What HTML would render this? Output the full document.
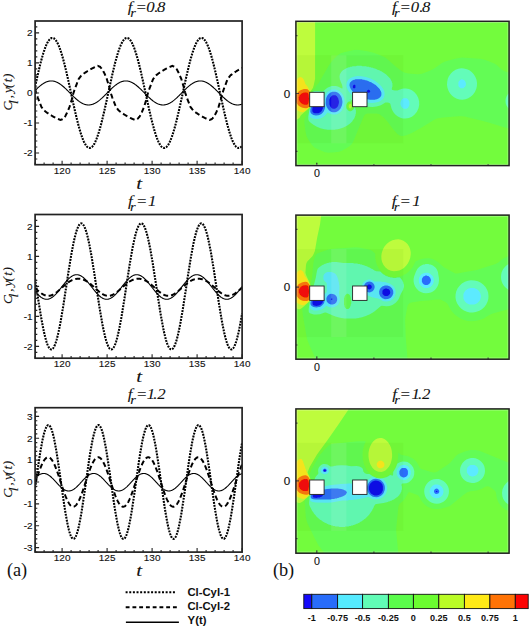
<!DOCTYPE html>
<html><head><meta charset="utf-8"><style>
html,body{margin:0;padding:0;background:#fff;width:529px;height:630px;overflow:hidden}
svg{display:block}
.tk{font-family:"Liberation Sans",sans-serif;font-size:9.8px;fill:#111;stroke:#111;stroke-width:0.12px}
.cb{font-family:"Liberation Sans",sans-serif;font-size:9.1px;font-weight:bold;fill:#111}
.lg{font-family:"Liberation Sans",sans-serif;font-size:11.3px;font-weight:bold;fill:#111}
.ti{font-family:"Liberation Serif",serif;font-style:italic;font-size:14px;fill:#111;stroke:#111;stroke-width:0.08px}
.yl{font-family:"Liberation Serif",serif;font-style:italic;font-size:13.5px;fill:#111;stroke:#111;stroke-width:0.15px}
.tl{font-family:"Liberation Serif",serif;font-style:italic;font-size:17px;fill:#111;stroke:#111;stroke-width:0.1px}
.ab{font-family:"Liberation Serif",serif;font-size:18.3px;fill:#111}
.sub{font-size:10px}
</style></head><body>
<svg width="529" height="630" viewBox="0 0 529 630">
<defs><filter id="soft" x="-5%" y="-5%" width="110%" height="110%"><feGaussianBlur stdDeviation="0.4"/></filter></defs>
<clipPath id="clip21"><rect x="35.1" y="21.0" width="207.0" height="143.7"/></clipPath>
<g clip-path="url(#clip21)" fill="none" stroke="#000">
<path d="M35.1,90.5 L35.4,90.21 L35.69,89.92 L35.99,89.63 L36.28,89.34 L36.58,89.06 L36.87,88.78 L37.17,88.5 L37.47,88.22 L37.76,87.95 L38.06,87.68 L38.35,87.41 L38.65,87.14 L38.94,86.88 L39.24,86.63 L39.54,86.37 L39.83,86.13 L40.13,85.88 L40.42,85.64 L40.72,85.4 L41.01,85.17 L41.31,84.95 L41.61,84.73 L41.9,84.51 L42.2,84.3 L42.49,84.09 L42.79,83.89 L43.08,83.7 L43.38,83.51 L43.68,83.33 L43.97,83.15 L44.27,82.98 L44.56,82.82 L44.86,82.66 L45.15,82.51 L45.45,82.36 L45.75,82.22 L46.04,82.09 L46.34,81.97 L46.63,81.85 L46.93,81.74 L47.22,81.63 L47.52,81.54 L47.82,81.44 L48.11,81.36 L48.41,81.29 L48.7,81.22 L49,81.16 L49.29,81.1 L49.59,81.05 L49.89,81.02 L50.18,80.98 L50.48,80.96 L50.77,80.94 L51.07,80.93 L51.36,80.93 L51.66,80.94 L51.96,80.95 L52.25,80.97 L52.55,81 L52.84,81.03 L53.14,81.07 L53.43,81.12 L53.73,81.18 L54.03,81.25 L54.32,81.32 L54.62,81.4 L54.91,81.48 L55.21,81.58 L55.5,81.68 L55.8,81.78 L56.1,81.9 L56.39,82.02 L56.69,82.15 L56.98,82.28 L57.28,82.43 L57.57,82.57 L57.87,82.73 L58.17,82.89 L58.46,83.06 L58.76,83.23 L59.05,83.41 L59.35,83.59 L59.64,83.78 L59.94,83.98 L60.24,84.18 L60.53,84.39 L60.83,84.6 L61.12,84.82 L61.42,85.05 L61.71,85.27 L62.01,85.51 L62.31,85.74 L62.6,85.99 L62.9,86.23 L63.19,86.48 L63.49,86.74 L63.78,87 L64.08,87.26 L64.38,87.52 L64.67,87.79 L64.97,88.07 L65.26,88.34 L65.56,88.62 L65.85,88.9 L66.15,89.18 L66.45,89.47 L66.74,89.76 L67.04,90.05 L67.33,90.34 L67.63,90.63 L67.92,90.93 L68.22,91.22 L68.52,91.52 L68.81,91.82 L69.11,92.12 L69.4,92.42 L69.7,92.72 L69.99,93.02 L70.29,93.31 L70.59,93.61 L70.88,93.91 L71.18,94.21 L71.47,94.51 L71.77,94.81 L72.06,95.1 L72.36,95.4 L72.66,95.69 L72.95,95.98 L73.25,96.27 L73.54,96.56 L73.84,96.84 L74.13,97.12 L74.43,97.4 L74.73,97.68 L75.02,97.95 L75.32,98.22 L75.61,98.49 L75.91,98.76 L76.2,99.02 L76.5,99.27 L76.8,99.53 L77.09,99.77 L77.39,100.02 L77.68,100.26 L77.98,100.5 L78.27,100.73 L78.57,100.95 L78.87,101.17 L79.16,101.39 L79.46,101.6 L79.75,101.81 L80.05,102.01 L80.34,102.2 L80.64,102.39 L80.94,102.57 L81.23,102.75 L81.53,102.92 L81.82,103.08 L82.12,103.24 L82.41,103.39 L82.71,103.54 L83.01,103.68 L83.3,103.81 L83.6,103.93 L83.89,104.05 L84.19,104.16 L84.48,104.27 L84.78,104.36 L85.08,104.46 L85.37,104.54 L85.67,104.61 L85.96,104.68 L86.26,104.74 L86.55,104.8 L86.85,104.85 L87.15,104.88 L87.44,104.92 L87.74,104.94 L88.03,104.96 L88.33,104.97 L88.62,104.97 L88.92,104.96 L89.22,104.95 L89.51,104.93 L89.81,104.9 L90.1,104.87 L90.4,104.83 L90.69,104.78 L90.99,104.72 L91.29,104.65 L91.58,104.58 L91.88,104.5 L92.17,104.42 L92.47,104.32 L92.76,104.22 L93.06,104.12 L93.36,104 L93.65,103.88 L93.95,103.75 L94.24,103.62 L94.54,103.47 L94.83,103.33 L95.13,103.17 L95.43,103.01 L95.72,102.84 L96.02,102.67 L96.31,102.49 L96.61,102.31 L96.9,102.12 L97.2,101.92 L97.5,101.72 L97.79,101.51 L98.09,101.3 L98.38,101.08 L98.68,100.85 L98.97,100.63 L99.27,100.39 L99.57,100.16 L99.86,99.91 L100.16,99.67 L100.45,99.42 L100.75,99.16 L101.04,98.9 L101.34,98.64 L101.64,98.38 L101.93,98.11 L102.23,97.83 L102.52,97.56 L102.82,97.28 L103.11,97 L103.41,96.72 L103.71,96.43 L104,96.14 L104.3,95.85 L104.59,95.56 L104.89,95.27 L105.18,94.97 L105.48,94.68 L105.78,94.38 L106.07,94.08 L106.37,93.78 L106.66,93.48 L106.96,93.18 L107.25,92.88 L107.55,92.59 L107.85,92.29 L108.14,91.99 L108.44,91.69 L108.73,91.39 L109.03,91.09 L109.32,90.8 L109.62,90.5 L109.92,90.21 L110.21,89.92 L110.51,89.63 L110.8,89.34 L111.1,89.06 L111.39,88.78 L111.69,88.5 L111.99,88.22 L112.28,87.95 L112.58,87.68 L112.87,87.41 L113.17,87.14 L113.46,86.88 L113.76,86.63 L114.06,86.37 L114.35,86.13 L114.65,85.88 L114.94,85.64 L115.24,85.4 L115.53,85.17 L115.83,84.95 L116.13,84.73 L116.42,84.51 L116.72,84.3 L117.01,84.09 L117.31,83.89 L117.6,83.7 L117.9,83.51 L118.2,83.33 L118.49,83.15 L118.79,82.98 L119.08,82.82 L119.38,82.66 L119.67,82.51 L119.97,82.36 L120.27,82.22 L120.56,82.09 L120.86,81.97 L121.15,81.85 L121.45,81.74 L121.74,81.63 L122.04,81.54 L122.34,81.44 L122.63,81.36 L122.93,81.29 L123.22,81.22 L123.52,81.16 L123.81,81.1 L124.11,81.05 L124.41,81.02 L124.7,80.98 L125,80.96 L125.29,80.94 L125.59,80.93 L125.88,80.93 L126.18,80.94 L126.48,80.95 L126.77,80.97 L127.07,81 L127.36,81.03 L127.66,81.07 L127.95,81.12 L128.25,81.18 L128.55,81.25 L128.84,81.32 L129.14,81.4 L129.43,81.48 L129.73,81.58 L130.02,81.68 L130.32,81.78 L130.62,81.9 L130.91,82.02 L131.21,82.15 L131.5,82.28 L131.8,82.43 L132.09,82.57 L132.39,82.73 L132.69,82.89 L132.98,83.06 L133.28,83.23 L133.57,83.41 L133.87,83.59 L134.16,83.78 L134.46,83.98 L134.76,84.18 L135.05,84.39 L135.35,84.6 L135.64,84.82 L135.94,85.05 L136.23,85.27 L136.53,85.51 L136.83,85.74 L137.12,85.99 L137.42,86.23 L137.71,86.48 L138.01,86.74 L138.3,87 L138.6,87.26 L138.9,87.52 L139.19,87.79 L139.49,88.07 L139.78,88.34 L140.08,88.62 L140.37,88.9 L140.67,89.18 L140.97,89.47 L141.26,89.76 L141.56,90.05 L141.85,90.34 L142.15,90.63 L142.44,90.93 L142.74,91.22 L143.04,91.52 L143.33,91.82 L143.63,92.12 L143.92,92.42 L144.22,92.72 L144.51,93.02 L144.81,93.31 L145.11,93.61 L145.4,93.91 L145.7,94.21 L145.99,94.51 L146.29,94.81 L146.58,95.1 L146.88,95.4 L147.18,95.69 L147.47,95.98 L147.77,96.27 L148.06,96.56 L148.36,96.84 L148.65,97.12 L148.95,97.4 L149.25,97.68 L149.54,97.95 L149.84,98.22 L150.13,98.49 L150.43,98.76 L150.72,99.02 L151.02,99.27 L151.32,99.53 L151.61,99.77 L151.91,100.02 L152.2,100.26 L152.5,100.5 L152.79,100.73 L153.09,100.95 L153.39,101.17 L153.68,101.39 L153.98,101.6 L154.27,101.81 L154.57,102.01 L154.86,102.2 L155.16,102.39 L155.46,102.57 L155.75,102.75 L156.05,102.92 L156.34,103.08 L156.64,103.24 L156.93,103.39 L157.23,103.54 L157.53,103.68 L157.82,103.81 L158.12,103.93 L158.41,104.05 L158.71,104.16 L159,104.27 L159.3,104.36 L159.6,104.46 L159.89,104.54 L160.19,104.61 L160.48,104.68 L160.78,104.74 L161.07,104.8 L161.37,104.85 L161.67,104.88 L161.96,104.92 L162.26,104.94 L162.55,104.96 L162.85,104.97 L163.14,104.97 L163.44,104.96 L163.74,104.95 L164.03,104.93 L164.33,104.9 L164.62,104.87 L164.92,104.83 L165.21,104.78 L165.51,104.72 L165.81,104.65 L166.1,104.58 L166.4,104.5 L166.69,104.42 L166.99,104.32 L167.28,104.22 L167.58,104.12 L167.88,104 L168.17,103.88 L168.47,103.75 L168.76,103.62 L169.06,103.47 L169.35,103.33 L169.65,103.17 L169.95,103.01 L170.24,102.84 L170.54,102.67 L170.83,102.49 L171.13,102.31 L171.42,102.12 L171.72,101.92 L172.02,101.72 L172.31,101.51 L172.61,101.3 L172.9,101.08 L173.2,100.85 L173.49,100.63 L173.79,100.39 L174.09,100.16 L174.38,99.91 L174.68,99.67 L174.97,99.42 L175.27,99.16 L175.56,98.9 L175.86,98.64 L176.16,98.38 L176.45,98.11 L176.75,97.83 L177.04,97.56 L177.34,97.28 L177.63,97 L177.93,96.72 L178.23,96.43 L178.52,96.14 L178.82,95.85 L179.11,95.56 L179.41,95.27 L179.7,94.97 L180,94.68 L180.3,94.38 L180.59,94.08 L180.89,93.78 L181.18,93.48 L181.48,93.18 L181.77,92.88 L182.07,92.59 L182.37,92.29 L182.66,91.99 L182.96,91.69 L183.25,91.39 L183.55,91.09 L183.84,90.8 L184.14,90.5 L184.44,90.21 L184.73,89.92 L185.03,89.63 L185.32,89.34 L185.62,89.06 L185.91,88.78 L186.21,88.5 L186.51,88.22 L186.8,87.95 L187.1,87.68 L187.39,87.41 L187.69,87.14 L187.98,86.88 L188.28,86.63 L188.58,86.37 L188.87,86.13 L189.17,85.88 L189.46,85.64 L189.76,85.4 L190.05,85.17 L190.35,84.95 L190.65,84.73 L190.94,84.51 L191.24,84.3 L191.53,84.09 L191.83,83.89 L192.12,83.7 L192.42,83.51 L192.72,83.33 L193.01,83.15 L193.31,82.98 L193.6,82.82 L193.9,82.66 L194.19,82.51 L194.49,82.36 L194.79,82.22 L195.08,82.09 L195.38,81.97 L195.67,81.85 L195.97,81.74 L196.26,81.63 L196.56,81.54 L196.86,81.44 L197.15,81.36 L197.45,81.29 L197.74,81.22 L198.04,81.16 L198.33,81.1 L198.63,81.05 L198.93,81.02 L199.22,80.98 L199.52,80.96 L199.81,80.94 L200.11,80.93 L200.4,80.93 L200.7,80.94 L201,80.95 L201.29,80.97 L201.59,81 L201.88,81.03 L202.18,81.07 L202.47,81.12 L202.77,81.18 L203.07,81.25 L203.36,81.32 L203.66,81.4 L203.95,81.48 L204.25,81.58 L204.54,81.68 L204.84,81.78 L205.14,81.9 L205.43,82.02 L205.73,82.15 L206.02,82.28 L206.32,82.43 L206.61,82.57 L206.91,82.73 L207.21,82.89 L207.5,83.06 L207.8,83.23 L208.09,83.41 L208.39,83.59 L208.68,83.78 L208.98,83.98 L209.28,84.18 L209.57,84.39 L209.87,84.6 L210.16,84.82 L210.46,85.05 L210.75,85.27 L211.05,85.51 L211.35,85.74 L211.64,85.99 L211.94,86.23 L212.23,86.48 L212.53,86.74 L212.82,87 L213.12,87.26 L213.42,87.52 L213.71,87.79 L214.01,88.07 L214.3,88.34 L214.6,88.62 L214.89,88.9 L215.19,89.18 L215.49,89.47 L215.78,89.76 L216.08,90.05 L216.37,90.34 L216.67,90.63 L216.96,90.93 L217.26,91.22 L217.56,91.52 L217.85,91.82 L218.15,92.12 L218.44,92.42 L218.74,92.72 L219.03,93.02 L219.33,93.31 L219.63,93.61 L219.92,93.91 L220.22,94.21 L220.51,94.51 L220.81,94.81 L221.1,95.1 L221.4,95.4 L221.7,95.69 L221.99,95.98 L222.29,96.27 L222.58,96.56 L222.88,96.84 L223.17,97.12 L223.47,97.4 L223.77,97.68 L224.06,97.95 L224.36,98.22 L224.65,98.49 L224.95,98.76 L225.24,99.02 L225.54,99.27 L225.84,99.53 L226.13,99.77 L226.43,100.02 L226.72,100.26 L227.02,100.5 L227.31,100.73 L227.61,100.95 L227.91,101.17 L228.2,101.39 L228.5,101.6 L228.79,101.81 L229.09,102.01 L229.38,102.2 L229.68,102.39 L229.98,102.57 L230.27,102.75 L230.57,102.92 L230.86,103.08 L231.16,103.24 L231.45,103.39 L231.75,103.54 L232.05,103.68 L232.34,103.81 L232.64,103.93 L232.93,104.05 L233.23,104.16 L233.52,104.27 L233.82,104.36 L234.12,104.46 L234.41,104.54 L234.71,104.61 L235,104.68 L235.3,104.74 L235.59,104.8 L235.89,104.85 L236.19,104.88 L236.48,104.92 L236.78,104.94 L237.07,104.96 L237.37,104.97 L237.66,104.97 L237.96,104.96 L238.26,104.95 L238.55,104.93 L238.85,104.9 L239.14,104.87 L239.44,104.83 L239.73,104.78 L240.03,104.72 L240.33,104.65 L240.62,104.58 L240.92,104.5 L241.21,104.42 L241.51,104.32 L241.8,104.22 L242.1,104.12" stroke-width="1.1"/>
<path d="M35.1,88.75 L35.4,89.93 L35.69,91.11 L35.99,92.23 L36.28,93.12 L36.58,94.01 L36.87,94.9 L37.17,95.78 L37.47,96.67 L37.76,97.55 L38.06,98.31 L38.35,99.07 L38.65,99.84 L38.94,100.6 L39.24,101.37 L39.54,102.13 L39.83,102.9 L40.13,103.66 L40.42,104.42 L40.72,105.19 L41.01,105.95 L41.31,106.72 L41.61,107.14 L41.9,107.53 L42.2,107.93 L42.49,108.32 L42.79,108.72 L43.08,109.11 L43.38,109.51 L43.68,109.9 L43.97,110.29 L44.27,110.56 L44.56,110.79 L44.86,111.02 L45.15,111.25 L45.45,111.48 L45.75,111.71 L46.04,111.94 L46.34,112.17 L46.63,112.4 L46.93,112.61 L47.22,112.81 L47.52,113 L47.82,113.2 L48.11,113.4 L48.41,113.6 L48.7,113.79 L49,113.99 L49.29,114.19 L49.59,114.38 L49.89,114.58 L50.18,114.78 L50.48,114.96 L50.77,115.14 L51.07,115.31 L51.36,115.48 L51.66,115.66 L51.96,115.83 L52.25,116 L52.55,116.17 L52.84,116.35 L53.14,116.52 L53.43,116.69 L53.73,116.86 L54.03,117.03 L54.32,117.18 L54.62,117.33 L54.91,117.47 L55.21,117.62 L55.5,117.77 L55.8,117.92 L56.1,118.06 L56.39,118.21 L56.69,118.36 L56.98,118.51 L57.28,118.66 L57.57,118.8 L57.87,118.92 L58.17,119.04 L58.46,119.16 L58.76,119.27 L59.05,119.39 L59.35,119.51 L59.64,119.63 L59.94,119.74 L60.24,119.86 L60.53,119.98 L60.83,119.89 L61.12,119.77 L61.42,119.66 L61.71,119.54 L62.01,119.42 L62.31,119.3 L62.6,119.18 L62.9,119.01 L63.19,118.67 L63.49,118.34 L63.78,118 L64.08,117.67 L64.38,117.33 L64.67,117 L64.97,116.66 L65.26,116.18 L65.56,115.6 L65.85,115.03 L66.15,114.46 L66.45,113.89 L66.74,113.32 L67.04,112.74 L67.33,112.17 L67.63,111.46 L67.92,110.75 L68.22,110.04 L68.52,109.33 L68.81,108.62 L69.11,107.91 L69.4,107.2 L69.7,106.38 L69.99,105.39 L70.29,104.41 L70.59,103.42 L70.88,102.44 L71.18,101.45 L71.47,100.46 L71.77,99.48 L72.06,98.34 L72.36,97.15 L72.66,95.97 L72.95,94.79 L73.25,93.67 L73.54,92.78 L73.84,91.89 L74.13,91 L74.43,90.12 L74.73,89.23 L75.02,88.35 L75.32,87.59 L75.61,86.83 L75.91,86.06 L76.2,85.3 L76.5,84.53 L76.8,83.77 L77.09,83 L77.39,82.24 L77.68,81.48 L77.98,80.71 L78.27,79.95 L78.57,79.18 L78.87,78.76 L79.16,78.37 L79.46,77.97 L79.75,77.58 L80.05,77.18 L80.34,76.79 L80.64,76.39 L80.94,76 L81.23,75.61 L81.53,75.34 L81.82,75.11 L82.12,74.88 L82.41,74.65 L82.71,74.42 L83.01,74.19 L83.3,73.96 L83.6,73.73 L83.89,73.5 L84.19,73.29 L84.48,73.09 L84.78,72.9 L85.08,72.7 L85.37,72.5 L85.67,72.3 L85.96,72.11 L86.26,71.91 L86.55,71.71 L86.85,71.52 L87.15,71.32 L87.44,71.12 L87.74,70.94 L88.03,70.76 L88.33,70.59 L88.62,70.42 L88.92,70.24 L89.22,70.07 L89.51,69.9 L89.81,69.73 L90.1,69.55 L90.4,69.38 L90.69,69.21 L90.99,69.04 L91.29,68.87 L91.58,68.72 L91.88,68.57 L92.17,68.43 L92.47,68.28 L92.76,68.13 L93.06,67.98 L93.36,67.84 L93.65,67.69 L93.95,67.54 L94.24,67.39 L94.54,67.24 L94.83,67.1 L95.13,66.98 L95.43,66.86 L95.72,66.74 L96.02,66.63 L96.31,66.51 L96.61,66.39 L96.9,66.27 L97.2,66.16 L97.5,66.04 L97.79,65.92 L98.09,66.01 L98.38,66.13 L98.68,66.24 L98.97,66.36 L99.27,66.48 L99.57,66.6 L99.86,66.72 L100.16,66.89 L100.45,67.23 L100.75,67.56 L101.04,67.9 L101.34,68.23 L101.64,68.57 L101.93,68.9 L102.23,69.24 L102.52,69.72 L102.82,70.3 L103.11,70.87 L103.41,71.44 L103.71,72.01 L104,72.58 L104.3,73.16 L104.59,73.73 L104.89,74.44 L105.18,75.15 L105.48,75.86 L105.78,76.57 L106.07,77.28 L106.37,77.99 L106.66,78.7 L106.96,79.52 L107.25,80.51 L107.55,81.49 L107.85,82.48 L108.14,83.46 L108.44,84.45 L108.73,85.44 L109.03,86.42 L109.32,87.56 L109.62,88.75 L109.92,89.93 L110.21,91.11 L110.51,92.23 L110.8,93.12 L111.1,94.01 L111.39,94.9 L111.69,95.78 L111.99,96.67 L112.28,97.55 L112.58,98.31 L112.87,99.07 L113.17,99.84 L113.46,100.6 L113.76,101.37 L114.06,102.13 L114.35,102.9 L114.65,103.66 L114.94,104.42 L115.24,105.19 L115.53,105.95 L115.83,106.72 L116.13,107.14 L116.42,107.53 L116.72,107.93 L117.01,108.32 L117.31,108.72 L117.6,109.11 L117.9,109.51 L118.2,109.9 L118.49,110.29 L118.79,110.56 L119.08,110.79 L119.38,111.02 L119.67,111.25 L119.97,111.48 L120.27,111.71 L120.56,111.94 L120.86,112.17 L121.15,112.4 L121.45,112.61 L121.74,112.81 L122.04,113 L122.34,113.2 L122.63,113.4 L122.93,113.6 L123.22,113.79 L123.52,113.99 L123.81,114.19 L124.11,114.38 L124.41,114.58 L124.7,114.78 L125,114.96 L125.29,115.14 L125.59,115.31 L125.88,115.48 L126.18,115.66 L126.48,115.83 L126.77,116 L127.07,116.17 L127.36,116.35 L127.66,116.52 L127.95,116.69 L128.25,116.86 L128.55,117.03 L128.84,117.18 L129.14,117.33 L129.43,117.47 L129.73,117.62 L130.02,117.77 L130.32,117.92 L130.62,118.06 L130.91,118.21 L131.21,118.36 L131.5,118.51 L131.8,118.66 L132.09,118.8 L132.39,118.92 L132.69,119.04 L132.98,119.16 L133.28,119.27 L133.57,119.39 L133.87,119.51 L134.16,119.63 L134.46,119.74 L134.76,119.86 L135.05,119.98 L135.35,119.89 L135.64,119.77 L135.94,119.66 L136.23,119.54 L136.53,119.42 L136.83,119.3 L137.12,119.18 L137.42,119.01 L137.71,118.67 L138.01,118.34 L138.3,118 L138.6,117.67 L138.9,117.33 L139.19,117 L139.49,116.66 L139.78,116.18 L140.08,115.6 L140.37,115.03 L140.67,114.46 L140.97,113.89 L141.26,113.32 L141.56,112.74 L141.85,112.17 L142.15,111.46 L142.44,110.75 L142.74,110.04 L143.04,109.33 L143.33,108.62 L143.63,107.91 L143.92,107.2 L144.22,106.38 L144.51,105.39 L144.81,104.41 L145.11,103.42 L145.4,102.44 L145.7,101.45 L145.99,100.46 L146.29,99.48 L146.58,98.34 L146.88,97.15 L147.18,95.97 L147.47,94.79 L147.77,93.67 L148.06,92.78 L148.36,91.89 L148.65,91 L148.95,90.12 L149.25,89.23 L149.54,88.35 L149.84,87.59 L150.13,86.83 L150.43,86.06 L150.72,85.3 L151.02,84.53 L151.32,83.77 L151.61,83 L151.91,82.24 L152.2,81.48 L152.5,80.71 L152.79,79.95 L153.09,79.18 L153.39,78.76 L153.68,78.37 L153.98,77.97 L154.27,77.58 L154.57,77.18 L154.86,76.79 L155.16,76.39 L155.46,76 L155.75,75.61 L156.05,75.34 L156.34,75.11 L156.64,74.88 L156.93,74.65 L157.23,74.42 L157.53,74.19 L157.82,73.96 L158.12,73.73 L158.41,73.5 L158.71,73.29 L159,73.09 L159.3,72.9 L159.6,72.7 L159.89,72.5 L160.19,72.3 L160.48,72.11 L160.78,71.91 L161.07,71.71 L161.37,71.52 L161.67,71.32 L161.96,71.12 L162.26,70.94 L162.55,70.76 L162.85,70.59 L163.14,70.42 L163.44,70.24 L163.74,70.07 L164.03,69.9 L164.33,69.73 L164.62,69.55 L164.92,69.38 L165.21,69.21 L165.51,69.04 L165.81,68.87 L166.1,68.72 L166.4,68.57 L166.69,68.43 L166.99,68.28 L167.28,68.13 L167.58,67.98 L167.88,67.84 L168.17,67.69 L168.47,67.54 L168.76,67.39 L169.06,67.24 L169.35,67.1 L169.65,66.98 L169.95,66.86 L170.24,66.74 L170.54,66.63 L170.83,66.51 L171.13,66.39 L171.42,66.27 L171.72,66.16 L172.02,66.04 L172.31,65.92 L172.61,66.01 L172.9,66.13 L173.2,66.24 L173.49,66.36 L173.79,66.48 L174.09,66.6 L174.38,66.72 L174.68,66.89 L174.97,67.23 L175.27,67.56 L175.56,67.9 L175.86,68.23 L176.16,68.57 L176.45,68.9 L176.75,69.24 L177.04,69.72 L177.34,70.3 L177.63,70.87 L177.93,71.44 L178.23,72.01 L178.52,72.58 L178.82,73.16 L179.11,73.73 L179.41,74.44 L179.7,75.15 L180,75.86 L180.3,76.57 L180.59,77.28 L180.89,77.99 L181.18,78.7 L181.48,79.52 L181.77,80.51 L182.07,81.49 L182.37,82.48 L182.66,83.46 L182.96,84.45 L183.25,85.44 L183.55,86.42 L183.84,87.56 L184.14,88.75 L184.44,89.93 L184.73,91.11 L185.03,92.23 L185.32,93.12 L185.62,94.01 L185.91,94.9 L186.21,95.78 L186.51,96.67 L186.8,97.55 L187.1,98.31 L187.39,99.07 L187.69,99.84 L187.98,100.6 L188.28,101.37 L188.58,102.13 L188.87,102.9 L189.17,103.66 L189.46,104.42 L189.76,105.19 L190.05,105.95 L190.35,106.72 L190.65,107.14 L190.94,107.53 L191.24,107.93 L191.53,108.32 L191.83,108.72 L192.12,109.11 L192.42,109.51 L192.72,109.9 L193.01,110.29 L193.31,110.56 L193.6,110.79 L193.9,111.02 L194.19,111.25 L194.49,111.48 L194.79,111.71 L195.08,111.94 L195.38,112.17 L195.67,112.4 L195.97,112.61 L196.26,112.81 L196.56,113 L196.86,113.2 L197.15,113.4 L197.45,113.6 L197.74,113.79 L198.04,113.99 L198.33,114.19 L198.63,114.38 L198.93,114.58 L199.22,114.78 L199.52,114.96 L199.81,115.14 L200.11,115.31 L200.4,115.48 L200.7,115.66 L201,115.83 L201.29,116 L201.59,116.17 L201.88,116.35 L202.18,116.52 L202.47,116.69 L202.77,116.86 L203.07,117.03 L203.36,117.18 L203.66,117.33 L203.95,117.47 L204.25,117.62 L204.54,117.77 L204.84,117.92 L205.14,118.06 L205.43,118.21 L205.73,118.36 L206.02,118.51 L206.32,118.66 L206.61,118.8 L206.91,118.92 L207.21,119.04 L207.5,119.16 L207.8,119.27 L208.09,119.39 L208.39,119.51 L208.68,119.63 L208.98,119.74 L209.28,119.86 L209.57,119.98 L209.87,119.89 L210.16,119.77 L210.46,119.66 L210.75,119.54 L211.05,119.42 L211.35,119.3 L211.64,119.18 L211.94,119.01 L212.23,118.67 L212.53,118.34 L212.82,118 L213.12,117.67 L213.42,117.33 L213.71,117 L214.01,116.66 L214.3,116.18 L214.6,115.6 L214.89,115.03 L215.19,114.46 L215.49,113.89 L215.78,113.32 L216.08,112.74 L216.37,112.17 L216.67,111.46 L216.96,110.75 L217.26,110.04 L217.56,109.33 L217.85,108.62 L218.15,107.91 L218.44,107.2 L218.74,106.38 L219.03,105.39 L219.33,104.41 L219.63,103.42 L219.92,102.44 L220.22,101.45 L220.51,100.46 L220.81,99.48 L221.1,98.34 L221.4,97.15 L221.7,95.97 L221.99,94.79 L222.29,93.67 L222.58,92.78 L222.88,91.89 L223.17,91 L223.47,90.12 L223.77,89.23 L224.06,88.35 L224.36,87.59 L224.65,86.83 L224.95,86.06 L225.24,85.3 L225.54,84.53 L225.84,83.77 L226.13,83 L226.43,82.24 L226.72,81.48 L227.02,80.71 L227.31,79.95 L227.61,79.18 L227.91,78.76 L228.2,78.37 L228.5,77.97 L228.79,77.58 L229.09,77.18 L229.38,76.79 L229.68,76.39 L229.98,76 L230.27,75.61 L230.57,75.34 L230.86,75.11 L231.16,74.88 L231.45,74.65 L231.75,74.42 L232.05,74.19 L232.34,73.96 L232.64,73.73 L232.93,73.5 L233.23,73.29 L233.52,73.09 L233.82,72.9 L234.12,72.7 L234.41,72.5 L234.71,72.3 L235,72.11 L235.3,71.91 L235.59,71.71 L235.89,71.52 L236.19,71.32 L236.48,71.12 L236.78,70.94 L237.07,70.76 L237.37,70.59 L237.66,70.42 L237.96,70.24 L238.26,70.07 L238.55,69.9 L238.85,69.73 L239.14,69.55 L239.44,69.38 L239.73,69.21 L240.03,69.04 L240.33,68.87 L240.62,68.72 L240.92,68.57 L241.21,68.43 L241.51,68.28 L241.8,68.13 L242.1,67.98" stroke-width="2" stroke-dasharray="5 3"/>
<path d="M35.1,86.7 L35.4,85.34 L35.69,83.99 L35.99,82.64 L36.28,81.3 L36.58,79.96 L36.87,78.63 L37.17,77.31 L37.47,76 L37.76,74.7 L38.06,73.42 L38.35,72.14 L38.65,70.88 L38.94,69.63 L39.24,68.39 L39.54,67.18 L39.83,65.97 L40.13,64.79 L40.42,63.62 L40.72,62.47 L41.01,61.33 L41.31,60.22 L41.61,59.13 L41.9,58.06 L42.2,57.01 L42.49,55.99 L42.79,54.98 L43.08,54 L43.38,53.05 L43.68,52.12 L43.97,51.21 L44.27,50.33 L44.56,49.48 L44.86,48.65 L45.15,47.85 L45.45,47.08 L45.75,46.34 L46.04,45.63 L46.34,44.94 L46.63,44.29 L46.93,43.67 L47.22,43.07 L47.52,42.51 L47.82,41.98 L48.11,41.48 L48.41,41.01 L48.7,40.58 L49,40.18 L49.29,39.81 L49.59,39.47 L49.89,39.17 L50.18,38.9 L50.48,38.66 L50.77,38.46 L51.07,38.29 L51.36,38.16 L51.66,38.06 L51.96,37.99 L52.25,37.96 L52.55,37.96 L52.84,38 L53.14,38.07 L53.43,38.18 L53.73,38.31 L54.03,38.49 L54.32,38.69 L54.62,38.93 L54.91,39.21 L55.21,39.52 L55.5,39.86 L55.8,40.23 L56.1,40.64 L56.39,41.07 L56.69,41.55 L56.98,42.05 L57.28,42.58 L57.57,43.15 L57.87,43.75 L58.17,44.37 L58.46,45.03 L58.76,45.72 L59.05,46.44 L59.35,47.18 L59.64,47.95 L59.94,48.76 L60.24,49.59 L60.53,50.44 L60.83,51.33 L61.12,52.24 L61.42,53.17 L61.71,54.13 L62.01,55.11 L62.31,56.12 L62.6,57.15 L62.9,58.2 L63.19,59.27 L63.49,60.37 L63.78,61.48 L64.08,62.62 L64.38,63.77 L64.67,64.94 L64.97,66.13 L65.26,67.33 L65.56,68.55 L65.85,69.79 L66.15,71.04 L66.45,72.31 L66.74,73.58 L67.04,74.87 L67.33,76.17 L67.63,77.48 L67.92,78.8 L68.22,80.13 L68.52,81.47 L68.81,82.81 L69.11,84.16 L69.4,85.52 L69.7,86.88 L69.99,88.25 L70.29,89.61 L70.59,90.98 L70.88,92.35 L71.18,93.72 L71.47,95.1 L71.77,96.46 L72.06,97.83 L72.36,99.2 L72.66,100.56 L72.95,101.91 L73.25,103.26 L73.54,104.6 L73.84,105.94 L74.13,107.27 L74.43,108.59 L74.73,109.9 L75.02,111.2 L75.32,112.48 L75.61,113.76 L75.91,115.02 L76.2,116.27 L76.5,117.51 L76.8,118.72 L77.09,119.93 L77.39,121.11 L77.68,122.28 L77.98,123.43 L78.27,124.57 L78.57,125.68 L78.87,126.77 L79.16,127.84 L79.46,128.89 L79.75,129.91 L80.05,130.92 L80.34,131.9 L80.64,132.85 L80.94,133.78 L81.23,134.69 L81.53,135.57 L81.82,136.42 L82.12,137.25 L82.41,138.05 L82.71,138.82 L83.01,139.56 L83.3,140.27 L83.6,140.96 L83.89,141.61 L84.19,142.23 L84.48,142.83 L84.78,143.39 L85.08,143.92 L85.37,144.42 L85.67,144.89 L85.96,145.32 L86.26,145.72 L86.55,146.09 L86.85,146.43 L87.15,146.73 L87.44,147 L87.74,147.24 L88.03,147.44 L88.33,147.61 L88.62,147.74 L88.92,147.84 L89.22,147.91 L89.51,147.94 L89.81,147.94 L90.1,147.9 L90.4,147.83 L90.69,147.72 L90.99,147.59 L91.29,147.41 L91.58,147.21 L91.88,146.97 L92.17,146.69 L92.47,146.38 L92.76,146.04 L93.06,145.67 L93.36,145.26 L93.65,144.83 L93.95,144.35 L94.24,143.85 L94.54,143.32 L94.83,142.75 L95.13,142.15 L95.43,141.53 L95.72,140.87 L96.02,140.18 L96.31,139.46 L96.61,138.72 L96.9,137.95 L97.2,137.14 L97.5,136.31 L97.79,135.46 L98.09,134.57 L98.38,133.66 L98.68,132.73 L98.97,131.77 L99.27,130.79 L99.57,129.78 L99.86,128.75 L100.16,127.7 L100.45,126.63 L100.75,125.53 L101.04,124.42 L101.34,123.28 L101.64,122.13 L101.93,120.96 L102.23,119.77 L102.52,118.57 L102.82,117.35 L103.11,116.11 L103.41,114.86 L103.71,113.59 L104,112.32 L104.3,111.03 L104.59,109.73 L104.89,108.42 L105.18,107.1 L105.48,105.77 L105.78,104.43 L106.07,103.09 L106.37,101.74 L106.66,100.38 L106.96,99.02 L107.25,97.65 L107.55,96.29 L107.85,94.92 L108.14,93.55 L108.44,92.18 L108.73,90.8 L109.03,89.44 L109.32,88.07 L109.62,86.7 L109.92,85.34 L110.21,83.99 L110.51,82.64 L110.8,81.3 L111.1,79.96 L111.39,78.63 L111.69,77.31 L111.99,76 L112.28,74.7 L112.58,73.42 L112.87,72.14 L113.17,70.88 L113.46,69.63 L113.76,68.39 L114.06,67.18 L114.35,65.97 L114.65,64.79 L114.94,63.62 L115.24,62.47 L115.53,61.33 L115.83,60.22 L116.13,59.13 L116.42,58.06 L116.72,57.01 L117.01,55.99 L117.31,54.98 L117.6,54 L117.9,53.05 L118.2,52.12 L118.49,51.21 L118.79,50.33 L119.08,49.48 L119.38,48.65 L119.67,47.85 L119.97,47.08 L120.27,46.34 L120.56,45.63 L120.86,44.94 L121.15,44.29 L121.45,43.67 L121.74,43.07 L122.04,42.51 L122.34,41.98 L122.63,41.48 L122.93,41.01 L123.22,40.58 L123.52,40.18 L123.81,39.81 L124.11,39.47 L124.41,39.17 L124.7,38.9 L125,38.66 L125.29,38.46 L125.59,38.29 L125.88,38.16 L126.18,38.06 L126.48,37.99 L126.77,37.96 L127.07,37.96 L127.36,38 L127.66,38.07 L127.95,38.18 L128.25,38.31 L128.55,38.49 L128.84,38.69 L129.14,38.93 L129.43,39.21 L129.73,39.52 L130.02,39.86 L130.32,40.23 L130.62,40.64 L130.91,41.07 L131.21,41.55 L131.5,42.05 L131.8,42.58 L132.09,43.15 L132.39,43.75 L132.69,44.37 L132.98,45.03 L133.28,45.72 L133.57,46.44 L133.87,47.18 L134.16,47.95 L134.46,48.76 L134.76,49.59 L135.05,50.44 L135.35,51.33 L135.64,52.24 L135.94,53.17 L136.23,54.13 L136.53,55.11 L136.83,56.12 L137.12,57.15 L137.42,58.2 L137.71,59.27 L138.01,60.37 L138.3,61.48 L138.6,62.62 L138.9,63.77 L139.19,64.94 L139.49,66.13 L139.78,67.33 L140.08,68.55 L140.37,69.79 L140.67,71.04 L140.97,72.31 L141.26,73.58 L141.56,74.87 L141.85,76.17 L142.15,77.48 L142.44,78.8 L142.74,80.13 L143.04,81.47 L143.33,82.81 L143.63,84.16 L143.92,85.52 L144.22,86.88 L144.51,88.25 L144.81,89.61 L145.11,90.98 L145.4,92.35 L145.7,93.72 L145.99,95.1 L146.29,96.46 L146.58,97.83 L146.88,99.2 L147.18,100.56 L147.47,101.91 L147.77,103.26 L148.06,104.6 L148.36,105.94 L148.65,107.27 L148.95,108.59 L149.25,109.9 L149.54,111.2 L149.84,112.48 L150.13,113.76 L150.43,115.02 L150.72,116.27 L151.02,117.51 L151.32,118.72 L151.61,119.93 L151.91,121.11 L152.2,122.28 L152.5,123.43 L152.79,124.57 L153.09,125.68 L153.39,126.77 L153.68,127.84 L153.98,128.89 L154.27,129.91 L154.57,130.92 L154.86,131.9 L155.16,132.85 L155.46,133.78 L155.75,134.69 L156.05,135.57 L156.34,136.42 L156.64,137.25 L156.93,138.05 L157.23,138.82 L157.53,139.56 L157.82,140.27 L158.12,140.96 L158.41,141.61 L158.71,142.23 L159,142.83 L159.3,143.39 L159.6,143.92 L159.89,144.42 L160.19,144.89 L160.48,145.32 L160.78,145.72 L161.07,146.09 L161.37,146.43 L161.67,146.73 L161.96,147 L162.26,147.24 L162.55,147.44 L162.85,147.61 L163.14,147.74 L163.44,147.84 L163.74,147.91 L164.03,147.94 L164.33,147.94 L164.62,147.9 L164.92,147.83 L165.21,147.72 L165.51,147.59 L165.81,147.41 L166.1,147.21 L166.4,146.97 L166.69,146.69 L166.99,146.38 L167.28,146.04 L167.58,145.67 L167.88,145.26 L168.17,144.83 L168.47,144.35 L168.76,143.85 L169.06,143.32 L169.35,142.75 L169.65,142.15 L169.95,141.53 L170.24,140.87 L170.54,140.18 L170.83,139.46 L171.13,138.72 L171.42,137.95 L171.72,137.14 L172.02,136.31 L172.31,135.46 L172.61,134.57 L172.9,133.66 L173.2,132.73 L173.49,131.77 L173.79,130.79 L174.09,129.78 L174.38,128.75 L174.68,127.7 L174.97,126.63 L175.27,125.53 L175.56,124.42 L175.86,123.28 L176.16,122.13 L176.45,120.96 L176.75,119.77 L177.04,118.57 L177.34,117.35 L177.63,116.11 L177.93,114.86 L178.23,113.59 L178.52,112.32 L178.82,111.03 L179.11,109.73 L179.41,108.42 L179.7,107.1 L180,105.77 L180.3,104.43 L180.59,103.09 L180.89,101.74 L181.18,100.38 L181.48,99.02 L181.77,97.65 L182.07,96.29 L182.37,94.92 L182.66,93.55 L182.96,92.18 L183.25,90.8 L183.55,89.44 L183.84,88.07 L184.14,86.7 L184.44,85.34 L184.73,83.99 L185.03,82.64 L185.32,81.3 L185.62,79.96 L185.91,78.63 L186.21,77.31 L186.51,76 L186.8,74.7 L187.1,73.42 L187.39,72.14 L187.69,70.88 L187.98,69.63 L188.28,68.39 L188.58,67.18 L188.87,65.97 L189.17,64.79 L189.46,63.62 L189.76,62.47 L190.05,61.33 L190.35,60.22 L190.65,59.13 L190.94,58.06 L191.24,57.01 L191.53,55.99 L191.83,54.98 L192.12,54 L192.42,53.05 L192.72,52.12 L193.01,51.21 L193.31,50.33 L193.6,49.48 L193.9,48.65 L194.19,47.85 L194.49,47.08 L194.79,46.34 L195.08,45.63 L195.38,44.94 L195.67,44.29 L195.97,43.67 L196.26,43.07 L196.56,42.51 L196.86,41.98 L197.15,41.48 L197.45,41.01 L197.74,40.58 L198.04,40.18 L198.33,39.81 L198.63,39.47 L198.93,39.17 L199.22,38.9 L199.52,38.66 L199.81,38.46 L200.11,38.29 L200.4,38.16 L200.7,38.06 L201,37.99 L201.29,37.96 L201.59,37.96 L201.88,38 L202.18,38.07 L202.47,38.18 L202.77,38.31 L203.07,38.49 L203.36,38.69 L203.66,38.93 L203.95,39.21 L204.25,39.52 L204.54,39.86 L204.84,40.23 L205.14,40.64 L205.43,41.07 L205.73,41.55 L206.02,42.05 L206.32,42.58 L206.61,43.15 L206.91,43.75 L207.21,44.37 L207.5,45.03 L207.8,45.72 L208.09,46.44 L208.39,47.18 L208.68,47.95 L208.98,48.76 L209.28,49.59 L209.57,50.44 L209.87,51.33 L210.16,52.24 L210.46,53.17 L210.75,54.13 L211.05,55.11 L211.35,56.12 L211.64,57.15 L211.94,58.2 L212.23,59.27 L212.53,60.37 L212.82,61.48 L213.12,62.62 L213.42,63.77 L213.71,64.94 L214.01,66.13 L214.3,67.33 L214.6,68.55 L214.89,69.79 L215.19,71.04 L215.49,72.31 L215.78,73.58 L216.08,74.87 L216.37,76.17 L216.67,77.48 L216.96,78.8 L217.26,80.13 L217.56,81.47 L217.85,82.81 L218.15,84.16 L218.44,85.52 L218.74,86.88 L219.03,88.25 L219.33,89.61 L219.63,90.98 L219.92,92.35 L220.22,93.72 L220.51,95.1 L220.81,96.46 L221.1,97.83 L221.4,99.2 L221.7,100.56 L221.99,101.91 L222.29,103.26 L222.58,104.6 L222.88,105.94 L223.17,107.27 L223.47,108.59 L223.77,109.9 L224.06,111.2 L224.36,112.48 L224.65,113.76 L224.95,115.02 L225.24,116.27 L225.54,117.51 L225.84,118.72 L226.13,119.93 L226.43,121.11 L226.72,122.28 L227.02,123.43 L227.31,124.57 L227.61,125.68 L227.91,126.77 L228.2,127.84 L228.5,128.89 L228.79,129.91 L229.09,130.92 L229.38,131.9 L229.68,132.85 L229.98,133.78 L230.27,134.69 L230.57,135.57 L230.86,136.42 L231.16,137.25 L231.45,138.05 L231.75,138.82 L232.05,139.56 L232.34,140.27 L232.64,140.96 L232.93,141.61 L233.23,142.23 L233.52,142.83 L233.82,143.39 L234.12,143.92 L234.41,144.42 L234.71,144.89 L235,145.32 L235.3,145.72 L235.59,146.09 L235.89,146.43 L236.19,146.73 L236.48,147 L236.78,147.24 L237.07,147.44 L237.37,147.61 L237.66,147.74 L237.96,147.84 L238.26,147.91 L238.55,147.94 L238.85,147.94 L239.14,147.9 L239.44,147.83 L239.73,147.72 L240.03,147.59 L240.33,147.41 L240.62,147.21 L240.92,146.97 L241.21,146.69 L241.51,146.38 L241.8,146.04 L242.1,145.67" stroke-width="2.1" stroke-dasharray="1.9 1.1"/>
</g>
<path d="M35.1,164.7 v-2.2 M44.1,164.7 v-2.2 M53.1,164.7 v-2.2 M62.1,164.7 v-4 M71.1,164.7 v-2.2 M80.1,164.7 v-2.2 M89.1,164.7 v-2.2 M98.1,164.7 v-2.2 M107.1,164.7 v-4 M116.1,164.7 v-2.2 M125.1,164.7 v-2.2 M134.1,164.7 v-2.2 M143.1,164.7 v-2.2 M152.1,164.7 v-4 M161.1,164.7 v-2.2 M170.1,164.7 v-2.2 M179.1,164.7 v-2.2 M188.1,164.7 v-2.2 M197.1,164.7 v-4 M206.1,164.7 v-2.2 M215.1,164.7 v-2.2 M224.1,164.7 v-2.2 M233.1,164.7 v-2.2 M242.1,164.7 v-4 M35.1,159.06 h2.2 M35.1,153.05 h4 M35.1,147.04 h2.2 M35.1,141.03 h2.2 M35.1,135.02 h2.2 M35.1,129.01 h2.2 M35.1,123 h4 M35.1,116.99 h2.2 M35.1,110.98 h2.2 M35.1,104.97 h2.2 M35.1,98.96 h2.2 M35.1,92.95 h4 M35.1,86.94 h2.2 M35.1,80.93 h2.2 M35.1,74.92 h2.2 M35.1,68.91 h2.2 M35.1,62.9 h4 M35.1,56.89 h2.2 M35.1,50.88 h2.2 M35.1,44.87 h2.2 M35.1,38.86 h2.2 M35.1,32.85 h4 M35.1,26.84 h2.2" stroke="#222" stroke-width="1.1" fill="none"/>
<rect x="35.1" y="21.0" width="207.0" height="143.7" fill="none" stroke="#222" stroke-width="1.7"/>
<text transform="translate(62.1,173.8) scale(1.02,1)" class="tk" text-anchor="middle">120</text>
<text transform="translate(107.1,173.8) scale(1.02,1)" class="tk" text-anchor="middle">125</text>
<text transform="translate(152.1,173.8) scale(1.02,1)" class="tk" text-anchor="middle">130</text>
<text transform="translate(197.1,173.8) scale(1.02,1)" class="tk" text-anchor="middle">135</text>
<text transform="translate(242.1,173.8) scale(1.02,1)" class="tk" text-anchor="middle">140</text>
<text transform="translate(32.5,36.15) scale(1.02,1)" class="tk" text-anchor="end">2</text>
<text transform="translate(32.5,66.2) scale(1.02,1)" class="tk" text-anchor="end">1</text>
<text transform="translate(32.5,96.25) scale(1.02,1)" class="tk" text-anchor="end">0</text>
<text transform="translate(32.5,126.3) scale(1.02,1)" class="tk" text-anchor="end">-1</text>
<text transform="translate(32.5,156.35) scale(1.02,1)" class="tk" text-anchor="end">-2</text>
<clipPath id="clip214"><rect x="35.1" y="214.5" width="207.0" height="143.7"/></clipPath>
<g clip-path="url(#clip214)" fill="none" stroke="#000">
<path d="M35.1,291.34 L35.4,291.69 L35.69,292.04 L35.99,292.39 L36.28,292.72 L36.58,293.06 L36.87,293.39 L37.17,293.71 L37.47,294.03 L37.76,294.33 L38.06,294.64 L38.35,294.93 L38.65,295.22 L38.94,295.5 L39.24,295.77 L39.54,296.03 L39.83,296.29 L40.13,296.53 L40.42,296.77 L40.72,296.99 L41.01,297.21 L41.31,297.42 L41.61,297.62 L41.9,297.8 L42.2,297.98 L42.49,298.15 L42.79,298.3 L43.08,298.45 L43.38,298.58 L43.68,298.7 L43.97,298.81 L44.27,298.91 L44.56,299 L44.86,299.08 L45.15,299.15 L45.45,299.2 L45.75,299.24 L46.04,299.27 L46.34,299.29 L46.63,299.3 L46.93,299.3 L47.22,299.28 L47.52,299.25 L47.82,299.21 L48.11,299.16 L48.41,299.1 L48.7,299.02 L49,298.93 L49.29,298.84 L49.59,298.73 L49.89,298.61 L50.18,298.48 L50.48,298.33 L50.77,298.18 L51.07,298.02 L51.36,297.84 L51.66,297.66 L51.96,297.46 L52.25,297.26 L52.55,297.04 L52.84,296.82 L53.14,296.58 L53.43,296.34 L53.73,296.09 L54.03,295.83 L54.32,295.56 L54.62,295.28 L54.91,294.99 L55.21,294.7 L55.5,294.4 L55.8,294.09 L56.1,293.78 L56.39,293.46 L56.69,293.13 L56.98,292.8 L57.28,292.46 L57.57,292.12 L57.87,291.77 L58.17,291.41 L58.46,291.06 L58.76,290.7 L59.05,290.33 L59.35,289.96 L59.64,289.59 L59.94,289.22 L60.24,288.84 L60.53,288.47 L60.83,288.09 L61.12,287.71 L61.42,287.33 L61.71,286.95 L62.01,286.57 L62.31,286.19 L62.6,285.81 L62.9,285.43 L63.19,285.05 L63.49,284.68 L63.78,284.3 L64.08,283.93 L64.38,283.57 L64.67,283.2 L64.97,282.84 L65.26,282.49 L65.56,282.13 L65.85,281.79 L66.15,281.44 L66.45,281.11 L66.74,280.78 L67.04,280.45 L67.33,280.13 L67.63,279.82 L67.92,279.51 L68.22,279.22 L68.52,278.92 L68.81,278.64 L69.11,278.37 L69.4,278.1 L69.7,277.84 L69.99,277.59 L70.29,277.35 L70.59,277.12 L70.88,276.9 L71.18,276.68 L71.47,276.48 L71.77,276.29 L72.06,276.11 L72.36,275.94 L72.66,275.78 L72.95,275.62 L73.25,275.49 L73.54,275.36 L73.84,275.24 L74.13,275.13 L74.43,275.04 L74.73,274.96 L75.02,274.88 L75.32,274.82 L75.61,274.78 L75.91,274.74 L76.2,274.72 L76.5,274.7 L76.8,274.7 L77.09,274.71 L77.39,274.73 L77.68,274.77 L77.98,274.81 L78.27,274.87 L78.57,274.94 L78.87,275.02 L79.16,275.11 L79.46,275.22 L79.75,275.33 L80.05,275.46 L80.34,275.59 L80.64,275.74 L80.94,275.9 L81.23,276.07 L81.53,276.25 L81.82,276.44 L82.12,276.64 L82.41,276.85 L82.71,277.07 L83.01,277.3 L83.3,277.54 L83.6,277.79 L83.89,278.04 L84.19,278.31 L84.48,278.58 L84.78,278.86 L85.08,279.15 L85.37,279.45 L85.67,279.75 L85.96,280.06 L86.26,280.38 L86.55,280.7 L86.85,281.03 L87.15,281.37 L87.44,281.71 L87.74,282.06 L88.03,282.41 L88.33,282.76 L88.62,283.12 L88.92,283.49 L89.22,283.85 L89.51,284.22 L89.81,284.59 L90.1,284.97 L90.4,285.35 L90.69,285.72 L90.99,286.1 L91.29,286.48 L91.58,286.86 L91.88,287.24 L92.17,287.62 L92.47,288 L92.76,288.38 L93.06,288.76 L93.36,289.14 L93.65,289.51 L93.95,289.88 L94.24,290.25 L94.54,290.62 L94.83,290.98 L95.13,291.34 L95.43,291.69 L95.72,292.04 L96.02,292.39 L96.31,292.72 L96.61,293.06 L96.9,293.39 L97.2,293.71 L97.5,294.03 L97.79,294.33 L98.09,294.64 L98.38,294.93 L98.68,295.22 L98.97,295.5 L99.27,295.77 L99.57,296.03 L99.86,296.29 L100.16,296.53 L100.45,296.77 L100.75,296.99 L101.04,297.21 L101.34,297.42 L101.64,297.62 L101.93,297.8 L102.23,297.98 L102.52,298.15 L102.82,298.3 L103.11,298.45 L103.41,298.58 L103.71,298.7 L104,298.81 L104.3,298.91 L104.59,299 L104.89,299.08 L105.18,299.15 L105.48,299.2 L105.78,299.24 L106.07,299.27 L106.37,299.29 L106.66,299.3 L106.96,299.3 L107.25,299.28 L107.55,299.25 L107.85,299.21 L108.14,299.16 L108.44,299.1 L108.73,299.02 L109.03,298.93 L109.32,298.84 L109.62,298.73 L109.92,298.61 L110.21,298.48 L110.51,298.33 L110.8,298.18 L111.1,298.02 L111.39,297.84 L111.69,297.66 L111.99,297.46 L112.28,297.26 L112.58,297.04 L112.87,296.82 L113.17,296.58 L113.46,296.34 L113.76,296.09 L114.06,295.83 L114.35,295.56 L114.65,295.28 L114.94,294.99 L115.24,294.7 L115.53,294.4 L115.83,294.09 L116.13,293.78 L116.42,293.46 L116.72,293.13 L117.01,292.8 L117.31,292.46 L117.6,292.12 L117.9,291.77 L118.2,291.41 L118.49,291.06 L118.79,290.7 L119.08,290.33 L119.38,289.96 L119.67,289.59 L119.97,289.22 L120.27,288.84 L120.56,288.47 L120.86,288.09 L121.15,287.71 L121.45,287.33 L121.74,286.95 L122.04,286.57 L122.34,286.19 L122.63,285.81 L122.93,285.43 L123.22,285.05 L123.52,284.68 L123.81,284.3 L124.11,283.93 L124.41,283.57 L124.7,283.2 L125,282.84 L125.29,282.49 L125.59,282.13 L125.88,281.79 L126.18,281.44 L126.48,281.11 L126.77,280.78 L127.07,280.45 L127.36,280.13 L127.66,279.82 L127.95,279.51 L128.25,279.22 L128.55,278.92 L128.84,278.64 L129.14,278.37 L129.43,278.1 L129.73,277.84 L130.02,277.59 L130.32,277.35 L130.62,277.12 L130.91,276.9 L131.21,276.68 L131.5,276.48 L131.8,276.29 L132.09,276.11 L132.39,275.94 L132.69,275.78 L132.98,275.62 L133.28,275.49 L133.57,275.36 L133.87,275.24 L134.16,275.13 L134.46,275.04 L134.76,274.96 L135.05,274.88 L135.35,274.82 L135.64,274.78 L135.94,274.74 L136.23,274.72 L136.53,274.7 L136.83,274.7 L137.12,274.71 L137.42,274.73 L137.71,274.77 L138.01,274.81 L138.3,274.87 L138.6,274.94 L138.9,275.02 L139.19,275.11 L139.49,275.22 L139.78,275.33 L140.08,275.46 L140.37,275.59 L140.67,275.74 L140.97,275.9 L141.26,276.07 L141.56,276.25 L141.85,276.44 L142.15,276.64 L142.44,276.85 L142.74,277.07 L143.04,277.3 L143.33,277.54 L143.63,277.79 L143.92,278.04 L144.22,278.31 L144.51,278.58 L144.81,278.86 L145.11,279.15 L145.4,279.45 L145.7,279.75 L145.99,280.06 L146.29,280.38 L146.58,280.7 L146.88,281.03 L147.18,281.37 L147.47,281.71 L147.77,282.06 L148.06,282.41 L148.36,282.76 L148.65,283.12 L148.95,283.49 L149.25,283.85 L149.54,284.22 L149.84,284.59 L150.13,284.97 L150.43,285.35 L150.72,285.72 L151.02,286.1 L151.32,286.48 L151.61,286.86 L151.91,287.24 L152.2,287.62 L152.5,288 L152.79,288.38 L153.09,288.76 L153.39,289.14 L153.68,289.51 L153.98,289.88 L154.27,290.25 L154.57,290.62 L154.86,290.98 L155.16,291.34 L155.46,291.69 L155.75,292.04 L156.05,292.39 L156.34,292.72 L156.64,293.06 L156.93,293.39 L157.23,293.71 L157.53,294.03 L157.82,294.33 L158.12,294.64 L158.41,294.93 L158.71,295.22 L159,295.5 L159.3,295.77 L159.6,296.03 L159.89,296.29 L160.19,296.53 L160.48,296.77 L160.78,296.99 L161.07,297.21 L161.37,297.42 L161.67,297.62 L161.96,297.8 L162.26,297.98 L162.55,298.15 L162.85,298.3 L163.14,298.45 L163.44,298.58 L163.74,298.7 L164.03,298.81 L164.33,298.91 L164.62,299 L164.92,299.08 L165.21,299.15 L165.51,299.2 L165.81,299.24 L166.1,299.27 L166.4,299.29 L166.69,299.3 L166.99,299.3 L167.28,299.28 L167.58,299.25 L167.88,299.21 L168.17,299.16 L168.47,299.1 L168.76,299.02 L169.06,298.93 L169.35,298.84 L169.65,298.73 L169.95,298.61 L170.24,298.48 L170.54,298.33 L170.83,298.18 L171.13,298.02 L171.42,297.84 L171.72,297.66 L172.02,297.46 L172.31,297.26 L172.61,297.04 L172.9,296.82 L173.2,296.58 L173.49,296.34 L173.79,296.09 L174.09,295.83 L174.38,295.56 L174.68,295.28 L174.97,294.99 L175.27,294.7 L175.56,294.4 L175.86,294.09 L176.16,293.78 L176.45,293.46 L176.75,293.13 L177.04,292.8 L177.34,292.46 L177.63,292.12 L177.93,291.77 L178.23,291.41 L178.52,291.06 L178.82,290.7 L179.11,290.33 L179.41,289.96 L179.7,289.59 L180,289.22 L180.3,288.84 L180.59,288.47 L180.89,288.09 L181.18,287.71 L181.48,287.33 L181.77,286.95 L182.07,286.57 L182.37,286.19 L182.66,285.81 L182.96,285.43 L183.25,285.05 L183.55,284.68 L183.84,284.3 L184.14,283.93 L184.44,283.57 L184.73,283.2 L185.03,282.84 L185.32,282.49 L185.62,282.13 L185.91,281.79 L186.21,281.44 L186.51,281.11 L186.8,280.78 L187.1,280.45 L187.39,280.13 L187.69,279.82 L187.98,279.51 L188.28,279.22 L188.58,278.92 L188.87,278.64 L189.17,278.37 L189.46,278.1 L189.76,277.84 L190.05,277.59 L190.35,277.35 L190.65,277.12 L190.94,276.9 L191.24,276.68 L191.53,276.48 L191.83,276.29 L192.12,276.11 L192.42,275.94 L192.72,275.78 L193.01,275.62 L193.31,275.49 L193.6,275.36 L193.9,275.24 L194.19,275.13 L194.49,275.04 L194.79,274.96 L195.08,274.88 L195.38,274.82 L195.67,274.78 L195.97,274.74 L196.26,274.72 L196.56,274.7 L196.86,274.7 L197.15,274.71 L197.45,274.73 L197.74,274.77 L198.04,274.81 L198.33,274.87 L198.63,274.94 L198.93,275.02 L199.22,275.11 L199.52,275.22 L199.81,275.33 L200.11,275.46 L200.4,275.59 L200.7,275.74 L201,275.9 L201.29,276.07 L201.59,276.25 L201.88,276.44 L202.18,276.64 L202.47,276.85 L202.77,277.07 L203.07,277.3 L203.36,277.54 L203.66,277.79 L203.95,278.04 L204.25,278.31 L204.54,278.58 L204.84,278.86 L205.14,279.15 L205.43,279.45 L205.73,279.75 L206.02,280.06 L206.32,280.38 L206.61,280.7 L206.91,281.03 L207.21,281.37 L207.5,281.71 L207.8,282.06 L208.09,282.41 L208.39,282.76 L208.68,283.12 L208.98,283.49 L209.28,283.85 L209.57,284.22 L209.87,284.59 L210.16,284.97 L210.46,285.35 L210.75,285.72 L211.05,286.1 L211.35,286.48 L211.64,286.86 L211.94,287.24 L212.23,287.62 L212.53,288 L212.82,288.38 L213.12,288.76 L213.42,289.14 L213.71,289.51 L214.01,289.88 L214.3,290.25 L214.6,290.62 L214.89,290.98 L215.19,291.34 L215.49,291.69 L215.78,292.04 L216.08,292.39 L216.37,292.72 L216.67,293.06 L216.96,293.39 L217.26,293.71 L217.56,294.03 L217.85,294.33 L218.15,294.64 L218.44,294.93 L218.74,295.22 L219.03,295.5 L219.33,295.77 L219.63,296.03 L219.92,296.29 L220.22,296.53 L220.51,296.77 L220.81,296.99 L221.1,297.21 L221.4,297.42 L221.7,297.62 L221.99,297.8 L222.29,297.98 L222.58,298.15 L222.88,298.3 L223.17,298.45 L223.47,298.58 L223.77,298.7 L224.06,298.81 L224.36,298.91 L224.65,299 L224.95,299.08 L225.24,299.15 L225.54,299.2 L225.84,299.24 L226.13,299.27 L226.43,299.29 L226.72,299.3 L227.02,299.3 L227.31,299.28 L227.61,299.25 L227.91,299.21 L228.2,299.16 L228.5,299.1 L228.79,299.02 L229.09,298.93 L229.38,298.84 L229.68,298.73 L229.98,298.61 L230.27,298.48 L230.57,298.33 L230.86,298.18 L231.16,298.02 L231.45,297.84 L231.75,297.66 L232.05,297.46 L232.34,297.26 L232.64,297.04 L232.93,296.82 L233.23,296.58 L233.52,296.34 L233.82,296.09 L234.12,295.83 L234.41,295.56 L234.71,295.28 L235,294.99 L235.3,294.7 L235.59,294.4 L235.89,294.09 L236.19,293.78 L236.48,293.46 L236.78,293.13 L237.07,292.8 L237.37,292.46 L237.66,292.12 L237.96,291.77 L238.26,291.41 L238.55,291.06 L238.85,290.7 L239.14,290.33 L239.44,289.96 L239.73,289.59 L240.03,289.22 L240.33,288.84 L240.62,288.47 L240.92,288.09 L241.21,287.71 L241.51,287.33 L241.8,286.95 L242.1,286.57" stroke-width="1.1"/>
<path d="M35.1,288.05 L35.4,288.32 L35.69,288.59 L35.99,288.86 L36.28,289.13 L36.58,289.4 L36.87,289.66 L37.17,289.93 L37.47,290.19 L37.76,290.45 L38.06,290.71 L38.35,290.96 L38.65,291.21 L38.94,291.46 L39.24,291.7 L39.54,291.94 L39.83,292.18 L40.13,292.41 L40.42,292.63 L40.72,292.85 L41.01,293.06 L41.31,293.27 L41.61,293.47 L41.9,293.67 L42.2,293.85 L42.49,294.03 L42.79,294.21 L43.08,294.37 L43.38,294.53 L43.68,294.68 L43.97,294.82 L44.27,294.96 L44.56,295.08 L44.86,295.2 L45.15,295.3 L45.45,295.4 L45.75,295.49 L46.04,295.57 L46.34,295.64 L46.63,295.7 L46.93,295.75 L47.22,295.79 L47.52,295.82 L47.82,295.84 L48.11,295.85 L48.41,295.85 L48.7,295.84 L49,295.82 L49.29,295.79 L49.59,295.75 L49.89,295.71 L50.18,295.65 L50.48,295.58 L50.77,295.5 L51.07,295.42 L51.36,295.32 L51.66,295.21 L51.96,295.1 L52.25,294.98 L52.55,294.85 L52.84,294.71 L53.14,294.56 L53.43,294.4 L53.73,294.24 L54.03,294.06 L54.32,293.89 L54.62,293.7 L54.91,293.51 L55.21,293.31 L55.5,293.1 L55.8,292.89 L56.1,292.67 L56.39,292.45 L56.69,292.22 L56.98,291.98 L57.28,291.75 L57.57,291.5 L57.87,291.26 L58.17,291.01 L58.46,290.75 L58.76,290.5 L59.05,290.24 L59.35,289.97 L59.64,289.71 L59.94,289.45 L60.24,289.18 L60.53,288.91 L60.83,288.64 L61.12,288.37 L61.42,288.1 L61.71,287.83 L62.01,287.56 L62.31,287.29 L62.6,287.02 L62.9,286.76 L63.19,286.49 L63.49,286.22 L63.78,285.96 L64.08,285.7 L64.38,285.44 L64.67,285.19 L64.97,284.94 L65.26,284.69 L65.56,284.44 L65.85,284.2 L66.15,283.96 L66.45,283.72 L66.74,283.49 L67.04,283.27 L67.33,283.04 L67.63,282.82 L67.92,282.61 L68.22,282.4 L68.52,282.2 L68.81,282 L69.11,281.81 L69.4,281.62 L69.7,281.43 L69.99,281.26 L70.29,281.09 L70.59,280.92 L70.88,280.76 L71.18,280.6 L71.47,280.46 L71.77,280.31 L72.06,280.18 L72.36,280.04 L72.66,279.92 L72.95,279.8 L73.25,279.69 L73.54,279.58 L73.84,279.48 L74.13,279.39 L74.43,279.3 L74.73,279.22 L75.02,279.15 L75.32,279.08 L75.61,279.02 L75.91,278.96 L76.2,278.91 L76.5,278.87 L76.8,278.83 L77.09,278.8 L77.39,278.78 L77.68,278.76 L77.98,278.75 L78.27,278.75 L78.57,278.75 L78.87,278.76 L79.16,278.78 L79.46,278.8 L79.75,278.83 L80.05,278.86 L80.34,278.9 L80.64,278.95 L80.94,279.01 L81.23,279.07 L81.53,279.13 L81.82,279.21 L82.12,279.29 L82.41,279.37 L82.71,279.47 L83.01,279.57 L83.3,279.67 L83.6,279.78 L83.89,279.9 L84.19,280.02 L84.48,280.15 L84.78,280.29 L85.08,280.43 L85.37,280.58 L85.67,280.73 L85.96,280.89 L86.26,281.06 L86.55,281.23 L86.85,281.4 L87.15,281.59 L87.44,281.77 L87.74,281.97 L88.03,282.16 L88.33,282.37 L88.62,282.57 L88.92,282.79 L89.22,283 L89.51,283.23 L89.81,283.45 L90.1,283.68 L90.4,283.92 L90.69,284.16 L90.99,284.4 L91.29,284.64 L91.58,284.89 L91.88,285.14 L92.17,285.4 L92.47,285.66 L92.76,285.92 L93.06,286.18 L93.36,286.44 L93.65,286.71 L93.95,286.98 L94.24,287.24 L94.54,287.51 L94.83,287.78 L95.13,288.05 L95.43,288.32 L95.72,288.59 L96.02,288.86 L96.31,289.13 L96.61,289.4 L96.9,289.66 L97.2,289.93 L97.5,290.19 L97.79,290.45 L98.09,290.71 L98.38,290.96 L98.68,291.21 L98.97,291.46 L99.27,291.7 L99.57,291.94 L99.86,292.18 L100.16,292.41 L100.45,292.63 L100.75,292.85 L101.04,293.06 L101.34,293.27 L101.64,293.47 L101.93,293.67 L102.23,293.85 L102.52,294.03 L102.82,294.21 L103.11,294.37 L103.41,294.53 L103.71,294.68 L104,294.82 L104.3,294.96 L104.59,295.08 L104.89,295.2 L105.18,295.3 L105.48,295.4 L105.78,295.49 L106.07,295.57 L106.37,295.64 L106.66,295.7 L106.96,295.75 L107.25,295.79 L107.55,295.82 L107.85,295.84 L108.14,295.85 L108.44,295.85 L108.73,295.84 L109.03,295.82 L109.32,295.79 L109.62,295.75 L109.92,295.71 L110.21,295.65 L110.51,295.58 L110.8,295.5 L111.1,295.42 L111.39,295.32 L111.69,295.21 L111.99,295.1 L112.28,294.98 L112.58,294.85 L112.87,294.71 L113.17,294.56 L113.46,294.4 L113.76,294.24 L114.06,294.06 L114.35,293.89 L114.65,293.7 L114.94,293.51 L115.24,293.31 L115.53,293.1 L115.83,292.89 L116.13,292.67 L116.42,292.45 L116.72,292.22 L117.01,291.98 L117.31,291.75 L117.6,291.5 L117.9,291.26 L118.2,291.01 L118.49,290.75 L118.79,290.5 L119.08,290.24 L119.38,289.97 L119.67,289.71 L119.97,289.45 L120.27,289.18 L120.56,288.91 L120.86,288.64 L121.15,288.37 L121.45,288.1 L121.74,287.83 L122.04,287.56 L122.34,287.29 L122.63,287.02 L122.93,286.76 L123.22,286.49 L123.52,286.22 L123.81,285.96 L124.11,285.7 L124.41,285.44 L124.7,285.19 L125,284.94 L125.29,284.69 L125.59,284.44 L125.88,284.2 L126.18,283.96 L126.48,283.72 L126.77,283.49 L127.07,283.27 L127.36,283.04 L127.66,282.82 L127.95,282.61 L128.25,282.4 L128.55,282.2 L128.84,282 L129.14,281.81 L129.43,281.62 L129.73,281.43 L130.02,281.26 L130.32,281.09 L130.62,280.92 L130.91,280.76 L131.21,280.6 L131.5,280.46 L131.8,280.31 L132.09,280.18 L132.39,280.04 L132.69,279.92 L132.98,279.8 L133.28,279.69 L133.57,279.58 L133.87,279.48 L134.16,279.39 L134.46,279.3 L134.76,279.22 L135.05,279.15 L135.35,279.08 L135.64,279.02 L135.94,278.96 L136.23,278.91 L136.53,278.87 L136.83,278.83 L137.12,278.8 L137.42,278.78 L137.71,278.76 L138.01,278.75 L138.3,278.75 L138.6,278.75 L138.9,278.76 L139.19,278.78 L139.49,278.8 L139.78,278.83 L140.08,278.86 L140.37,278.9 L140.67,278.95 L140.97,279.01 L141.26,279.07 L141.56,279.13 L141.85,279.21 L142.15,279.29 L142.44,279.37 L142.74,279.47 L143.04,279.57 L143.33,279.67 L143.63,279.78 L143.92,279.9 L144.22,280.02 L144.51,280.15 L144.81,280.29 L145.11,280.43 L145.4,280.58 L145.7,280.73 L145.99,280.89 L146.29,281.06 L146.58,281.23 L146.88,281.4 L147.18,281.59 L147.47,281.77 L147.77,281.97 L148.06,282.16 L148.36,282.37 L148.65,282.57 L148.95,282.79 L149.25,283 L149.54,283.23 L149.84,283.45 L150.13,283.68 L150.43,283.92 L150.72,284.16 L151.02,284.4 L151.32,284.64 L151.61,284.89 L151.91,285.14 L152.2,285.4 L152.5,285.66 L152.79,285.92 L153.09,286.18 L153.39,286.44 L153.68,286.71 L153.98,286.98 L154.27,287.24 L154.57,287.51 L154.86,287.78 L155.16,288.05 L155.46,288.32 L155.75,288.59 L156.05,288.86 L156.34,289.13 L156.64,289.4 L156.93,289.66 L157.23,289.93 L157.53,290.19 L157.82,290.45 L158.12,290.71 L158.41,290.96 L158.71,291.21 L159,291.46 L159.3,291.7 L159.6,291.94 L159.89,292.18 L160.19,292.41 L160.48,292.63 L160.78,292.85 L161.07,293.06 L161.37,293.27 L161.67,293.47 L161.96,293.67 L162.26,293.85 L162.55,294.03 L162.85,294.21 L163.14,294.37 L163.44,294.53 L163.74,294.68 L164.03,294.82 L164.33,294.96 L164.62,295.08 L164.92,295.2 L165.21,295.3 L165.51,295.4 L165.81,295.49 L166.1,295.57 L166.4,295.64 L166.69,295.7 L166.99,295.75 L167.28,295.79 L167.58,295.82 L167.88,295.84 L168.17,295.85 L168.47,295.85 L168.76,295.84 L169.06,295.82 L169.35,295.79 L169.65,295.75 L169.95,295.71 L170.24,295.65 L170.54,295.58 L170.83,295.5 L171.13,295.42 L171.42,295.32 L171.72,295.21 L172.02,295.1 L172.31,294.98 L172.61,294.85 L172.9,294.71 L173.2,294.56 L173.49,294.4 L173.79,294.24 L174.09,294.06 L174.38,293.89 L174.68,293.7 L174.97,293.51 L175.27,293.31 L175.56,293.1 L175.86,292.89 L176.16,292.67 L176.45,292.45 L176.75,292.22 L177.04,291.98 L177.34,291.75 L177.63,291.5 L177.93,291.26 L178.23,291.01 L178.52,290.75 L178.82,290.5 L179.11,290.24 L179.41,289.97 L179.7,289.71 L180,289.45 L180.3,289.18 L180.59,288.91 L180.89,288.64 L181.18,288.37 L181.48,288.1 L181.77,287.83 L182.07,287.56 L182.37,287.29 L182.66,287.02 L182.96,286.76 L183.25,286.49 L183.55,286.22 L183.84,285.96 L184.14,285.7 L184.44,285.44 L184.73,285.19 L185.03,284.94 L185.32,284.69 L185.62,284.44 L185.91,284.2 L186.21,283.96 L186.51,283.72 L186.8,283.49 L187.1,283.27 L187.39,283.04 L187.69,282.82 L187.98,282.61 L188.28,282.4 L188.58,282.2 L188.87,282 L189.17,281.81 L189.46,281.62 L189.76,281.43 L190.05,281.26 L190.35,281.09 L190.65,280.92 L190.94,280.76 L191.24,280.6 L191.53,280.46 L191.83,280.31 L192.12,280.18 L192.42,280.04 L192.72,279.92 L193.01,279.8 L193.31,279.69 L193.6,279.58 L193.9,279.48 L194.19,279.39 L194.49,279.3 L194.79,279.22 L195.08,279.15 L195.38,279.08 L195.67,279.02 L195.97,278.96 L196.26,278.91 L196.56,278.87 L196.86,278.83 L197.15,278.8 L197.45,278.78 L197.74,278.76 L198.04,278.75 L198.33,278.75 L198.63,278.75 L198.93,278.76 L199.22,278.78 L199.52,278.8 L199.81,278.83 L200.11,278.86 L200.4,278.9 L200.7,278.95 L201,279.01 L201.29,279.07 L201.59,279.13 L201.88,279.21 L202.18,279.29 L202.47,279.37 L202.77,279.47 L203.07,279.57 L203.36,279.67 L203.66,279.78 L203.95,279.9 L204.25,280.02 L204.54,280.15 L204.84,280.29 L205.14,280.43 L205.43,280.58 L205.73,280.73 L206.02,280.89 L206.32,281.06 L206.61,281.23 L206.91,281.4 L207.21,281.59 L207.5,281.77 L207.8,281.97 L208.09,282.16 L208.39,282.37 L208.68,282.57 L208.98,282.79 L209.28,283 L209.57,283.23 L209.87,283.45 L210.16,283.68 L210.46,283.92 L210.75,284.16 L211.05,284.4 L211.35,284.64 L211.64,284.89 L211.94,285.14 L212.23,285.4 L212.53,285.66 L212.82,285.92 L213.12,286.18 L213.42,286.44 L213.71,286.71 L214.01,286.98 L214.3,287.24 L214.6,287.51 L214.89,287.78 L215.19,288.05 L215.49,288.32 L215.78,288.59 L216.08,288.86 L216.37,289.13 L216.67,289.4 L216.96,289.66 L217.26,289.93 L217.56,290.19 L217.85,290.45 L218.15,290.71 L218.44,290.96 L218.74,291.21 L219.03,291.46 L219.33,291.7 L219.63,291.94 L219.92,292.18 L220.22,292.41 L220.51,292.63 L220.81,292.85 L221.1,293.06 L221.4,293.27 L221.7,293.47 L221.99,293.67 L222.29,293.85 L222.58,294.03 L222.88,294.21 L223.17,294.37 L223.47,294.53 L223.77,294.68 L224.06,294.82 L224.36,294.96 L224.65,295.08 L224.95,295.2 L225.24,295.3 L225.54,295.4 L225.84,295.49 L226.13,295.57 L226.43,295.64 L226.72,295.7 L227.02,295.75 L227.31,295.79 L227.61,295.82 L227.91,295.84 L228.2,295.85 L228.5,295.85 L228.79,295.84 L229.09,295.82 L229.38,295.79 L229.68,295.75 L229.98,295.71 L230.27,295.65 L230.57,295.58 L230.86,295.5 L231.16,295.42 L231.45,295.32 L231.75,295.21 L232.05,295.1 L232.34,294.98 L232.64,294.85 L232.93,294.71 L233.23,294.56 L233.52,294.4 L233.82,294.24 L234.12,294.06 L234.41,293.89 L234.71,293.7 L235,293.51 L235.3,293.31 L235.59,293.1 L235.89,292.89 L236.19,292.67 L236.48,292.45 L236.78,292.22 L237.07,291.98 L237.37,291.75 L237.66,291.5 L237.96,291.26 L238.26,291.01 L238.55,290.75 L238.85,290.5 L239.14,290.24 L239.44,289.97 L239.73,289.71 L240.03,289.45 L240.33,289.18 L240.62,288.91 L240.92,288.64 L241.21,288.37 L241.51,288.1 L241.8,287.83 L242.1,287.56" stroke-width="2" stroke-dasharray="5 3"/>
<path d="M35.1,278.85 L35.4,280.79 L35.69,282.74 L35.99,284.68 L36.28,286.63 L36.58,288.58 L36.87,290.53 L37.17,292.47 L37.47,294.41 L37.76,296.34 L38.06,298.26 L38.35,300.17 L38.65,302.07 L38.94,303.95 L39.24,305.81 L39.54,307.66 L39.83,309.48 L40.13,311.29 L40.42,313.06 L40.72,314.82 L41.01,316.54 L41.31,318.24 L41.61,319.91 L41.9,321.54 L42.2,323.15 L42.49,324.71 L42.79,326.24 L43.08,327.73 L43.38,329.18 L43.68,330.59 L43.97,331.96 L44.27,333.29 L44.56,334.57 L44.86,335.8 L45.15,336.99 L45.45,338.12 L45.75,339.21 L46.04,340.25 L46.34,341.24 L46.63,342.17 L46.93,343.05 L47.22,343.88 L47.52,344.65 L47.82,345.36 L48.11,346.02 L48.41,346.62 L48.7,347.17 L49,347.65 L49.29,348.08 L49.59,348.45 L49.89,348.75 L50.18,349 L50.48,349.19 L50.77,349.32 L51.07,349.39 L51.36,349.4 L51.66,349.34 L51.96,349.23 L52.25,349.06 L52.55,348.82 L52.84,348.53 L53.14,348.18 L53.43,347.77 L53.73,347.3 L54.03,346.77 L54.32,346.18 L54.62,345.54 L54.91,344.84 L55.21,344.08 L55.5,343.27 L55.8,342.4 L56.1,341.49 L56.39,340.51 L56.69,339.49 L56.98,338.41 L57.28,337.29 L57.57,336.11 L57.87,334.89 L58.17,333.63 L58.46,332.31 L58.76,330.96 L59.05,329.56 L59.35,328.11 L59.64,326.63 L59.94,325.11 L60.24,323.56 L60.53,321.97 L60.83,320.34 L61.12,318.68 L61.42,316.99 L61.71,315.27 L62.01,313.52 L62.31,311.75 L62.6,309.95 L62.9,308.14 L63.19,306.29 L63.49,304.44 L63.78,302.56 L64.08,300.67 L64.38,298.76 L64.67,296.84 L64.97,294.92 L65.26,292.98 L65.56,291.04 L65.85,289.09 L66.15,287.14 L66.45,285.19 L66.74,283.24 L67.04,281.3 L67.33,279.36 L67.63,277.42 L67.92,275.5 L68.22,273.58 L68.52,271.68 L68.81,269.79 L69.11,267.92 L69.4,266.06 L69.7,264.23 L69.99,262.41 L70.29,260.62 L70.59,258.86 L70.88,257.12 L71.18,255.4 L71.47,253.72 L71.77,252.07 L72.06,250.45 L72.36,248.87 L72.66,247.32 L72.95,245.81 L73.25,244.34 L73.54,242.91 L73.84,241.52 L74.13,240.17 L74.43,238.87 L74.73,237.61 L75.02,236.4 L75.32,235.24 L75.61,234.13 L75.91,233.06 L76.2,232.05 L76.5,231.09 L76.8,230.18 L77.09,229.33 L77.39,228.53 L77.68,227.79 L77.98,227.1 L78.27,226.47 L78.57,225.9 L78.87,225.38 L79.16,224.93 L79.46,224.53 L79.75,224.19 L80.05,223.91 L80.34,223.7 L80.64,223.54 L80.94,223.44 L81.23,223.4 L81.53,223.42 L81.82,223.51 L82.12,223.65 L82.41,223.85 L82.71,224.11 L83.01,224.44 L83.3,224.82 L83.6,225.26 L83.89,225.76 L84.19,226.32 L84.48,226.93 L84.78,227.6 L85.08,228.33 L85.37,229.12 L85.67,229.96 L85.96,230.85 L86.26,231.79 L86.55,232.79 L86.85,233.84 L87.15,234.94 L87.44,236.09 L87.74,237.29 L88.03,238.54 L88.33,239.83 L88.62,241.16 L88.92,242.54 L89.22,243.96 L89.51,245.42 L89.81,246.92 L90.1,248.46 L90.4,250.03 L90.69,251.64 L90.99,253.29 L91.29,254.96 L91.58,256.67 L91.88,258.4 L92.17,260.16 L92.47,261.94 L92.76,263.75 L93.06,265.58 L93.36,267.43 L93.65,269.3 L93.95,271.19 L94.24,273.08 L94.54,275 L94.83,276.92 L95.13,278.85 L95.43,280.79 L95.72,282.74 L96.02,284.68 L96.31,286.63 L96.61,288.58 L96.9,290.53 L97.2,292.47 L97.5,294.41 L97.79,296.34 L98.09,298.26 L98.38,300.17 L98.68,302.07 L98.97,303.95 L99.27,305.81 L99.57,307.66 L99.86,309.48 L100.16,311.29 L100.45,313.06 L100.75,314.82 L101.04,316.54 L101.34,318.24 L101.64,319.91 L101.93,321.54 L102.23,323.15 L102.52,324.71 L102.82,326.24 L103.11,327.73 L103.41,329.18 L103.71,330.59 L104,331.96 L104.3,333.29 L104.59,334.57 L104.89,335.8 L105.18,336.99 L105.48,338.12 L105.78,339.21 L106.07,340.25 L106.37,341.24 L106.66,342.17 L106.96,343.05 L107.25,343.88 L107.55,344.65 L107.85,345.36 L108.14,346.02 L108.44,346.62 L108.73,347.17 L109.03,347.65 L109.32,348.08 L109.62,348.45 L109.92,348.75 L110.21,349 L110.51,349.19 L110.8,349.32 L111.1,349.39 L111.39,349.4 L111.69,349.34 L111.99,349.23 L112.28,349.06 L112.58,348.82 L112.87,348.53 L113.17,348.18 L113.46,347.77 L113.76,347.3 L114.06,346.77 L114.35,346.18 L114.65,345.54 L114.94,344.84 L115.24,344.08 L115.53,343.27 L115.83,342.4 L116.13,341.49 L116.42,340.51 L116.72,339.49 L117.01,338.41 L117.31,337.29 L117.6,336.11 L117.9,334.89 L118.2,333.63 L118.49,332.31 L118.79,330.96 L119.08,329.56 L119.38,328.11 L119.67,326.63 L119.97,325.11 L120.27,323.56 L120.56,321.97 L120.86,320.34 L121.15,318.68 L121.45,316.99 L121.74,315.27 L122.04,313.52 L122.34,311.75 L122.63,309.95 L122.93,308.14 L123.22,306.29 L123.52,304.44 L123.81,302.56 L124.11,300.67 L124.41,298.76 L124.7,296.84 L125,294.92 L125.29,292.98 L125.59,291.04 L125.88,289.09 L126.18,287.14 L126.48,285.19 L126.77,283.24 L127.07,281.3 L127.36,279.36 L127.66,277.42 L127.95,275.5 L128.25,273.58 L128.55,271.68 L128.84,269.79 L129.14,267.92 L129.43,266.06 L129.73,264.23 L130.02,262.41 L130.32,260.62 L130.62,258.86 L130.91,257.12 L131.21,255.4 L131.5,253.72 L131.8,252.07 L132.09,250.45 L132.39,248.87 L132.69,247.32 L132.98,245.81 L133.28,244.34 L133.57,242.91 L133.87,241.52 L134.16,240.17 L134.46,238.87 L134.76,237.61 L135.05,236.4 L135.35,235.24 L135.64,234.13 L135.94,233.06 L136.23,232.05 L136.53,231.09 L136.83,230.18 L137.12,229.33 L137.42,228.53 L137.71,227.79 L138.01,227.1 L138.3,226.47 L138.6,225.9 L138.9,225.38 L139.19,224.93 L139.49,224.53 L139.78,224.19 L140.08,223.91 L140.37,223.7 L140.67,223.54 L140.97,223.44 L141.26,223.4 L141.56,223.42 L141.85,223.51 L142.15,223.65 L142.44,223.85 L142.74,224.11 L143.04,224.44 L143.33,224.82 L143.63,225.26 L143.92,225.76 L144.22,226.32 L144.51,226.93 L144.81,227.6 L145.11,228.33 L145.4,229.12 L145.7,229.96 L145.99,230.85 L146.29,231.79 L146.58,232.79 L146.88,233.84 L147.18,234.94 L147.47,236.09 L147.77,237.29 L148.06,238.54 L148.36,239.83 L148.65,241.16 L148.95,242.54 L149.25,243.96 L149.54,245.42 L149.84,246.92 L150.13,248.46 L150.43,250.03 L150.72,251.64 L151.02,253.29 L151.32,254.96 L151.61,256.67 L151.91,258.4 L152.2,260.16 L152.5,261.94 L152.79,263.75 L153.09,265.58 L153.39,267.43 L153.68,269.3 L153.98,271.19 L154.27,273.08 L154.57,275 L154.86,276.92 L155.16,278.85 L155.46,280.79 L155.75,282.74 L156.05,284.68 L156.34,286.63 L156.64,288.58 L156.93,290.53 L157.23,292.47 L157.53,294.41 L157.82,296.34 L158.12,298.26 L158.41,300.17 L158.71,302.07 L159,303.95 L159.3,305.81 L159.6,307.66 L159.89,309.48 L160.19,311.29 L160.48,313.06 L160.78,314.82 L161.07,316.54 L161.37,318.24 L161.67,319.91 L161.96,321.54 L162.26,323.15 L162.55,324.71 L162.85,326.24 L163.14,327.73 L163.44,329.18 L163.74,330.59 L164.03,331.96 L164.33,333.29 L164.62,334.57 L164.92,335.8 L165.21,336.99 L165.51,338.12 L165.81,339.21 L166.1,340.25 L166.4,341.24 L166.69,342.17 L166.99,343.05 L167.28,343.88 L167.58,344.65 L167.88,345.36 L168.17,346.02 L168.47,346.62 L168.76,347.17 L169.06,347.65 L169.35,348.08 L169.65,348.45 L169.95,348.75 L170.24,349 L170.54,349.19 L170.83,349.32 L171.13,349.39 L171.42,349.4 L171.72,349.34 L172.02,349.23 L172.31,349.06 L172.61,348.82 L172.9,348.53 L173.2,348.18 L173.49,347.77 L173.79,347.3 L174.09,346.77 L174.38,346.18 L174.68,345.54 L174.97,344.84 L175.27,344.08 L175.56,343.27 L175.86,342.4 L176.16,341.49 L176.45,340.51 L176.75,339.49 L177.04,338.41 L177.34,337.29 L177.63,336.11 L177.93,334.89 L178.23,333.63 L178.52,332.31 L178.82,330.96 L179.11,329.56 L179.41,328.11 L179.7,326.63 L180,325.11 L180.3,323.56 L180.59,321.97 L180.89,320.34 L181.18,318.68 L181.48,316.99 L181.77,315.27 L182.07,313.52 L182.37,311.75 L182.66,309.95 L182.96,308.14 L183.25,306.29 L183.55,304.44 L183.84,302.56 L184.14,300.67 L184.44,298.76 L184.73,296.84 L185.03,294.92 L185.32,292.98 L185.62,291.04 L185.91,289.09 L186.21,287.14 L186.51,285.19 L186.8,283.24 L187.1,281.3 L187.39,279.36 L187.69,277.42 L187.98,275.5 L188.28,273.58 L188.58,271.68 L188.87,269.79 L189.17,267.92 L189.46,266.06 L189.76,264.23 L190.05,262.41 L190.35,260.62 L190.65,258.86 L190.94,257.12 L191.24,255.4 L191.53,253.72 L191.83,252.07 L192.12,250.45 L192.42,248.87 L192.72,247.32 L193.01,245.81 L193.31,244.34 L193.6,242.91 L193.9,241.52 L194.19,240.17 L194.49,238.87 L194.79,237.61 L195.08,236.4 L195.38,235.24 L195.67,234.13 L195.97,233.06 L196.26,232.05 L196.56,231.09 L196.86,230.18 L197.15,229.33 L197.45,228.53 L197.74,227.79 L198.04,227.1 L198.33,226.47 L198.63,225.9 L198.93,225.38 L199.22,224.93 L199.52,224.53 L199.81,224.19 L200.11,223.91 L200.4,223.7 L200.7,223.54 L201,223.44 L201.29,223.4 L201.59,223.42 L201.88,223.51 L202.18,223.65 L202.47,223.85 L202.77,224.11 L203.07,224.44 L203.36,224.82 L203.66,225.26 L203.95,225.76 L204.25,226.32 L204.54,226.93 L204.84,227.6 L205.14,228.33 L205.43,229.12 L205.73,229.96 L206.02,230.85 L206.32,231.79 L206.61,232.79 L206.91,233.84 L207.21,234.94 L207.5,236.09 L207.8,237.29 L208.09,238.54 L208.39,239.83 L208.68,241.16 L208.98,242.54 L209.28,243.96 L209.57,245.42 L209.87,246.92 L210.16,248.46 L210.46,250.03 L210.75,251.64 L211.05,253.29 L211.35,254.96 L211.64,256.67 L211.94,258.4 L212.23,260.16 L212.53,261.94 L212.82,263.75 L213.12,265.58 L213.42,267.43 L213.71,269.3 L214.01,271.19 L214.3,273.08 L214.6,275 L214.89,276.92 L215.19,278.85 L215.49,280.79 L215.78,282.74 L216.08,284.68 L216.37,286.63 L216.67,288.58 L216.96,290.53 L217.26,292.47 L217.56,294.41 L217.85,296.34 L218.15,298.26 L218.44,300.17 L218.74,302.07 L219.03,303.95 L219.33,305.81 L219.63,307.66 L219.92,309.48 L220.22,311.29 L220.51,313.06 L220.81,314.82 L221.1,316.54 L221.4,318.24 L221.7,319.91 L221.99,321.54 L222.29,323.15 L222.58,324.71 L222.88,326.24 L223.17,327.73 L223.47,329.18 L223.77,330.59 L224.06,331.96 L224.36,333.29 L224.65,334.57 L224.95,335.8 L225.24,336.99 L225.54,338.12 L225.84,339.21 L226.13,340.25 L226.43,341.24 L226.72,342.17 L227.02,343.05 L227.31,343.88 L227.61,344.65 L227.91,345.36 L228.2,346.02 L228.5,346.62 L228.79,347.17 L229.09,347.65 L229.38,348.08 L229.68,348.45 L229.98,348.75 L230.27,349 L230.57,349.19 L230.86,349.32 L231.16,349.39 L231.45,349.4 L231.75,349.34 L232.05,349.23 L232.34,349.06 L232.64,348.82 L232.93,348.53 L233.23,348.18 L233.52,347.77 L233.82,347.3 L234.12,346.77 L234.41,346.18 L234.71,345.54 L235,344.84 L235.3,344.08 L235.59,343.27 L235.89,342.4 L236.19,341.49 L236.48,340.51 L236.78,339.49 L237.07,338.41 L237.37,337.29 L237.66,336.11 L237.96,334.89 L238.26,333.63 L238.55,332.31 L238.85,330.96 L239.14,329.56 L239.44,328.11 L239.73,326.63 L240.03,325.11 L240.33,323.56 L240.62,321.97 L240.92,320.34 L241.21,318.68 L241.51,316.99 L241.8,315.27 L242.1,313.52" stroke-width="2.1" stroke-dasharray="1.9 1.1"/>
</g>
<path d="M35.1,358.2 v-2.2 M44.1,358.2 v-2.2 M53.1,358.2 v-2.2 M62.1,358.2 v-4 M71.1,358.2 v-2.2 M80.1,358.2 v-2.2 M89.1,358.2 v-2.2 M98.1,358.2 v-2.2 M107.1,358.2 v-4 M116.1,358.2 v-2.2 M125.1,358.2 v-2.2 M134.1,358.2 v-2.2 M143.1,358.2 v-2.2 M152.1,358.2 v-4 M161.1,358.2 v-2.2 M170.1,358.2 v-2.2 M179.1,358.2 v-2.2 M188.1,358.2 v-2.2 M197.1,358.2 v-4 M206.1,358.2 v-2.2 M215.1,358.2 v-2.2 M224.1,358.2 v-2.2 M233.1,358.2 v-2.2 M242.1,358.2 v-4 M35.1,352.4 h2.2 M35.1,346.4 h4 M35.1,340.4 h2.2 M35.1,334.4 h2.2 M35.1,328.4 h2.2 M35.1,322.4 h2.2 M35.1,316.4 h4 M35.1,310.4 h2.2 M35.1,304.4 h2.2 M35.1,298.4 h2.2 M35.1,292.4 h2.2 M35.1,286.4 h4 M35.1,280.4 h2.2 M35.1,274.4 h2.2 M35.1,268.4 h2.2 M35.1,262.4 h2.2 M35.1,256.4 h4 M35.1,250.4 h2.2 M35.1,244.4 h2.2 M35.1,238.4 h2.2 M35.1,232.4 h2.2 M35.1,226.4 h4 M35.1,220.4 h2.2" stroke="#222" stroke-width="1.1" fill="none"/>
<rect x="35.1" y="214.5" width="207.0" height="143.7" fill="none" stroke="#222" stroke-width="1.7"/>
<text transform="translate(62.1,367.3) scale(1.02,1)" class="tk" text-anchor="middle">120</text>
<text transform="translate(107.1,367.3) scale(1.02,1)" class="tk" text-anchor="middle">125</text>
<text transform="translate(152.1,367.3) scale(1.02,1)" class="tk" text-anchor="middle">130</text>
<text transform="translate(197.1,367.3) scale(1.02,1)" class="tk" text-anchor="middle">135</text>
<text transform="translate(242.1,367.3) scale(1.02,1)" class="tk" text-anchor="middle">140</text>
<text transform="translate(32.5,229.7) scale(1.02,1)" class="tk" text-anchor="end">2</text>
<text transform="translate(32.5,259.7) scale(1.02,1)" class="tk" text-anchor="end">1</text>
<text transform="translate(32.5,289.7) scale(1.02,1)" class="tk" text-anchor="end">0</text>
<text transform="translate(32.5,319.7) scale(1.02,1)" class="tk" text-anchor="end">-1</text>
<text transform="translate(32.5,349.7) scale(1.02,1)" class="tk" text-anchor="end">-2</text>
<clipPath id="clip407"><rect x="35.1" y="407.7" width="207.0" height="144.40000000000003"/></clipPath>
<g clip-path="url(#clip407)" fill="none" stroke="#000">
<path d="M35.1,478.05 L35.4,477.76 L35.69,477.49 L35.99,477.22 L36.28,476.95 L36.58,476.7 L36.87,476.45 L37.17,476.21 L37.47,475.98 L37.76,475.75 L38.06,475.54 L38.35,475.34 L38.65,475.14 L38.94,474.95 L39.24,474.78 L39.54,474.61 L39.83,474.46 L40.13,474.31 L40.42,474.18 L40.72,474.06 L41.01,473.95 L41.31,473.85 L41.61,473.76 L41.9,473.68 L42.2,473.62 L42.49,473.56 L42.79,473.52 L43.08,473.49 L43.38,473.48 L43.68,473.47 L43.97,473.48 L44.27,473.5 L44.56,473.53 L44.86,473.57 L45.15,473.63 L45.45,473.69 L45.75,473.77 L46.04,473.86 L46.34,473.96 L46.63,474.08 L46.93,474.2 L47.22,474.34 L47.52,474.48 L47.82,474.64 L48.11,474.81 L48.41,474.99 L48.7,475.17 L49,475.37 L49.29,475.58 L49.59,475.79 L49.89,476.02 L50.18,476.25 L50.48,476.49 L50.77,476.74 L51.07,477 L51.36,477.26 L51.66,477.53 L51.96,477.81 L52.25,478.1 L52.55,478.38 L52.84,478.68 L53.14,478.98 L53.43,479.28 L53.73,479.59 L54.03,479.9 L54.32,480.22 L54.62,480.53 L54.91,480.85 L55.21,481.18 L55.5,481.5 L55.8,481.82 L56.1,482.15 L56.39,482.47 L56.69,482.8 L56.98,483.12 L57.28,483.44 L57.57,483.76 L57.87,484.08 L58.17,484.4 L58.46,484.71 L58.76,485.02 L59.05,485.33 L59.35,485.63 L59.64,485.93 L59.94,486.22 L60.24,486.5 L60.53,486.78 L60.83,487.06 L61.12,487.32 L61.42,487.58 L61.71,487.84 L62.01,488.08 L62.31,488.32 L62.6,488.55 L62.9,488.77 L63.19,488.98 L63.49,489.18 L63.78,489.37 L64.08,489.55 L64.38,489.73 L64.67,489.89 L64.97,490.04 L65.26,490.18 L65.56,490.31 L65.85,490.43 L66.15,490.53 L66.45,490.63 L66.74,490.71 L67.04,490.78 L67.33,490.84 L67.63,490.89 L67.92,490.93 L68.22,490.95 L68.52,490.97 L68.81,490.97 L69.11,490.95 L69.4,490.93 L69.7,490.89 L69.99,490.85 L70.29,490.79 L70.59,490.71 L70.88,490.63 L71.18,490.54 L71.47,490.43 L71.77,490.31 L72.06,490.18 L72.36,490.04 L72.66,489.89 L72.95,489.73 L73.25,489.56 L73.54,489.38 L73.84,489.19 L74.13,488.99 L74.43,488.78 L74.73,488.56 L75.02,488.33 L75.32,488.09 L75.61,487.85 L75.91,487.6 L76.2,487.34 L76.5,487.07 L76.8,486.79 L77.09,486.52 L77.39,486.23 L77.68,485.94 L77.98,485.64 L78.27,485.34 L78.57,485.03 L78.87,484.73 L79.16,484.41 L79.46,484.1 L79.75,483.78 L80.05,483.46 L80.34,483.13 L80.64,482.81 L80.94,482.49 L81.23,482.16 L81.53,481.84 L81.82,481.51 L82.12,481.19 L82.41,480.87 L82.71,480.55 L83.01,480.23 L83.3,479.92 L83.6,479.6 L83.89,479.3 L84.19,478.99 L84.48,478.69 L84.78,478.4 L85.08,478.11 L85.37,477.82 L85.67,477.55 L85.96,477.28 L86.26,477.01 L86.55,476.75 L86.85,476.5 L87.15,476.26 L87.44,476.03 L87.74,475.8 L88.03,475.59 L88.33,475.38 L88.62,475.18 L88.92,474.99 L89.22,474.82 L89.51,474.65 L89.81,474.49 L90.1,474.34 L90.4,474.21 L90.69,474.08 L90.99,473.97 L91.29,473.87 L91.58,473.78 L91.88,473.7 L92.17,473.63 L92.47,473.57 L92.76,473.53 L93.06,473.5 L93.36,473.48 L93.65,473.47 L93.95,473.48 L94.24,473.49 L94.54,473.52 L94.83,473.56 L95.13,473.61 L95.43,473.68 L95.72,473.75 L96.02,473.84 L96.31,473.94 L96.61,474.05 L96.9,474.17 L97.2,474.31 L97.5,474.45 L97.79,474.61 L98.09,474.77 L98.38,474.95 L98.68,475.13 L98.97,475.33 L99.27,475.53 L99.57,475.75 L99.86,475.97 L100.16,476.2 L100.45,476.44 L100.75,476.69 L101.04,476.94 L101.34,477.21 L101.64,477.48 L101.93,477.75 L102.23,478.03 L102.52,478.32 L102.82,478.62 L103.11,478.91 L103.41,479.22 L103.71,479.52 L104,479.83 L104.3,480.15 L104.59,480.47 L104.89,480.78 L105.18,481.11 L105.48,481.43 L105.78,481.75 L106.07,482.08 L106.37,482.4 L106.66,482.73 L106.96,483.05 L107.25,483.37 L107.55,483.69 L107.85,484.01 L108.14,484.33 L108.44,484.64 L108.73,484.95 L109.03,485.26 L109.32,485.56 L109.62,485.86 L109.92,486.15 L110.21,486.44 L110.51,486.72 L110.8,487 L111.1,487.27 L111.39,487.53 L111.69,487.78 L111.99,488.03 L112.28,488.27 L112.58,488.5 L112.87,488.72 L113.17,488.93 L113.46,489.14 L113.76,489.33 L114.06,489.51 L114.35,489.69 L114.65,489.85 L114.94,490.01 L115.24,490.15 L115.53,490.28 L115.83,490.4 L116.13,490.51 L116.42,490.61 L116.72,490.69 L117.01,490.77 L117.31,490.83 L117.6,490.88 L117.9,490.92 L118.2,490.95 L118.49,490.96 L118.79,490.97 L119.08,490.96 L119.38,490.94 L119.67,490.9 L119.97,490.86 L120.27,490.8 L120.56,490.73 L120.86,490.65 L121.15,490.56 L121.45,490.45 L121.74,490.34 L122.04,490.21 L122.34,490.08 L122.63,489.93 L122.93,489.77 L123.22,489.6 L123.52,489.42 L123.81,489.23 L124.11,489.03 L124.41,488.82 L124.7,488.61 L125,488.38 L125.29,488.14 L125.59,487.9 L125.88,487.65 L126.18,487.39 L126.48,487.13 L126.77,486.85 L127.07,486.58 L127.36,486.29 L127.66,486 L127.95,485.71 L128.25,485.41 L128.55,485.1 L128.84,484.79 L129.14,484.48 L129.43,484.17 L129.73,483.85 L130.02,483.53 L130.32,483.21 L130.62,482.88 L130.91,482.56 L131.21,482.23 L131.5,481.91 L131.8,481.58 L132.09,481.26 L132.39,480.94 L132.69,480.62 L132.98,480.3 L133.28,479.98 L133.57,479.67 L133.87,479.36 L134.16,479.06 L134.46,478.76 L134.76,478.46 L135.05,478.17 L135.35,477.89 L135.64,477.61 L135.94,477.33 L136.23,477.07 L136.53,476.81 L136.83,476.56 L137.12,476.31 L137.42,476.08 L137.71,475.85 L138.01,475.63 L138.3,475.42 L138.6,475.22 L138.9,475.03 L139.19,474.85 L139.49,474.68 L139.78,474.52 L140.08,474.37 L140.37,474.24 L140.67,474.11 L140.97,473.99 L141.26,473.89 L141.56,473.79 L141.85,473.71 L142.15,473.64 L142.44,473.58 L142.74,473.54 L143.04,473.5 L143.33,473.48 L143.63,473.47 L143.92,473.47 L144.22,473.49 L144.51,473.51 L144.81,473.55 L145.11,473.6 L145.4,473.66 L145.7,473.74 L145.99,473.82 L146.29,473.92 L146.58,474.03 L146.88,474.15 L147.18,474.28 L147.47,474.42 L147.77,474.57 L148.06,474.73 L148.36,474.91 L148.65,475.09 L148.95,475.28 L149.25,475.49 L149.54,475.7 L149.84,475.92 L150.13,476.15 L150.43,476.39 L150.72,476.63 L151.02,476.89 L151.32,477.15 L151.61,477.42 L151.91,477.69 L152.2,477.97 L152.5,478.26 L152.79,478.55 L153.09,478.85 L153.39,479.15 L153.68,479.46 L153.98,479.77 L154.27,480.08 L154.57,480.4 L154.86,480.72 L155.16,481.04 L155.46,481.36 L155.75,481.68 L156.05,482.01 L156.34,482.33 L156.64,482.66 L156.93,482.98 L157.23,483.3 L157.53,483.62 L157.82,483.94 L158.12,484.26 L158.41,484.58 L158.71,484.89 L159,485.19 L159.3,485.5 L159.6,485.8 L159.89,486.09 L160.19,486.38 L160.48,486.66 L160.78,486.94 L161.07,487.21 L161.37,487.47 L161.67,487.73 L161.96,487.98 L162.26,488.22 L162.55,488.45 L162.85,488.67 L163.14,488.89 L163.44,489.09 L163.74,489.29 L164.03,489.48 L164.33,489.65 L164.62,489.82 L164.92,489.97 L165.21,490.12 L165.51,490.25 L165.81,490.38 L166.1,490.49 L166.4,490.59 L166.69,490.68 L166.99,490.75 L167.28,490.82 L167.58,490.87 L167.88,490.91 L168.17,490.94 L168.47,490.96 L168.76,490.97 L169.06,490.96 L169.35,490.94 L169.65,490.91 L169.95,490.87 L170.24,490.81 L170.54,490.75 L170.83,490.67 L171.13,490.58 L171.42,490.48 L171.72,490.37 L172.02,490.24 L172.31,490.11 L172.61,489.96 L172.9,489.8 L173.2,489.64 L173.49,489.46 L173.79,489.27 L174.09,489.08 L174.38,488.87 L174.68,488.65 L174.97,488.43 L175.27,488.2 L175.56,487.96 L175.86,487.71 L176.16,487.45 L176.45,487.19 L176.75,486.91 L177.04,486.64 L177.34,486.35 L177.63,486.07 L177.93,485.77 L178.23,485.47 L178.52,485.17 L178.82,484.86 L179.11,484.55 L179.41,484.23 L179.7,483.92 L180,483.6 L180.3,483.28 L180.59,482.95 L180.89,482.63 L181.18,482.3 L181.48,481.98 L181.77,481.65 L182.07,481.33 L182.37,481.01 L182.66,480.69 L182.96,480.37 L183.25,480.05 L183.55,479.74 L183.84,479.43 L184.14,479.12 L184.44,478.82 L184.73,478.53 L185.03,478.23 L185.32,477.95 L185.62,477.67 L185.91,477.39 L186.21,477.12 L186.51,476.86 L186.8,476.61 L187.1,476.37 L187.39,476.13 L187.69,475.9 L187.98,475.68 L188.28,475.47 L188.58,475.27 L188.87,475.07 L189.17,474.89 L189.46,474.72 L189.76,474.56 L190.05,474.41 L190.35,474.26 L190.65,474.14 L190.94,474.02 L191.24,473.91 L191.53,473.81 L191.83,473.73 L192.12,473.66 L192.42,473.6 L192.72,473.55 L193.01,473.51 L193.31,473.49 L193.6,473.47 L193.9,473.47 L194.19,473.48 L194.49,473.51 L194.79,473.54 L195.08,473.59 L195.38,473.65 L195.67,473.72 L195.97,473.8 L196.26,473.9 L196.56,474 L196.86,474.12 L197.15,474.25 L197.45,474.39 L197.74,474.54 L198.04,474.7 L198.33,474.87 L198.63,475.05 L198.93,475.24 L199.22,475.44 L199.52,475.65 L199.81,475.87 L200.11,476.1 L200.4,476.33 L200.7,476.58 L201,476.83 L201.29,477.09 L201.59,477.36 L201.88,477.63 L202.18,477.91 L202.47,478.2 L202.77,478.49 L203.07,478.78 L203.36,479.08 L203.66,479.39 L203.95,479.7 L204.25,480.01 L204.54,480.33 L204.84,480.65 L205.14,480.97 L205.43,481.29 L205.73,481.61 L206.02,481.94 L206.32,482.26 L206.61,482.59 L206.91,482.91 L207.21,483.23 L207.5,483.56 L207.8,483.88 L208.09,484.19 L208.39,484.51 L208.68,484.82 L208.98,485.13 L209.28,485.43 L209.57,485.73 L209.87,486.03 L210.16,486.32 L210.46,486.6 L210.75,486.88 L211.05,487.15 L211.35,487.42 L211.64,487.67 L211.94,487.92 L212.23,488.17 L212.53,488.4 L212.82,488.63 L213.12,488.84 L213.42,489.05 L213.71,489.25 L214.01,489.44 L214.3,489.61 L214.6,489.78 L214.89,489.94 L215.19,490.09 L215.49,490.22 L215.78,490.35 L216.08,490.46 L216.37,490.57 L216.67,490.66 L216.96,490.74 L217.26,490.81 L217.56,490.86 L217.85,490.91 L218.15,490.94 L218.44,490.96 L218.74,490.97 L219.03,490.96 L219.33,490.95 L219.63,490.92 L219.92,490.88 L220.22,490.83 L220.51,490.76 L220.81,490.69 L221.1,490.6 L221.4,490.5 L221.7,490.39 L221.99,490.27 L222.29,490.14 L222.58,489.99 L222.88,489.84 L223.17,489.67 L223.47,489.5 L223.77,489.31 L224.06,489.12 L224.36,488.92 L224.65,488.7 L224.95,488.48 L225.24,488.25 L225.54,488.01 L225.84,487.76 L226.13,487.51 L226.43,487.24 L226.72,486.97 L227.02,486.7 L227.31,486.42 L227.61,486.13 L227.91,485.84 L228.2,485.54 L228.5,485.23 L228.79,484.93 L229.09,484.62 L229.38,484.3 L229.68,483.99 L229.98,483.67 L230.27,483.35 L230.57,483.02 L230.86,482.7 L231.16,482.37 L231.45,482.05 L231.75,481.72 L232.05,481.4 L232.34,481.08 L232.64,480.76 L232.93,480.44 L233.23,480.12 L233.52,479.81 L233.82,479.5 L234.12,479.19 L234.41,478.89 L234.71,478.59 L235,478.3 L235.3,478.01 L235.59,477.73 L235.89,477.45 L236.19,477.18 L236.48,476.92 L236.78,476.67 L237.07,476.42 L237.37,476.18 L237.66,475.95 L237.96,475.73 L238.26,475.51 L238.55,475.31 L238.85,475.11 L239.14,474.93 L239.44,474.76 L239.73,474.59 L240.03,474.44 L240.33,474.29 L240.62,474.16 L240.92,474.04 L241.21,473.93 L241.51,473.83 L241.8,473.75 L242.1,473.67" stroke-width="1.1"/>
<path d="M35.1,483.67 L35.4,482.76 L35.69,481.84 L35.99,480.92 L36.28,480.01 L36.58,479.09 L36.87,478.19 L37.17,477.28 L37.47,476.38 L37.76,475.49 L38.06,474.61 L38.35,473.74 L38.65,472.88 L38.94,472.04 L39.24,471.21 L39.54,470.39 L39.83,469.59 L40.13,468.8 L40.42,468.03 L40.72,467.29 L41.01,466.56 L41.31,465.85 L41.61,465.17 L41.9,464.51 L42.2,463.87 L42.49,463.26 L42.79,462.68 L43.08,462.12 L43.38,461.59 L43.68,461.09 L43.97,460.61 L44.27,460.17 L44.56,459.75 L44.86,459.37 L45.15,459.01 L45.45,458.69 L45.75,458.4 L46.04,458.15 L46.34,457.92 L46.63,457.73 L46.93,457.58 L47.22,457.45 L47.52,457.36 L47.82,457.31 L48.11,457.29 L48.41,457.3 L48.7,457.35 L49,457.43 L49.29,457.54 L49.59,457.69 L49.89,457.87 L50.18,458.09 L50.48,458.33 L50.77,458.62 L51.07,458.93 L51.36,459.27 L51.66,459.65 L51.96,460.06 L52.25,460.49 L52.55,460.96 L52.84,461.45 L53.14,461.98 L53.43,462.53 L53.73,463.11 L54.03,463.71 L54.32,464.34 L54.62,465 L54.91,465.67 L55.21,466.37 L55.5,467.1 L55.8,467.84 L56.1,468.6 L56.39,469.38 L56.69,470.18 L56.98,470.99 L57.28,471.82 L57.57,472.66 L57.87,473.52 L58.17,474.39 L58.46,475.26 L58.76,476.15 L59.05,477.05 L59.35,477.95 L59.64,478.86 L59.94,479.77 L60.24,480.68 L60.53,481.6 L60.83,482.52 L61.12,483.44 L61.42,484.35 L61.71,485.26 L62.01,486.17 L62.31,487.07 L62.6,487.96 L62.9,488.85 L63.19,489.73 L63.49,490.59 L63.78,491.45 L64.08,492.29 L64.38,493.12 L64.67,493.93 L64.97,494.72 L65.26,495.5 L65.56,496.26 L65.85,497 L66.15,497.72 L66.45,498.42 L66.74,499.09 L67.04,499.74 L67.33,500.37 L67.63,500.97 L67.92,501.54 L68.22,502.09 L68.52,502.61 L68.81,503.1 L69.11,503.57 L69.4,504 L69.7,504.4 L69.99,504.77 L70.29,505.11 L70.59,505.42 L70.88,505.7 L71.18,505.94 L71.47,506.15 L71.77,506.33 L72.06,506.48 L72.36,506.59 L72.66,506.66 L72.95,506.7 L73.25,506.71 L73.54,506.69 L73.84,506.63 L74.13,506.53 L74.43,506.4 L74.73,506.24 L75.02,506.05 L75.32,505.82 L75.61,505.56 L75.91,505.27 L76.2,504.94 L76.5,504.58 L76.8,504.2 L77.09,503.78 L77.39,503.33 L77.68,502.85 L77.98,502.34 L78.27,501.81 L78.57,501.25 L78.87,500.66 L79.16,500.04 L79.46,499.4 L79.75,498.74 L80.05,498.05 L80.34,497.35 L80.64,496.62 L80.94,495.87 L81.23,495.1 L81.53,494.31 L81.82,493.51 L82.12,492.69 L82.41,491.85 L82.71,491 L83.01,490.14 L83.3,489.27 L83.6,488.39 L83.89,487.5 L84.19,486.6 L84.48,485.7 L84.78,484.79 L85.08,483.87 L85.37,482.96 L85.67,482.04 L85.96,481.12 L86.26,480.21 L86.55,479.29 L86.85,478.38 L87.15,477.48 L87.44,476.58 L87.74,475.69 L88.03,474.8 L88.33,473.93 L88.62,473.07 L88.92,472.22 L89.22,471.39 L89.51,470.56 L89.81,469.76 L90.1,468.97 L90.4,468.2 L90.69,467.45 L90.99,466.72 L91.29,466.01 L91.58,465.32 L91.88,464.65 L92.17,464.01 L92.47,463.39 L92.76,462.8 L93.06,462.24 L93.36,461.7 L93.65,461.19 L93.95,460.71 L94.24,460.26 L94.54,459.84 L94.83,459.45 L95.13,459.09 L95.43,458.76 L95.72,458.46 L96.02,458.2 L96.31,457.97 L96.61,457.77 L96.9,457.61 L97.2,457.48 L97.5,457.38 L97.79,457.32 L98.09,457.29 L98.38,457.29 L98.68,457.33 L98.97,457.41 L99.27,457.51 L99.57,457.65 L99.86,457.83 L100.16,458.04 L100.45,458.28 L100.75,458.55 L101.04,458.86 L101.34,459.19 L101.64,459.56 L101.93,459.96 L102.23,460.39 L102.52,460.85 L102.82,461.34 L103.11,461.86 L103.41,462.41 L103.71,462.98 L104,463.58 L104.3,464.2 L104.59,464.85 L104.89,465.53 L105.18,466.22 L105.48,466.94 L105.78,467.67 L106.07,468.43 L106.37,469.21 L106.66,470 L106.96,470.81 L107.25,471.64 L107.55,472.48 L107.85,473.33 L108.14,474.2 L108.44,475.07 L108.73,475.96 L109.03,476.85 L109.32,477.75 L109.62,478.66 L109.92,479.57 L110.21,480.48 L110.51,481.4 L110.8,482.32 L111.1,483.24 L111.39,484.15 L111.69,485.06 L111.99,485.97 L112.28,486.88 L112.58,487.77 L112.87,488.66 L113.17,489.54 L113.46,490.41 L113.76,491.26 L114.06,492.11 L114.35,492.94 L114.65,493.75 L114.94,494.55 L115.24,495.33 L115.53,496.1 L115.83,496.84 L116.13,497.56 L116.42,498.27 L116.72,498.95 L117.01,499.6 L117.31,500.23 L117.6,500.84 L117.9,501.42 L118.2,501.97 L118.49,502.5 L118.79,503 L119.08,503.47 L119.38,503.91 L119.67,504.32 L119.97,504.7 L120.27,505.04 L120.56,505.36 L120.86,505.64 L121.15,505.89 L121.45,506.11 L121.74,506.3 L122.04,506.45 L122.34,506.56 L122.63,506.65 L122.93,506.7 L123.22,506.71 L123.52,506.69 L123.81,506.64 L124.11,506.56 L124.41,506.44 L124.7,506.28 L125,506.09 L125.29,505.87 L125.59,505.62 L125.88,505.33 L126.18,505.01 L126.48,504.66 L126.77,504.28 L127.07,503.87 L127.36,503.43 L127.66,502.96 L127.95,502.46 L128.25,501.93 L128.55,501.37 L128.84,500.79 L129.14,500.18 L129.43,499.55 L129.73,498.89 L130.02,498.21 L130.32,497.5 L130.62,496.78 L130.91,496.03 L131.21,495.27 L131.5,494.48 L131.8,493.68 L132.09,492.87 L132.39,492.03 L132.69,491.19 L132.98,490.33 L133.28,489.46 L133.57,488.58 L133.87,487.69 L134.16,486.8 L134.46,485.89 L134.76,484.98 L135.05,484.07 L135.35,483.16 L135.64,482.24 L135.94,481.32 L136.23,480.41 L136.53,479.49 L136.83,478.58 L137.12,477.67 L137.42,476.77 L137.71,475.88 L138.01,475 L138.3,474.12 L138.6,473.26 L138.9,472.4 L139.19,471.57 L139.49,470.74 L139.78,469.93 L140.08,469.14 L140.37,468.37 L140.67,467.61 L140.97,466.87 L141.26,466.16 L141.56,465.47 L141.85,464.8 L142.15,464.15 L142.44,463.53 L142.74,462.93 L143.04,462.36 L143.33,461.82 L143.63,461.3 L143.92,460.81 L144.22,460.36 L144.51,459.93 L144.81,459.53 L145.11,459.16 L145.4,458.83 L145.7,458.53 L145.99,458.26 L146.29,458.02 L146.58,457.81 L146.88,457.64 L147.18,457.5 L147.47,457.4 L147.77,457.33 L148.06,457.29 L148.36,457.29 L148.65,457.32 L148.95,457.39 L149.25,457.49 L149.54,457.62 L149.84,457.79 L150.13,457.99 L150.43,458.22 L150.72,458.49 L151.02,458.79 L151.32,459.12 L151.61,459.48 L151.91,459.87 L152.2,460.3 L152.5,460.75 L152.79,461.24 L153.09,461.75 L153.39,462.29 L153.68,462.85 L153.98,463.45 L154.27,464.07 L154.57,464.71 L154.86,465.38 L155.16,466.07 L155.46,466.78 L155.75,467.51 L156.05,468.27 L156.34,469.04 L156.64,469.83 L156.93,470.63 L157.23,471.46 L157.53,472.29 L157.82,473.14 L158.12,474.01 L158.41,474.88 L158.71,475.76 L159,476.66 L159.3,477.56 L159.6,478.46 L159.89,479.37 L160.19,480.29 L160.48,481.2 L160.78,482.12 L161.07,483.04 L161.37,483.95 L161.67,484.87 L161.96,485.78 L162.26,486.68 L162.55,487.58 L162.85,488.47 L163.14,489.35 L163.44,490.22 L163.74,491.08 L164.03,491.93 L164.33,492.76 L164.62,493.58 L164.92,494.38 L165.21,495.17 L165.51,495.93 L165.81,496.68 L166.1,497.41 L166.4,498.12 L166.69,498.8 L166.99,499.46 L167.28,500.1 L167.58,500.71 L167.88,501.3 L168.17,501.86 L168.47,502.39 L168.76,502.89 L169.06,503.37 L169.35,503.81 L169.65,504.23 L169.95,504.62 L170.24,504.97 L170.54,505.29 L170.83,505.58 L171.13,505.84 L171.42,506.07 L171.72,506.26 L172.02,506.42 L172.31,506.54 L172.61,506.63 L172.9,506.69 L173.2,506.71 L173.49,506.7 L173.79,506.66 L174.09,506.58 L174.38,506.46 L174.68,506.32 L174.97,506.14 L175.27,505.92 L175.56,505.68 L175.86,505.4 L176.16,505.09 L176.45,504.74 L176.75,504.37 L177.04,503.96 L177.34,503.53 L177.63,503.06 L177.93,502.57 L178.23,502.04 L178.52,501.49 L178.82,500.92 L179.11,500.31 L179.41,499.69 L179.7,499.03 L180,498.36 L180.3,497.66 L180.59,496.94 L180.89,496.19 L181.18,495.43 L181.48,494.65 L181.77,493.86 L182.07,493.04 L182.37,492.22 L182.66,491.37 L182.96,490.52 L183.25,489.65 L183.55,488.77 L183.84,487.89 L184.14,486.99 L184.44,486.09 L184.73,485.18 L185.03,484.27 L185.32,483.36 L185.62,482.44 L185.91,481.52 L186.21,480.6 L186.51,479.69 L186.8,478.78 L187.1,477.87 L187.39,476.97 L187.69,476.07 L187.98,475.19 L188.28,474.31 L188.58,473.44 L188.87,472.59 L189.17,471.75 L189.46,470.92 L189.76,470.11 L190.05,469.31 L190.35,468.53 L190.65,467.77 L190.94,467.03 L191.24,466.31 L191.53,465.61 L191.83,464.94 L192.12,464.29 L192.42,463.66 L192.72,463.06 L193.01,462.48 L193.31,461.93 L193.6,461.41 L193.9,460.92 L194.19,460.45 L194.49,460.02 L194.79,459.61 L195.08,459.24 L195.38,458.9 L195.67,458.59 L195.97,458.31 L196.26,458.07 L196.56,457.85 L196.86,457.68 L197.15,457.53 L197.45,457.42 L197.74,457.34 L198.04,457.3 L198.33,457.29 L198.63,457.31 L198.93,457.37 L199.22,457.46 L199.52,457.59 L199.81,457.75 L200.11,457.94 L200.4,458.17 L200.7,458.43 L201,458.72 L201.29,459.04 L201.59,459.4 L201.88,459.79 L202.18,460.2 L202.47,460.65 L202.77,461.13 L203.07,461.63 L203.36,462.17 L203.66,462.73 L203.95,463.32 L204.25,463.93 L204.54,464.57 L204.84,465.23 L205.14,465.92 L205.43,466.62 L205.73,467.35 L206.02,468.1 L206.32,468.87 L206.61,469.65 L206.91,470.46 L207.21,471.28 L207.5,472.11 L207.8,472.96 L208.09,473.82 L208.39,474.69 L208.68,475.57 L208.98,476.46 L209.28,477.36 L209.57,478.26 L209.87,479.17 L210.16,480.09 L210.46,481 L210.75,481.92 L211.05,482.84 L211.35,483.75 L211.64,484.67 L211.94,485.58 L212.23,486.48 L212.53,487.38 L212.82,488.27 L213.12,489.16 L213.42,490.03 L213.71,490.89 L214.01,491.74 L214.3,492.58 L214.6,493.4 L214.89,494.21 L215.19,495 L215.49,495.77 L215.78,496.52 L216.08,497.25 L216.37,497.96 L216.67,498.65 L216.96,499.32 L217.26,499.96 L217.56,500.58 L217.85,501.17 L218.15,501.74 L218.44,502.28 L218.74,502.79 L219.03,503.27 L219.33,503.72 L219.63,504.14 L219.92,504.54 L220.22,504.9 L220.51,505.23 L220.81,505.52 L221.1,505.79 L221.4,506.02 L221.7,506.22 L221.99,506.39 L222.29,506.52 L222.58,506.62 L222.88,506.68 L223.17,506.71 L223.47,506.71 L223.77,506.67 L224.06,506.6 L224.36,506.49 L224.65,506.35 L224.95,506.18 L225.24,505.97 L225.54,505.73 L225.84,505.46 L226.13,505.16 L226.43,504.82 L226.72,504.45 L227.02,504.05 L227.31,503.62 L227.61,503.17 L227.91,502.68 L228.2,502.16 L228.5,501.62 L228.79,501.04 L229.09,500.45 L229.38,499.82 L229.68,499.18 L229.98,498.5 L230.27,497.81 L230.57,497.09 L230.86,496.36 L231.16,495.6 L231.45,494.83 L231.75,494.03 L232.05,493.22 L232.34,492.4 L232.64,491.56 L232.93,490.71 L233.23,489.84 L233.52,488.97 L233.82,488.08 L234.12,487.19 L234.41,486.29 L234.71,485.38 L235,484.47 L235.3,483.55 L235.59,482.64 L235.89,481.72 L236.19,480.8 L236.48,479.89 L236.78,478.98 L237.07,478.07 L237.37,477.16 L237.66,476.27 L237.96,475.38 L238.26,474.5 L238.55,473.63 L238.85,472.77 L239.14,471.93 L239.44,471.1 L239.73,470.28 L240.03,469.48 L240.33,468.7 L240.62,467.94 L240.92,467.19 L241.21,466.47 L241.51,465.76 L241.8,465.08 L242.1,464.43" stroke-width="2" stroke-dasharray="5 3"/>
<path d="M35.1,487.77 L35.4,485.67 L35.69,483.56 L35.99,481.45 L36.28,479.34 L36.58,477.23 L36.87,475.13 L37.17,473.04 L37.47,470.96 L37.76,468.9 L38.06,466.85 L38.35,464.83 L38.65,462.83 L38.94,460.86 L39.24,458.91 L39.54,457 L39.83,455.12 L40.13,453.28 L40.42,451.48 L40.72,449.72 L41.01,448 L41.31,446.33 L41.61,444.71 L41.9,443.14 L42.2,441.63 L42.49,440.17 L42.79,438.77 L43.08,437.43 L43.38,436.15 L43.68,434.93 L43.97,433.78 L44.27,432.69 L44.56,431.68 L44.86,430.73 L45.15,429.85 L45.45,429.05 L45.75,428.31 L46.04,427.66 L46.34,427.07 L46.63,426.56 L46.93,426.13 L47.22,425.78 L47.52,425.5 L47.82,425.3 L48.11,425.18 L48.41,425.14 L48.7,425.17 L49,425.29 L49.29,425.48 L49.59,425.75 L49.89,426.1 L50.18,426.52 L50.48,427.02 L50.77,427.6 L51.07,428.25 L51.36,428.98 L51.66,429.78 L51.96,430.65 L52.25,431.59 L52.55,432.6 L52.84,433.68 L53.14,434.83 L53.43,436.04 L53.73,437.32 L54.03,438.65 L54.32,440.05 L54.62,441.5 L54.91,443.01 L55.21,444.57 L55.5,446.19 L55.8,447.85 L56.1,449.57 L56.39,451.32 L56.69,453.12 L56.98,454.96 L57.28,456.83 L57.57,458.74 L57.87,460.69 L58.17,462.66 L58.46,464.66 L58.76,466.68 L59.05,468.72 L59.35,470.78 L59.64,472.86 L59.94,474.95 L60.24,477.05 L60.53,479.16 L60.83,481.27 L61.12,483.38 L61.42,485.49 L61.71,487.59 L62.01,489.69 L62.31,491.77 L62.6,493.85 L62.9,495.9 L63.19,497.94 L63.49,499.96 L63.78,501.95 L64.08,503.91 L64.38,505.84 L64.67,507.74 L64.97,509.61 L65.26,511.43 L65.56,513.22 L65.85,514.96 L66.15,516.66 L66.45,518.31 L66.74,519.91 L67.04,521.45 L67.33,522.95 L67.63,524.38 L67.92,525.76 L68.22,527.08 L68.52,528.33 L68.81,529.53 L69.11,530.65 L69.4,531.71 L69.7,532.7 L69.99,533.62 L70.29,534.47 L70.59,535.25 L70.88,535.95 L71.18,536.58 L71.47,537.14 L71.77,537.61 L72.06,538.02 L72.36,538.34 L72.66,538.59 L72.95,538.76 L73.25,538.85 L73.54,538.86 L73.84,538.79 L74.13,538.65 L74.43,538.42 L74.73,538.12 L75.02,537.74 L75.32,537.29 L75.61,536.76 L75.91,536.15 L76.2,535.47 L76.5,534.72 L76.8,533.89 L77.09,532.99 L77.39,532.02 L77.68,530.98 L77.98,529.88 L78.27,528.7 L78.57,527.47 L78.87,526.17 L79.16,524.81 L79.46,523.39 L79.75,521.91 L80.05,520.38 L80.34,518.8 L80.64,517.17 L80.94,515.48 L81.23,513.75 L81.53,511.98 L81.82,510.17 L82.12,508.31 L82.41,506.42 L82.71,504.5 L83.01,502.55 L83.3,500.56 L83.6,498.56 L83.89,496.52 L84.19,494.47 L84.48,492.41 L84.78,490.32 L85.08,488.23 L85.37,486.13 L85.67,484.02 L85.96,481.91 L86.26,479.8 L86.55,477.69 L86.85,475.59 L87.15,473.49 L87.44,471.41 L87.74,469.35 L88.03,467.3 L88.33,465.27 L88.62,463.26 L88.92,461.28 L89.22,459.33 L89.51,457.41 L89.81,455.52 L90.1,453.68 L90.4,451.86 L90.69,450.1 L90.99,448.37 L91.29,446.69 L91.58,445.06 L91.88,443.48 L92.17,441.96 L92.47,440.48 L92.76,439.07 L93.06,437.72 L93.36,436.42 L93.65,435.19 L93.95,434.03 L94.24,432.93 L94.54,431.89 L94.83,430.93 L95.13,430.04 L95.43,429.22 L95.72,428.47 L96.02,427.79 L96.31,427.19 L96.61,426.67 L96.9,426.22 L97.2,425.85 L97.5,425.55 L97.79,425.34 L98.09,425.2 L98.38,425.14 L98.68,425.16 L98.97,425.26 L99.27,425.43 L99.57,425.69 L99.86,426.02 L100.16,426.42 L100.45,426.91 L100.75,427.47 L101.04,428.11 L101.34,428.82 L101.64,429.6 L101.93,430.45 L102.23,431.38 L102.52,432.38 L102.82,433.44 L103.11,434.57 L103.41,435.77 L103.71,437.03 L104,438.36 L104.3,439.74 L104.59,441.18 L104.89,442.68 L105.18,444.23 L105.48,445.83 L105.78,447.49 L106.07,449.19 L106.37,450.94 L106.66,452.73 L106.96,454.56 L107.25,456.42 L107.55,458.33 L107.85,460.26 L108.14,462.23 L108.44,464.22 L108.73,466.24 L109.03,468.28 L109.32,470.33 L109.62,472.41 L109.92,474.49 L110.21,476.59 L110.51,478.7 L110.8,480.81 L111.1,482.92 L111.39,485.03 L111.69,487.13 L111.99,489.23 L112.28,491.32 L112.58,493.4 L112.87,495.46 L113.17,497.5 L113.46,499.52 L113.76,501.52 L114.06,503.48 L114.35,505.42 L114.65,507.33 L114.94,509.2 L115.24,511.04 L115.53,512.83 L115.83,514.59 L116.13,516.29 L116.42,517.95 L116.72,519.56 L117.01,521.12 L117.31,522.63 L117.6,524.08 L117.9,525.47 L118.2,526.8 L118.49,528.07 L118.79,529.27 L119.08,530.41 L119.38,531.49 L119.67,532.49 L119.97,533.43 L120.27,534.29 L120.56,535.09 L120.86,535.81 L121.15,536.45 L121.45,537.02 L121.74,537.52 L122.04,537.94 L122.34,538.28 L122.63,538.54 L122.93,538.73 L123.22,538.83 L123.52,538.86 L123.81,538.81 L124.11,538.68 L124.41,538.48 L124.7,538.19 L125,537.83 L125.29,537.4 L125.59,536.88 L125.88,536.29 L126.18,535.63 L126.48,534.89 L126.77,534.07 L127.07,533.19 L127.36,532.24 L127.66,531.21 L127.95,530.12 L128.25,528.96 L128.55,527.74 L128.84,526.46 L129.14,525.11 L129.43,523.7 L129.73,522.24 L130.02,520.72 L130.32,519.15 L130.62,517.52 L130.91,515.85 L131.21,514.13 L131.5,512.37 L131.8,510.56 L132.09,508.72 L132.39,506.84 L132.69,504.92 L132.98,502.97 L133.28,501 L133.57,498.99 L133.87,496.97 L134.16,494.92 L134.46,492.86 L134.76,490.78 L135.05,488.69 L135.35,486.58 L135.64,484.48 L135.94,482.37 L136.23,480.26 L136.53,478.15 L136.83,476.04 L137.12,473.95 L137.42,471.86 L137.71,469.79 L138.01,467.74 L138.3,465.71 L138.6,463.7 L138.9,461.71 L139.19,459.75 L139.49,457.83 L139.78,455.93 L140.08,454.07 L140.37,452.25 L140.67,450.48 L140.97,448.74 L141.26,447.05 L141.56,445.41 L141.85,443.82 L142.15,442.28 L142.44,440.8 L142.74,439.37 L143.04,438.01 L143.33,436.7 L143.63,435.45 L143.92,434.27 L144.22,433.16 L144.51,432.11 L144.81,431.13 L145.11,430.22 L145.4,429.39 L145.7,428.62 L145.99,427.93 L146.29,427.32 L146.58,426.78 L146.88,426.31 L147.18,425.92 L147.47,425.61 L147.77,425.38 L148.06,425.22 L148.36,425.15 L148.65,425.15 L148.95,425.23 L149.25,425.39 L149.54,425.62 L149.84,425.94 L150.13,426.33 L150.43,426.8 L150.72,427.34 L151.02,427.96 L151.32,428.65 L151.61,429.42 L151.91,430.26 L152.2,431.17 L152.5,432.16 L152.79,433.21 L153.09,434.32 L153.39,435.51 L153.68,436.75 L153.98,438.06 L154.27,439.43 L154.57,440.86 L154.86,442.35 L155.16,443.89 L155.46,445.48 L155.75,447.12 L156.05,448.82 L156.34,450.55 L156.64,452.33 L156.93,454.15 L157.23,456.01 L157.53,457.91 L157.82,459.84 L158.12,461.8 L158.41,463.78 L158.71,465.8 L159,467.83 L159.3,469.88 L159.6,471.96 L159.89,474.04 L160.19,476.14 L160.48,478.24 L160.78,480.35 L161.07,482.46 L161.37,484.57 L161.67,486.68 L161.96,488.78 L162.26,490.87 L162.55,492.95 L162.85,495.01 L163.14,497.06 L163.44,499.08 L163.74,501.08 L164.03,503.06 L164.33,505 L164.62,506.92 L164.92,508.8 L165.21,510.64 L165.51,512.45 L165.81,514.21 L166.1,515.93 L166.4,517.6 L166.69,519.22 L166.99,520.79 L167.28,522.3 L167.58,523.77 L167.88,525.17 L168.17,526.51 L168.47,527.8 L168.76,529.02 L169.06,530.17 L169.35,531.26 L169.65,532.28 L169.95,533.23 L170.24,534.11 L170.54,534.92 L170.83,535.66 L171.13,536.32 L171.42,536.9 L171.72,537.42 L172.02,537.85 L172.31,538.21 L172.61,538.49 L172.9,538.69 L173.2,538.82 L173.49,538.86 L173.79,538.83 L174.09,538.72 L174.38,538.53 L174.68,538.26 L174.97,537.92 L175.27,537.5 L175.56,537 L175.86,536.43 L176.16,535.78 L176.45,535.05 L176.75,534.26 L177.04,533.39 L177.34,532.45 L177.63,531.44 L177.93,530.36 L178.23,529.22 L178.52,528.01 L178.82,526.74 L179.11,525.41 L179.41,524.01 L179.7,522.56 L180,521.06 L180.3,519.49 L180.59,517.88 L180.89,516.22 L181.18,514.51 L181.48,512.76 L181.77,510.96 L182.07,509.12 L182.37,507.25 L182.66,505.34 L182.96,503.4 L183.25,501.43 L183.55,499.43 L183.84,497.41 L184.14,495.37 L184.44,493.31 L184.73,491.23 L185.03,489.14 L185.32,487.04 L185.62,484.94 L185.91,482.83 L186.21,480.71 L186.51,478.61 L186.8,476.5 L187.1,474.4 L187.39,472.32 L187.69,470.24 L187.98,468.19 L188.28,466.15 L188.58,464.13 L188.87,462.14 L189.17,460.18 L189.46,458.24 L189.76,456.34 L190.05,454.47 L190.35,452.65 L190.65,450.86 L190.94,449.11 L191.24,447.41 L191.53,445.76 L191.83,444.16 L192.12,442.61 L192.42,441.12 L192.72,439.68 L193.01,438.3 L193.31,436.98 L193.6,435.72 L193.9,434.52 L194.19,433.4 L194.49,432.33 L194.79,431.34 L195.08,430.42 L195.38,429.56 L195.67,428.78 L195.97,428.08 L196.26,427.44 L196.56,426.89 L196.86,426.4 L197.15,426 L197.45,425.67 L197.74,425.42 L198.04,425.25 L198.33,425.16 L198.63,425.14 L198.93,425.2 L199.22,425.35 L199.52,425.57 L199.81,425.86 L200.11,426.24 L200.4,426.69 L200.7,427.22 L201,427.82 L201.29,428.5 L201.59,429.25 L201.88,430.07 L202.18,430.97 L202.47,431.94 L202.77,432.97 L203.07,434.07 L203.36,435.24 L203.66,436.48 L203.95,437.77 L204.25,439.13 L204.54,440.55 L204.84,442.02 L205.14,443.55 L205.43,445.13 L205.73,446.76 L206.02,448.44 L206.32,450.17 L206.61,451.94 L206.91,453.75 L207.21,455.61 L207.5,457.49 L207.8,459.42 L208.09,461.37 L208.39,463.35 L208.68,465.36 L208.98,467.39 L209.28,469.44 L209.57,471.5 L209.87,473.59 L210.16,475.68 L210.46,477.78 L210.75,479.89 L211.05,482 L211.35,484.11 L211.64,486.22 L211.94,488.32 L212.23,490.41 L212.53,492.5 L212.82,494.56 L213.12,496.61 L213.42,498.64 L213.71,500.65 L214.01,502.63 L214.3,504.58 L214.6,506.51 L214.89,508.39 L215.19,510.25 L215.49,512.06 L215.78,513.83 L216.08,515.56 L216.37,517.24 L216.67,518.87 L216.96,520.45 L217.26,521.98 L217.56,523.45 L217.85,524.87 L218.15,526.23 L218.44,527.52 L218.74,528.76 L219.03,529.93 L219.33,531.03 L219.63,532.06 L219.92,533.03 L220.22,533.93 L220.51,534.75 L220.81,535.5 L221.1,536.18 L221.4,536.78 L221.7,537.31 L221.99,537.76 L222.29,538.14 L222.58,538.43 L222.88,538.65 L223.17,538.8 L223.47,538.86 L223.77,538.84 L224.06,538.75 L224.36,538.58 L224.65,538.33 L224.95,538 L225.24,537.6 L225.54,537.11 L225.84,536.56 L226.13,535.92 L226.43,535.22 L226.72,534.44 L227.02,533.58 L227.31,532.66 L227.61,531.67 L227.91,530.6 L228.2,529.48 L228.5,528.28 L228.79,527.02 L229.09,525.7 L229.38,524.32 L229.68,522.88 L229.98,521.39 L230.27,519.84 L230.57,518.24 L230.86,516.59 L231.16,514.89 L231.45,513.14 L231.75,511.35 L232.05,509.53 L232.34,507.66 L232.64,505.76 L232.93,503.82 L233.23,501.86 L233.52,499.87 L233.82,497.85 L234.12,495.81 L234.41,493.76 L234.71,491.68 L235,489.6 L235.3,487.5 L235.59,485.39 L235.89,483.29 L236.19,481.17 L236.48,479.06 L236.78,476.96 L237.07,474.86 L237.37,472.77 L237.66,470.69 L237.96,468.63 L238.26,466.59 L238.55,464.57 L238.85,462.57 L239.14,460.6 L239.44,458.66 L239.73,456.75 L240.03,454.88 L240.33,453.04 L240.62,451.24 L240.92,449.49 L241.21,447.78 L241.51,446.12 L241.8,444.51 L242.1,442.94" stroke-width="2.1" stroke-dasharray="1.9 1.1"/>
</g>
<path d="M35.1,552.1 v-2.2 M44.1,552.1 v-2.2 M53.1,552.1 v-2.2 M62.1,552.1 v-4 M71.1,552.1 v-2.2 M80.1,552.1 v-2.2 M89.1,552.1 v-2.2 M98.1,552.1 v-2.2 M107.1,552.1 v-4 M116.1,552.1 v-2.2 M125.1,552.1 v-2.2 M134.1,552.1 v-2.2 M143.1,552.1 v-2.2 M152.1,552.1 v-4 M161.1,552.1 v-2.2 M170.1,552.1 v-2.2 M179.1,552.1 v-2.2 M188.1,552.1 v-2.2 M197.1,552.1 v-4 M206.1,552.1 v-2.2 M215.1,552.1 v-2.2 M224.1,552.1 v-2.2 M233.1,552.1 v-2.2 M242.1,552.1 v-4 M35.1,551.98 h2.2 M35.1,547.61 h4 M35.1,543.24 h2.2 M35.1,538.86 h2.2 M35.1,534.49 h2.2 M35.1,530.11 h2.2 M35.1,525.74 h4 M35.1,521.37 h2.2 M35.1,516.99 h2.2 M35.1,512.62 h2.2 M35.1,508.24 h2.2 M35.1,503.87 h4 M35.1,499.5 h2.2 M35.1,495.12 h2.2 M35.1,490.75 h2.2 M35.1,486.37 h2.2 M35.1,482 h4 M35.1,477.63 h2.2 M35.1,473.25 h2.2 M35.1,468.88 h2.2 M35.1,464.5 h2.2 M35.1,460.13 h4 M35.1,455.76 h2.2 M35.1,451.38 h2.2 M35.1,447.01 h2.2 M35.1,442.63 h2.2 M35.1,438.26 h4 M35.1,433.89 h2.2 M35.1,429.51 h2.2 M35.1,425.14 h2.2 M35.1,420.76 h2.2 M35.1,416.39 h4 M35.1,412.02 h2.2" stroke="#222" stroke-width="1.1" fill="none"/>
<rect x="35.1" y="407.7" width="207.0" height="144.4" fill="none" stroke="#222" stroke-width="1.7"/>
<text transform="translate(62.1,561.2) scale(1.02,1)" class="tk" text-anchor="middle">120</text>
<text transform="translate(107.1,561.2) scale(1.02,1)" class="tk" text-anchor="middle">125</text>
<text transform="translate(152.1,561.2) scale(1.02,1)" class="tk" text-anchor="middle">130</text>
<text transform="translate(197.1,561.2) scale(1.02,1)" class="tk" text-anchor="middle">135</text>
<text transform="translate(242.1,561.2) scale(1.02,1)" class="tk" text-anchor="middle">140</text>
<text transform="translate(32.5,419.69) scale(1.02,1)" class="tk" text-anchor="end">3</text>
<text transform="translate(32.5,441.56) scale(1.02,1)" class="tk" text-anchor="end">2</text>
<text transform="translate(32.5,463.43) scale(1.02,1)" class="tk" text-anchor="end">1</text>
<text transform="translate(32.5,485.3) scale(1.02,1)" class="tk" text-anchor="end">0</text>
<text transform="translate(32.5,507.17) scale(1.02,1)" class="tk" text-anchor="end">-1</text>
<text transform="translate(32.5,529.04) scale(1.02,1)" class="tk" text-anchor="end">-2</text>
<text transform="translate(32.5,550.91) scale(1.02,1)" class="tk" text-anchor="end">-3</text>
<text transform="translate(128,11.8) scale(1.12,1)" class="ti"><tspan x="-0.17" dy="0" style="font-size:15.0px">f</tspan><tspan x="2.06" dy="5" style="font-size:13.0px">r</tspan><tspan x="6.78" dy="-5" style="font-size:15.0px">=</tspan><tspan x="16.3" dy="0" style="font-size:15.0px">0</tspan><tspan x="23.48" dy="0" style="font-size:15.0px">.</tspan><tspan x="25.85" dy="0" style="font-size:15.0px">8</tspan></text>
<text transform="translate(128.1,205.7) scale(1.12,1)" class="ti"><tspan x="-0.17" dy="0" style="font-size:15.0px">f</tspan><tspan x="1.71" dy="5" style="font-size:13.0px">r</tspan><tspan x="7.04" dy="-5" style="font-size:15.0px">=</tspan><tspan x="17.68" dy="0" style="font-size:15.0px">1</tspan></text>
<text transform="translate(128,398.9) scale(1.12,1)" class="ti"><tspan x="-0.17" dy="0" style="font-size:15.0px">f</tspan><tspan x="2.06" dy="5" style="font-size:13.0px">r</tspan><tspan x="7.22" dy="-5" style="font-size:15.0px">=</tspan><tspan x="16.79" dy="0" style="font-size:15.0px">1</tspan><tspan x="22.59" dy="0" style="font-size:15.0px">.</tspan><tspan x="26.15" dy="0" style="font-size:15.0px">2</tspan></text>
<text transform="translate(392.1,12.3) scale(1.12,1)" class="ti"><tspan x="-0.17" dy="0" style="font-size:15.0px">f</tspan><tspan x="1.62" dy="5" style="font-size:13.0px">r</tspan><tspan x="6.69" dy="-5" style="font-size:15.0px">=</tspan><tspan x="16.74" dy="0" style="font-size:15.0px">0</tspan><tspan x="24.29" dy="0" style="font-size:15.0px">.</tspan><tspan x="26.65" dy="0" style="font-size:15.0px">8</tspan></text>
<text transform="translate(391.9,206.4) scale(1.12,1)" class="ti"><tspan x="-0.17" dy="0" style="font-size:15.0px">f</tspan><tspan x="1.71" dy="5" style="font-size:13.0px">r</tspan><tspan x="6.86" dy="-5" style="font-size:15.0px">=</tspan><tspan x="18.22" dy="0" style="font-size:15.0px">1</tspan></text>
<text transform="translate(392.4,399.1) scale(1.12,1)" class="ti"><tspan x="-0.17" dy="0" style="font-size:15.0px">f</tspan><tspan x="1.71" dy="5" style="font-size:13.0px">r</tspan><tspan x="6.42" dy="-5" style="font-size:15.0px">=</tspan><tspan x="16.97" dy="0" style="font-size:15.0px">1</tspan><tspan x="22.77" dy="0" style="font-size:15.0px">.</tspan><tspan x="26.33" dy="0" style="font-size:15.0px">2</tspan></text>
<text transform="translate(11.9,109.8) rotate(-90) scale(1.0,1)" class="yl"><tspan x="-0.74" dy="0" style="font-size:13.3px">C</tspan><tspan x="5.89" dy="5.9" style="font-size:13.3px">l</tspan><tspan x="11.46" dy="-5.9" style="font-size:13.3px">,</tspan><tspan x="16.91" dy="0" style="font-size:13.3px">y</tspan><tspan x="21.83" dy="0" style="font-size:13.3px">(</tspan><tspan x="27.52" dy="0" style="font-size:13.3px">t</tspan><tspan x="31.83" dy="0" style="font-size:13.3px">)</tspan></text>
<text transform="translate(11.9,303.3) rotate(-90) scale(1.0,1)" class="yl"><tspan x="-0.74" dy="0" style="font-size:13.3px">C</tspan><tspan x="5.89" dy="5.9" style="font-size:13.3px">l</tspan><tspan x="11.46" dy="-5.9" style="font-size:13.3px">,</tspan><tspan x="16.91" dy="0" style="font-size:13.3px">y</tspan><tspan x="21.83" dy="0" style="font-size:13.3px">(</tspan><tspan x="27.52" dy="0" style="font-size:13.3px">t</tspan><tspan x="31.83" dy="0" style="font-size:13.3px">)</tspan></text>
<text transform="translate(11.9,497) rotate(-90) scale(1.0,1)" class="yl"><tspan x="-0.74" dy="0" style="font-size:13.3px">C</tspan><tspan x="5.89" dy="5.9" style="font-size:13.3px">l</tspan><tspan x="11.46" dy="-5.9" style="font-size:13.3px">,</tspan><tspan x="16.91" dy="0" style="font-size:13.3px">y</tspan><tspan x="21.83" dy="0" style="font-size:13.3px">(</tspan><tspan x="27.52" dy="0" style="font-size:13.3px">t</tspan><tspan x="31.83" dy="0" style="font-size:13.3px">)</tspan></text>
<text transform="translate(137.2,188.7) scale(1.2,1)" class="tl"><tspan x="-0.77" dy="0" style="font-size:17.6px">t</tspan></text>
<text transform="translate(137.2,382.3) scale(1.2,1)" class="tl"><tspan x="-0.77" dy="0" style="font-size:17.6px">t</tspan></text>
<text transform="translate(137.2,576.2) scale(1.2,1)" class="tl"><tspan x="-0.77" dy="0" style="font-size:17.6px">t</tspan></text>
<clipPath id="rc0"><rect x="295.9" y="21.3" width="213.2" height="144.3"/></clipPath>
<g clip-path="url(#rc0)"><g filter="url(#soft)">
<rect x="293.9" y="19.3" width="217.2" height="148.3" fill="#73fc3c"/>
<path d="M335.4,152.3 339.4,151.7 342.4,150.5 348.9,146.8 350.4,145.6 351.7,144.3 353.6,140.8 359.7,125.8 363.9,116 365.2,114.3 367.4,113.6 376.9,113.4 379.7,114.3 384.4,117.9 388,122.3 392.4,128.3 396.9,133.5 399.2,135.3 401.4,136 402.9,135.9 405.4,135.4 408.9,134.2 411.9,132.9 421.3,127.8 433.9,120 436.9,118.6 441.4,117.7 458.4,116.3 461.4,116.3 464.4,116.6 481.9,120.8 488.4,122.4 506.4,128 509.9,128.8 509.9,72.8 506.9,72.1 503.9,71 501.4,69.3 497,65.3 494.9,63.8 491.9,62.4 484.9,59.8 479.9,58.7 461.9,57.6 455.9,58.5 444.9,61.4 441.9,62.9 434.9,67.9 431.9,69.7 428.4,71.3 421.9,73.7 419.9,74.1 417.9,74.2 408.4,73.4 404.4,72.5 401.4,70.9 395.9,66.7 387.4,59.2 384.8,57.3 380.9,55.5 372.9,52.5 367.4,51.3 359.4,50 356.4,49.8 353.9,50 350.4,50.7 343.9,52.2 340.9,53.2 339,54.3 337.2,55.8 333.2,59.8 331.1,62.3 328.9,65.6 318.3,83.8 316.4,85.5 314.8,88.3 311.3,92.3 310.9,106.4 310.8,106.8 308.5,109.3 305.3,117.3 304.7,119.3 304.4,121.3 304.6,124.3 305.4,130.8 306.4,135.7 307.3,137.8 309.1,140.8 311.4,144.3 312.9,146.1 314.4,147.4 316.4,148.5 321.9,151.1 324.9,152.2 328.4,152.7 335.4,152.3ZM351.4,110.4 348.9,110.4 347.4,109 346.8,107.8 346.7,106.3 346.9,104.3 347.9,102.7 349.9,101.7 350.8,101.8 351.9,102.2 353,103.3 353.5,104.3 353.8,106.3 353.4,108.3 352.4,109.7 351.4,110.4Z" fill="#64fc55" fill-rule="evenodd"/>
<path d="M334.7,129.8 335.4,129.4 337.9,129.3 338.4,128.9 339.9,128.8 340.4,128.4 341.4,128.3 341.9,127.9 342.9,127.8 343.4,127.4 344,127.3 346.4,125.9 346.9,125.8 349.4,123.9 349.8,123.8 351.4,122.3 352.4,121.3 352.5,120.8 354.4,118.3 354.4,117.8 354.9,117.3 355,116.3 355.4,115.8 355.5,114.3 355.9,113.5 355.9,111.8 355.9,110.3 355.5,109.8 355.4,108.2 355,107.8 354.9,106.8 354.5,106.3 354.4,105.7 354.4,107.8 353.9,108.3 353.9,108.8 352.9,110.1 350.9,111.3 349.4,111.2 348.9,110.8 348.4,110.8 346.6,108.8 346.2,107.3 346.2,105.3 346.7,103.8 347.9,102.1 348.9,101.4 351.4,101.3 350.1,99.8 350.4,99.4 354.9,102.2 359.9,104.6 364.9,106.1 368.4,106.7 372.4,106.9 376.4,106.5 380.9,105.2 385.4,102.6 386.4,102.4 387.9,102.6 389.4,103.1 390.3,103.8 391.4,107.9 392.3,110.3 393.8,112.8 395.6,114.8 397.9,116.6 400.4,117.8 402.9,118.4 405.4,118.6 408.9,118 411.9,116.7 414.4,114.8 416.9,111.8 418.5,108.3 419.2,104.8 419.1,101.3 418.2,97.8 416.6,94.8 414.5,92.3 411.9,90.3 408.9,89 405.9,88.4 403.4,88.5 401.4,88.9 397.4,90.4 396.4,90.6 394.9,90.5 392.4,89.9 391.8,89.3 391.8,88.8 392.1,87.3 392.4,86.7 392.4,83.3 392,82.8 391.9,81.7 390.5,79.3 390.4,78.8 385.9,74.3 384.9,73.7 383.9,72.8 383.4,72.7 381.4,71.3 380.9,71.3 379.4,70.3 377.4,69.7 375.9,68.8 374.9,68.7 374.4,68.3 373.4,68.2 372.9,67.8 371.4,67.7 371,67.3 369.4,67.2 369,66.8 366.9,66.7 366.1,66.3 362.4,66.2 361.4,65.8 356.9,65.8 355.9,66.2 352.5,66.3 351.9,66.7 350.3,66.8 349.9,67.2 348.7,67.3 347.9,67.8 347.3,67.8 342.9,70.3 341.4,71.8 339.9,74.3 339.5,76.8 339.9,79.8 340.3,80.3 340.4,81.1 342,84.8 342.5,87.3 342.4,88.4 341.9,88.4 337.9,86.5 335.9,86.1 333.9,85.9 331.9,86.1 330.4,86.5 327.9,87.5 326.4,88.5 322.9,91.5 321.9,91.6 318.9,91 316.9,90.9 314.9,91 313.9,91.3 312.4,92.3 311.4,95.5 311.1,106.3 311,106.8 310.1,107.8 309.7,108.8 308.3,116.3 308.3,119.3 308.9,121 310.4,122.5 313.4,124.8 313.9,124.9 315.9,126.3 316.4,126.4 316.9,126.8 317.4,126.9 317.9,127.3 318.9,127.5 319.2,127.8 319.9,127.9 320.4,128.3 321.4,128.4 322.2,128.8 323.4,128.9 324.3,129.3 326.4,129.4 327.3,129.8 334.7,129.8ZM465.4,99.3 468.2,98.3 470.9,96.6 472.9,94.8 474.9,92 476.3,88.8 476.9,85.9 477,82.8 476.5,79.8 475.4,76.9 473.9,74.4 471.9,72.2 469.4,70.3 466.9,69.2 463.9,68.4 461.4,68.3 458.4,68.7 455.6,69.8 452.9,71.5 450.9,73.4 448.9,76.3 447.8,78.8 447.2,81.8 447,84.8 447.4,87.6 448.4,90.6 449.9,93.3 451.9,95.6 454,97.3 456.9,98.8 459.4,99.5 462.4,99.7 465.4,99.3ZM509.9,109.3 509.9,92.5 507.9,94.3 506.6,96.3 505.7,98.8 505.5,100.8 505.7,103.3 506.6,105.8 508,107.8 509.9,109.5 509.9,109.3ZM349.9,99.6 349.7,99.3 349.9,99.1 350.2,99.3 349.9,99.6Z" fill="#64fcb9" fill-rule="evenodd"/>
<path d="M374.4,102.8 377.9,102.1 379.4,101.5 381.4,100.3 382.6,99.3 383.7,97.8 384.5,95.3 384.5,92.8 384.2,91.3 383.3,89.3 381.3,86.3 378.4,83.4 374.4,80.5 370.4,78.5 365.9,77 361.4,76.2 357.4,76.1 353.9,76.7 350.4,78.1 348.3,79.8 347.3,81.3 346.7,82.8 346.4,84.8 346.6,86.8 347.3,88.8 348.6,91.3 351.9,95 354.4,97.1 356.9,98.7 362.4,101.2 365.4,102.1 368.4,102.7 371.9,102.9 374.4,102.8ZM463.4,88.3 465.4,86.3 465.9,84.8 465.9,83.2 465.4,81.8 464.4,80.3 461.9,79.3 460.4,79.8 458.9,81.3 458.4,82.3 458.4,85.8 458.9,86.8 460.4,88.3 463.4,88.3ZM319.1,118.8 321.4,118 323.9,116.5 325.7,114.8 327.4,112.5 327.9,112.5 330.9,114.1 332.9,114.6 334.9,114.6 336.9,114.2 338.4,113.5 339.9,112.5 341.6,110.8 343.2,108.3 344.2,105.8 344.6,103.3 344.6,100.8 344.2,98.3 343.3,95.8 341.7,93.3 339.9,91.5 338.4,90.5 335.9,89.6 332.4,89.5 330.4,90.1 327.9,91.7 326.3,93.3 324.4,96.4 323.9,96.8 320.4,95.2 317.4,94.5 315.4,94.6 313.9,94.8 312.9,95.4 312.4,96 311.9,97.1 311.7,98.3 311.3,106.3 311.2,106.8 310.3,107.8 309.9,109.6 309.4,113.3 309.4,115.9 309.8,116.8 310.4,117.3 312.9,118.5 315.9,119.1 319.1,118.8ZM406.4,108.8 406.9,108.4 407.4,108.3 408.4,107.3 409,105.8 409.4,105.3 409.4,101.8 408.4,99.8 407.4,98.8 406.4,98.3 403.4,98.3 401.9,99.3 401.8,99.8 400.9,100.8 400.8,101.8 400.4,102.6 400.4,104.4 401.4,106.8 402.9,108.3 403.8,108.8 406.4,108.8Z" fill="#5ceaff" fill-rule="evenodd"/>
<path d="M374.9,99.8 375.4,99.4 376.9,99.3 377.4,98.9 378,98.8 378.9,98.3 380.4,97 381.4,95.3 381.4,92.7 380.9,91.3 379.9,89.8 379.9,89.3 375.4,84.8 374.9,84.7 373.9,83.8 373.4,83.7 371.2,82.3 369.4,81.7 368.9,81.3 368.4,81.3 367.9,80.8 366.9,80.8 366.4,80.3 364.9,80.2 364.4,79.8 362.9,79.7 361.9,79.3 355.4,79.3 354.9,79.7 353.9,79.8 351.9,80.8 349.9,82.8 349.4,85.3 349.7,85.8 349.9,87.3 350.3,87.8 350.9,89.3 351.8,90.3 351.9,90.8 353.4,92.3 356.4,94.8 356.9,94.8 358.9,96.3 360.4,96.8 360.9,97.3 361.9,97.4 363.4,98.3 364.4,98.3 364.9,98.8 366.4,98.9 366.9,99.3 368.9,99.4 369.8,99.8 374.9,99.8ZM335.1,112.3 336.8,111.8 338.4,110.8 340.4,108.7 341.9,105.5 342.4,102.8 342.4,101.3 341.9,98.5 341.4,97.1 340.4,95.3 339.4,94.1 337.9,92.8 336.9,92.3 335.4,91.8 333.4,91.7 332.4,91.8 330.1,92.8 328.4,94.3 327.4,95.6 326.4,97.6 325.9,99.3 325.7,103.3 325.9,104.8 326.8,107.3 328.9,110.2 331.4,111.9 332.9,112.3 335.1,112.3ZM318.3,115.3 319.4,115.1 321.4,114 322.7,112.8 323.8,111.3 324.8,108.8 325.1,106.8 324.8,104.8 324.1,102.8 323.2,101.3 321.4,99.6 318.9,98.4 316.9,98 315.4,98.1 313.9,98.5 312.9,99 311.9,100.3 311.6,106.3 311,107.3 310.4,109.2 310.3,111.8 310.7,112.8 311.4,113.7 313.4,115 315.9,115.6 318.3,115.3Z" fill="#2b6cfc" fill-rule="evenodd"/>
<path d="M354.9,88.3 355.4,87.8 355.4,85.3 354.8,84.8 353.9,84.8 352.9,85.8 352.9,87.4 353.4,88.3 354.9,88.3ZM368.9,92.8 369.4,92.4 369.9,92.3 369.9,91.8 370.4,91.3 369.9,90.8 369.9,90.3 369.4,90.2 368.9,89.8 368.4,89.8 366.9,90.8 366.9,91.8 368.4,92.8 368.9,92.8ZM334.9,108.8 335.9,108.3 336.9,107.4 337.9,106.3 337.9,105.8 338.4,105.3 338.6,103.8 338.9,103.3 338.9,100.8 338.6,100.3 338.4,98.8 336.9,96.3 335.4,95.3 332.9,95.3 331.9,95.8 330.4,97.3 329.8,98.8 329.4,99.3 329.4,104.5 330.4,106.8 331.9,108.3 332.4,108.4 332.9,108.8 334.9,108.8ZM318.4,113.3 320.4,112.3 321.9,110.8 322.4,109.3 322.9,108.8 322.9,104.8 322.4,104.3 321.9,102.8 320.4,101.3 318.4,100.3 314.8,100.3 313.9,101.1 313.3,102.8 312.3,109.3 312.4,111.6 313.4,112.8 313.9,112.8 314.4,113.3 318.4,113.3Z" fill="#0f08f0" fill-rule="evenodd"/>
<path d="M294.9,120.5 294.9,20.3 315.1,20.3 315.1,78.8 313.9,84.5 313,87.8 310.7,91.3 310.9,100.8 310.6,106.3 310.5,106.8 308.9,108.3 300.9,115.3 299.4,117.9 298.2,118.8 294.9,120.5ZM350.9,108.3 350.4,108.5 349.5,108.3 348.8,107.3 348.7,106.3 348.9,104.8 349.9,103.9 350.4,103.8 350.9,104.1 351.6,105.3 351.7,106.8 351.4,107.8 350.9,108.3Z" fill="#befc3c" fill-rule="evenodd"/>
<path d="M303.9,111.8 302.4,112.3 299.9,111.7 296.9,110.1 294.9,108.4 294.9,88.6 295.4,87.3 295.7,83.3 296.4,80.8 297.5,78.8 298.9,77.5 300.4,77 301.9,77.4 303.4,78.9 304.4,81 305.4,84 307.4,86.3 310.4,92.3 310.5,103.8 310.1,106.8 305.9,110.4 303.9,111.8Z" fill="#ffe81e" fill-rule="evenodd"/>
<path d="M307.4,107.9 305.9,108.2 303.9,108.1 301.9,107.6 299.9,106.6 298.3,105.3 297,103.8 296.1,102.3 295.5,100.3 295.3,98.3 295.6,96.3 296.1,94.8 297,93.3 298.4,91.8 299.9,90.6 301.9,89.7 303.9,89.1 305.9,88.9 307.4,89.2 308.4,90 309.9,92.3 310.1,98.8 309.9,104.9 309.2,106.8 307.4,107.9Z" fill="#ff7308" fill-rule="evenodd"/>
<path d="M306.4,104.8 304.9,104.8 303.2,104.3 301.4,103.3 299.9,101.8 298.9,99.8 298.9,97.3 299.9,95.3 301.4,93.8 302.3,93.3 303.4,92.8 305.9,92.4 307.4,92.8 307.9,93.2 308.4,94.3 309,98.3 308.9,100.2 308.4,102.9 307.9,104 307.4,104.5 306.4,104.8Z" fill="#fa0808" fill-rule="evenodd"/>
<rect x="295.9" y="55.3" width="107.4" height="88.0" fill="#1e8c00" fill-opacity="0.05"/>
<rect x="331.2" y="55.3" width="15.2" height="88.0" fill="#fff" fill-opacity="0.09"/>
</g></g>
<rect x="309.7" y="92.3" width="14.4" height="14.4" fill="#fff" stroke="#222" stroke-width="0.9"/>
<rect x="352.6" y="92.3" width="14.4" height="14.4" fill="#fff" stroke="#222" stroke-width="0.9"/>
<path d="M316.8,165.6 v-2.8 M373.9,165.6 v-1.6 M431.0,165.6 v-1.6 M488.1,165.6 v-1.6 M295.9,35.6 h1.6 M295.9,93.5 h2.8 M295.9,151.3 h1.6" stroke="#222" stroke-width="1.2" fill="none"/>
<rect x="297.1" y="22.5" width="210.8" height="141.9" fill="none" stroke="#fff" stroke-opacity="0.3" stroke-width="1"/>
<rect x="295.9" y="21.3" width="213.2" height="144.3" fill="none" stroke="#222" stroke-width="1.5"/>
<text transform="translate(316.9,177.0) scale(1.05,1)" class="tk" style="font-size:10.2px" text-anchor="middle">0</text>
<text transform="translate(290.2,97.7) scale(1.1,1)" class="tk" style="font-size:10.6px" text-anchor="end">0</text>
<clipPath id="rc1"><rect x="295.9" y="215.1" width="213.2" height="144.1"/></clipPath>
<g clip-path="url(#rc1)"><g filter="url(#soft)">
<rect x="293.9" y="213.1" width="217.2" height="148.1" fill="#73fc3c"/>
<path d="M407.6,360.1 405.7,336.1 405.2,321.1 405.5,317.1 407.3,307.1 407.9,305.1 408.9,303.7 409.9,303 411.4,302.6 421.3,301.1 428.4,300.6 436.4,299.4 438.9,299.4 440.4,299.6 442.4,300.4 445.4,302.1 447.1,303.6 447.9,304.6 450.3,309.1 452,311.6 454.4,314.2 457.3,316.6 460.4,318.5 463.9,320 467.4,320.9 470.9,321.2 475.4,321 479.9,320 483.9,318.4 489.3,315.1 492.9,313.4 509.9,308.7 509.9,255.9 506.9,256.8 504.4,258 501.9,259.6 498.2,262.6 495.4,264.1 476.6,270.1 466.4,271.8 457.4,273.6 455.4,273.4 453.9,272.8 443.9,267.2 437.9,261.9 434.4,259.8 431.9,258.8 429.4,258.3 426.9,258.2 423.9,258.4 420.4,259.3 415.9,261.2 415.4,261.8 413,266.6 412,268.1 409.2,271.1 406.9,273.2 406.4,273.4 405.4,274.2 404.9,274.3 402.4,275.7 399.8,276.6 396.9,277.2 393.9,277.2 391.9,277.2 389.4,276.6 384.9,274.7 382.2,272.6 379.3,269.6 378.3,268.1 377.2,265.6 376.8,265.1 376.2,262.6 375.8,262.1 375.7,260.1 375.2,258.6 375.2,254.1 375,253.6 372.4,250.9 369.9,249.7 358.9,247.6 355.9,247.2 336.4,248.5 330.9,249 328.4,249.6 318.4,252.9 316.4,254.1 314.9,256.7 313.9,260.6 313.3,264.1 312.1,277.6 310.9,284.2 310.9,285.6 311.2,286.1 311.2,286.6 310.8,300.1 309.4,301.9 303.3,307.6 302.3,308.6 302.2,309.1 302.7,314.1 307,339.1 308.7,343.6 314.9,357.3 315.8,360.1 407.6,360.1Z" fill="#64fc55" fill-rule="evenodd"/>
<path d="M356,318.6 356.9,318.2 359,318.1 359.4,317.7 361.1,317.6 361.9,317.2 363,317.1 363.4,316.7 364.4,316.6 364.9,316.2 365.9,316.1 367.4,315.2 369.4,314.6 372.4,312.7 372.9,312.6 373.9,311.7 374.4,311.6 380.9,306 381.9,305.8 386.4,306.3 389.4,306 392.4,304.9 395.4,303 397.3,301.1 398.7,299.1 400.8,294.1 403.4,289.2 403.5,288.1 403.9,287.3 403.9,284.6 403.5,284.1 403.4,282.7 402.5,281.1 402.4,280.6 399.9,277.6 397,277.6 395.9,278 393.9,278 392.9,277.9 392.4,277.6 390.4,277.6 389.5,277.1 388.4,277 387.9,276.6 385.9,276 383.9,274.6 383.4,274.5 380.2,271.6 376.4,271.3 374.4,270.4 372.4,269.1 371.9,269 369.5,267.6 367.9,267 367.5,266.6 366.9,266.5 366.4,266.1 365.4,266 365,265.6 363.9,265.5 363.5,265.1 362.4,265 362,264.6 360.4,264.5 360,264.1 357.9,264 357.5,263.6 354.4,263.5 352.9,263.1 343.4,263.1 336.4,262.1 331.9,262.1 330.9,262.5 328.9,262.6 328.4,262.9 326.9,263.1 326.4,263.5 324.4,264.1 323.9,264.5 322.4,265.1 318.9,267.6 317.9,268.6 317.4,269.4 316.9,271.2 315.7,278.1 314,284.6 312.4,288.5 311.4,292.6 311.1,300.1 310,301.6 309.7,302.6 308.7,309.1 308.7,311.1 308.9,312.2 309.9,313.2 311.4,313.8 313.9,314.5 316.4,314.6 319.9,314.3 324.8,312.6 325.9,312.5 332.4,315.2 332.8,315.6 334.9,316.2 335.4,316.6 336.4,316.7 337.1,317.1 338.4,317.2 338.8,317.6 340.4,317.7 340.9,318.1 343.4,318.2 343.9,318.6 356,318.6ZM428.6,293.1 430.9,292.5 432.9,291.5 434.9,289.9 436.5,288.1 437.7,286.1 438.6,283.6 439,280.6 438.9,278.1 437.9,272 436.9,269.6 435.4,267.6 432.9,265.6 430.5,264.6 429.4,264.5 428.4,264.1 425.4,264.1 424.9,264.4 423.3,264.6 420.4,266 418.9,267.3 417.3,269.1 415.9,271.8 414.1,276.6 413.6,279.1 413.6,281.6 414.1,284.1 415.1,286.6 416.5,288.6 418.9,290.9 421.4,292.3 423.4,293 425.9,293.3 428.6,293.1ZM509.9,290.1 509.9,263.7 508.4,264.3 506.4,265.6 504.9,267 503.6,268.6 502.4,270.6 501.6,272.6 501.2,274.6 501,277.1 501.2,279.6 501.7,281.6 502.5,283.6 503.7,285.6 505,287.1 506.7,288.6 508.9,289.9 509.9,290.3 509.9,290.1ZM475.7,312.1 479.4,310.8 481.9,309.3 484.4,307.1 486.2,304.6 487.6,301.6 488.3,299.1 488.5,296.1 488.1,292.6 487.2,290.1 485.5,287.1 483.4,284.7 480.9,282.8 477.9,281.3 474.4,280.4 470.9,280.3 467.9,280.8 464.9,281.8 461.9,283.6 459.4,286 457.5,288.6 456.2,291.6 455.6,294.6 455.5,297.6 456,300.6 457.2,303.6 459.2,306.6 461.4,308.8 463.9,310.4 466.9,311.7 469.9,312.4 472.9,312.5 475.7,312.1ZM348.4,309.1 346.4,309 345.1,307.6 344.5,306.6 344.5,305.6 344,305.1 344,298.1 344.5,297.6 344.5,296.6 345,296.1 345,295.6 346.9,293.7 347.9,293.7 349.3,294.6 350.3,296.1 350.3,296.6 350.8,297.6 350.9,299.1 351.3,299.6 351.3,303.1 351.3,303.6 350.8,304.1 350.8,305.6 350.3,306.1 350.2,307.1 349.9,307.6 348.4,309.1Z" fill="#64fcb9" fill-rule="evenodd"/>
<path d="M320,310.1 322.9,308.8 326.4,305.8 328.9,306.9 330.9,307.4 332.9,307.4 334.9,306.8 336.4,306 337.9,304.7 339,303.1 339.7,301.6 340,299.1 339,293.6 339,291.1 339.4,290.6 339.4,285.6 339,284.6 338.9,282.1 338.4,281.1 338.4,280 337.9,279.1 337.9,278.4 336.9,276 336,274.6 335,273.6 332.9,272.5 331.4,272.1 327.4,272.1 325.4,273.1 323.9,274.6 323.9,275.1 323.4,275.6 323.4,279.2 324.3,280.6 324.4,281.1 325.9,282.3 326.5,283.1 326.8,284.1 326.8,291.1 326.4,292.6 325.9,293.3 325.4,293.7 324.9,293.6 322.4,291.9 320.9,291.2 318.4,290.5 316.4,290.4 314.9,290.5 313.4,291 312.4,292.1 311.9,293.3 311.3,300.1 310.3,301.6 310,303.1 309.8,306.6 310,308.1 310.4,308.8 311.4,309.5 313.9,310.4 316.9,310.6 320,310.1ZM509.9,282.1 509.9,272.1 509.4,272.6 508.8,274.1 508.4,274.6 508.3,277.1 508.4,279.2 508.9,280.6 509.8,281.6 509.9,282.1ZM429,287.6 430.4,286.9 431.4,286.1 432.3,285.1 433.2,283.6 433.8,281.6 433.7,278.6 432.6,276.1 430.4,273.9 427.9,272.8 425.9,272.7 424.4,272.9 421.9,274.1 420.8,275.1 419.7,276.6 419.1,278.1 418.8,279.6 419,282.6 419.6,284.1 420.7,285.6 422.9,287.3 424.4,287.9 425.9,288.1 427.9,288 429,287.6ZM389,301.1 390.9,300.4 393.2,298.6 394.6,296.6 395.6,293.6 395.6,291.1 394.9,288.6 393.7,286.6 391.9,284.9 389.9,283.7 386.4,282.5 384.4,282 381.9,281.9 381.2,281.6 375.4,281.6 374.4,281.4 372.4,280.2 370.4,279.6 368.4,279.6 366.9,279.9 365.4,280.7 363.7,282.1 362.6,283.6 362.1,285.1 361.9,287.1 362.1,289.1 363,291.1 363.7,292.1 366.4,294.7 368.8,296.1 370.4,296.6 370.9,297.1 371.9,297.1 372.4,297.6 373.9,297.6 374.8,298.1 377.4,298.3 379.4,299 382.4,300.8 383.9,301.3 386.9,301.5 389,301.1ZM474.4,304.6 474.9,304.2 475.9,304.1 476.4,303.6 476.9,303.6 479.4,301.1 480.4,299.2 480.5,298.1 480.9,297.6 480.8,295.1 480.5,294.6 480.4,293.6 479.5,292.1 479.4,291.6 477.4,289.6 474.1,288.1 469.9,288.1 469.4,288.5 468.4,288.6 467.9,289 467.4,289.1 466.4,290 465.9,290.1 464.4,292.1 463.4,294.1 463.4,298.6 463.8,299.1 463.9,300.1 464.8,301.1 464.9,301.6 466.4,303.1 466.9,303.2 468.3,304.1 468.9,304.2 469.4,304.6 474.4,304.6Z" fill="#5ceaff" fill-rule="evenodd"/>
<path d="M427.4,285.1 429.1,284.1 430.4,282.6 430.5,281.6 430.9,281.1 430.9,279.6 430.5,279.1 430.4,278.1 428.4,276.1 427.4,275.9 426.9,275.6 425.4,275.6 424.9,276 423.4,276.6 422.4,278 421.9,279 421.9,282.1 422.4,282.6 422.4,283.1 423.9,284.6 425.3,285.1 427.4,285.1ZM371,292.1 372.9,291 374.2,289.1 374.7,287.1 374.3,285.1 373,283.1 371.4,282 369.4,281.6 367.1,282.1 365.6,283.1 364.4,284.8 363.9,287.1 364.3,289.1 365.4,290.7 367.4,292 369.4,292.4 371,292.1ZM387.9,299.1 390.4,298 392.2,296.1 393.3,293.6 393.2,291.1 392.9,289.9 391.9,288.2 390.1,286.6 387.4,285.6 384.9,285.6 382.3,286.6 380.9,287.8 379.9,289.1 379.1,291.6 379.3,294.1 380.4,296.5 382.4,298.2 384.9,299.2 387.9,299.1ZM318.9,307.1 319.9,306.9 321.4,306 322.5,305.1 323.8,303.6 324.2,302.6 324.5,301.1 324.3,298.6 322.8,296.1 320.4,294.4 317.9,293.6 315.4,293.6 313.9,293.9 312.9,294.4 311.9,295.6 311.6,300.1 310.9,301.1 310.4,303.1 310.6,304.6 311.4,305.8 313.4,307 316.4,307.5 318.9,307.1ZM332.8,304.6 334.9,303.7 336.4,302.2 337.2,300.1 337.1,298.1 336.4,296.2 334.9,294.7 332.9,293.9 330.9,293.8 328.9,294.6 327.4,296 326.4,298.1 326.4,300.1 326.9,301.7 328.6,303.6 330.8,304.6 332.8,304.6Z" fill="#2b6cfc" fill-rule="evenodd"/>
<path d="M370.5,289.1 371.4,288.2 371.9,287.1 371.4,285.6 370,284.6 368.4,284.6 366.9,286.1 366.9,287.7 367.9,289.1 369.4,289.6 370.5,289.1ZM387.4,296.1 387.9,295.7 388.4,295.6 389.9,294.1 390.3,292.6 389.9,290.6 388.4,289.1 387.4,288.9 386.9,288.6 385.4,288.6 383.4,289.6 382.9,290.1 382.4,291.1 382.4,293.8 383.9,295.6 384.4,295.7 384.9,296.1 387.4,296.1ZM318.9,305.6 320.9,304.6 322.4,303.1 322.4,302.6 322.9,302.1 322.9,299.1 322.5,298.6 322.4,298.1 321.5,297.1 320.4,296.1 319.9,296 319.4,295.6 318.4,295.4 317.9,295.1 314.9,295.2 313.9,296.1 313.1,298.6 312.4,302.6 312.7,304.6 313.9,305.6 315.4,305.7 316.4,306.1 317.4,305.7 318.9,305.6ZM331.9,300.1 332.4,299.6 332.4,298.6 331.4,298.6 330.9,299.1 330.9,299.6 331.4,300.1 331.9,300.1Z" fill="#0f08f0" fill-rule="evenodd"/>
<path d="M299.9,309.2 298.4,309.2 294.9,307.5 294.9,214.1 321.4,214.1 319.9,225.1 317.2,237.6 314.9,251.1 313.4,254.6 312.4,256.2 307.3,261.6 306.5,263.1 306,265.1 305.4,272.7 306.3,275.6 308.6,280.6 310.8,286.1 310.8,296.1 310.5,300.1 310.3,300.6 304.9,305.6 301.9,308 299.9,309.2ZM396.4,271.1 393.9,271.3 390.9,270.8 387.9,269.5 385.5,267.6 383.5,265.1 382.1,262.1 381.5,259.6 381.3,256.1 381.7,253.1 383.1,249.1 384.5,246.6 386.9,243.8 389.4,241.8 392.4,240.2 395.9,239.4 398.4,239.3 400.9,239.7 403.4,240.7 405.9,242.4 407.5,244.1 409.1,246.6 410.1,249.1 410.7,252.1 410.7,254.6 410.2,258.1 409.1,261.1 407.8,263.6 406.3,265.6 403.9,267.9 401.9,269.2 399.4,270.4 396.4,271.1Z" fill="#befc3c" fill-rule="evenodd"/>
<path d="M303.9,305.1 302.4,305.2 299.4,304.3 296.9,302.8 294.9,301.2 294.9,281.4 295.4,280.1 295.8,276.1 296.5,273.6 297.7,271.6 298.9,270.5 300.4,270 301.9,270.4 303.4,272 305.1,276.6 307.4,279.6 310.5,286.1 310.5,296.6 310.1,300.1 309.8,300.6 306.4,303.6 303.9,305.1Z" fill="#ffe81e" fill-rule="evenodd"/>
<path d="M307.9,300.8 306.4,301.1 303.9,300.9 301.9,300.4 299.9,299.4 298.3,298.1 297,296.6 296.1,295.1 295.6,293.6 295.3,291.6 295.5,289.6 296.1,287.6 297,286.1 298.4,284.6 299.9,283.4 301.9,282.5 303.9,281.9 305.9,281.7 307.4,282.2 308.9,283.9 310,286.1 309.9,297.6 309,300.1 307.9,300.8Z" fill="#ff7308" fill-rule="evenodd"/>
<path d="M306.4,297.6 304.9,297.6 303.2,297.1 301.4,296.1 299.9,294.6 298.9,292.6 298.9,290.1 299.9,288.1 301.4,286.6 302.3,286.1 303.4,285.6 305.9,285.2 307.4,285.6 307.9,286.1 308.4,287.1 309,291.1 308.9,293 308.4,295.7 307.9,296.8 307.4,297.3 306.4,297.6Z" fill="#fa0808" fill-rule="evenodd"/>
<rect x="295.9" y="249.1" width="107.4" height="88.0" fill="#1e8c00" fill-opacity="0.05"/>
<rect x="331.2" y="249.1" width="15.2" height="88.0" fill="#fff" fill-opacity="0.09"/>
</g></g>
<rect x="309.7" y="286.0" width="14.4" height="14.4" fill="#fff" stroke="#222" stroke-width="0.9"/>
<rect x="352.6" y="286.0" width="14.4" height="14.4" fill="#fff" stroke="#222" stroke-width="0.9"/>
<path d="M316.8,359.2 v-2.8 M373.9,359.2 v-1.6 M431.0,359.2 v-1.6 M488.1,359.2 v-1.6 M295.9,229.4 h1.6 M295.9,287.2 h2.8 M295.9,345.0 h1.6" stroke="#222" stroke-width="1.2" fill="none"/>
<rect x="297.1" y="216.3" width="210.8" height="141.7" fill="none" stroke="#fff" stroke-opacity="0.3" stroke-width="1"/>
<rect x="295.9" y="215.1" width="213.2" height="144.1" fill="none" stroke="#222" stroke-width="1.5"/>
<text transform="translate(316.9,371.0) scale(1.05,1)" class="tk" style="font-size:10.2px" text-anchor="middle">0</text>
<text transform="translate(290.2,290.9) scale(1.1,1)" class="tk" style="font-size:10.6px" text-anchor="end">0</text>
<clipPath id="rc2"><rect x="295.9" y="408.9" width="213.2" height="144.3"/></clipPath>
<g clip-path="url(#rc2)"><g filter="url(#soft)">
<rect x="293.9" y="406.9" width="217.2" height="148.3" fill="#73fc3c"/>
<path d="M398.4,554.4 396.2,530.4 396.3,526.9 398.4,506.4 399.4,504.1 403.4,500.4 405.4,497.9 408.4,492.4 408.9,492.2 409.9,492.2 417.9,495.2 419.1,496.4 421.3,500.4 423.1,502.9 425.4,505.2 427.9,506.9 430.4,508 432.9,508.8 435.4,509.1 437.9,509.1 440.9,508.7 446.4,507.2 449.9,506 463.4,494.9 467.4,492.2 470.4,491.2 474.9,490.8 477.9,490.2 481.4,488.9 485.9,486.4 487.9,486.3 489.9,487.1 491.4,488 494.9,490.8 495.4,491.4 496,492.9 496.5,496.9 497.4,499.9 498.8,502.9 500.9,505.8 502.9,507.8 504.9,509.2 507.4,510.5 509.9,511.3 509.9,462.8 506.9,461.9 479.4,450.8 475.4,450 470.4,450.1 465.4,451.2 458.4,454 455.9,456.1 450.4,462.4 447.9,464.6 437.4,471.4 435.4,472.2 433.4,472.4 430.4,471.7 421.4,469.1 419.9,467.9 417.9,463.9 416.4,461.8 414.9,460.2 412.9,458.5 410.9,457.4 408.4,456.3 401.9,455.1 400.5,454.4 398.4,452.8 398,458.4 397,463.4 395.4,467.2 393.9,469.9 392.5,471.9 389.9,474.5 385.9,476.9 382.4,477.9 378.4,477.9 376.1,477.4 373.7,476.4 371.4,475 369.7,473.4 367.3,470.9 366.3,469.4 363.8,463.9 363.2,460.9 362.8,459.9 362.5,454.9 362.7,450.4 363.9,445.9 364.2,445.4 364.8,443.4 365.2,442.9 365.2,442.4 365.6,441.9 365.4,441.2 357.4,441.3 333.4,443.7 330.9,444.3 328.4,445.8 324.9,449.2 319.9,455.1 315.4,462.5 311.4,469.7 309.4,474.9 309.8,476.9 311.2,479.9 311.2,484.9 310.8,494.4 305.2,499.9 304.7,500.9 305.8,516.9 306.5,520.4 307.9,524.1 314.3,537.4 318.4,545.3 323.9,552.4 325,554.4 398.4,554.4Z" fill="#64fc55" fill-rule="evenodd"/>
<path d="M474.2,482.9 476.9,482.2 478.9,481.3 480.9,479.8 482.6,477.9 483.8,475.9 484.7,473.4 485,470.9 484.8,468.4 484.2,465.9 483.2,463.9 481.6,461.9 479.9,460.4 477.9,459.2 475.4,458.3 473.4,458 470.9,458.1 468.4,458.7 466.4,459.6 464.4,461 462.5,462.9 461.1,465.4 460.2,467.9 460,469.9 460.1,472.4 460.6,474.4 461.7,476.9 463.2,478.9 464.9,480.4 466.9,481.7 469.4,482.6 471.9,483 474.2,482.9ZM344.8,526.9 345.4,526.6 348.5,526.4 349.4,526 350.9,525.9 351.4,525.5 352.6,525.4 353.4,525 354.1,524.9 354.9,524.4 355.5,524.4 355.9,524 357.9,523.4 358.4,522.9 358.9,522.9 360.9,521.5 361.4,521.4 362.4,520.5 362.9,520.4 364.4,519 364.9,518.9 368.9,514.9 372.4,509.9 372.4,509.4 373.4,507.9 374.1,505.9 375.4,504.3 376.4,503.9 383.5,502.9 387.7,501.9 388.4,501.5 389.4,501.4 389.9,501 391.9,500.4 392.4,500 393.9,499.4 396.4,497.5 396.9,497.4 399.4,494.9 399.5,494.4 400.4,493.4 400.9,491.9 401.4,491.4 401.5,489.9 401.9,489.4 401.9,486.6 401.5,485.4 401.6,483.9 402.4,483.6 406.4,483.2 408.9,482.2 411.4,480.1 413.3,477.4 414.2,474.4 414.3,470.9 413.2,467.4 411.4,464.9 409.4,463.2 407.4,462.1 405.9,461.7 402.4,461.5 399.9,462.2 397.4,463.6 395.6,467.9 393.2,471.9 393.1,474.9 392.9,475.5 391.9,475.6 390.4,475.1 389.4,475.4 388.4,476.3 387.9,476.4 386.4,477.3 383.4,478.1 380.4,478.4 377.9,478.2 375.9,477.7 372.4,476.1 369.4,473.9 366.9,474.1 364.9,473.2 363.3,471.4 363,469.4 362.4,468.3 361.4,467.4 359.4,466.4 356.4,466 350.9,466.3 350.1,465.9 347.9,465.8 347.4,465.4 341.4,465.3 336.7,465.4 335.9,465.8 333.9,465.9 333.4,466.3 331.9,466.4 331.4,466.6 330.4,466.4 327.4,464.5 324.9,464 323.4,464.1 321.9,464.6 320,465.9 318.9,467.4 318.3,468.9 318.1,470.9 318.4,472.9 318.1,473.9 315.9,476.4 315.4,477.3 313.8,481.4 311.9,484.9 311.4,486.9 311,494.4 310.1,495.4 309.7,496.4 309.1,502.4 309.2,504.4 309.9,506.4 311.3,508.9 311.4,509.4 311.8,509.9 311.9,510.4 313.8,512.9 313.9,513.4 315.8,515.4 316.4,516.4 320.4,519.9 320.9,520 323.4,521.9 323.9,522 324.4,522.4 326.9,523.5 327.3,523.9 327.9,524 328.4,524.4 329.4,524.5 329.8,524.9 330.9,525 331.3,525.4 332.4,525.5 333.2,525.9 334.9,526 335.3,526.4 338.4,526.5 339.4,526.9 344.8,526.9ZM439.3,503.4 441.9,502.5 443.8,501.4 445.5,499.9 447.1,497.9 448.1,495.9 448.8,493.4 449,490.9 448.7,488.4 448,486.4 446.9,484.4 445.2,482.4 443.4,480.9 441.4,479.9 438.9,479.1 436.4,478.9 433.9,479.2 431.4,480 429.4,481.2 427.9,482.5 426.3,484.4 425.2,486.4 424.4,488.9 424.2,491.4 424.5,493.9 425.3,496.4 426.4,498.4 427.9,500.1 429.9,501.7 431.9,502.8 434.4,503.5 436.9,503.7 439.3,503.4ZM509.9,504.9 509.9,480.8 507.9,481.8 506.4,482.9 504,485.9 502.4,489.7 502,492.9 502.4,496.4 503.3,498.9 504.4,500.8 505.8,502.4 507.4,503.8 509.9,505.2 509.9,504.9Z" fill="#64fcb9" fill-rule="evenodd"/>
<path d="M473.4,476.4 473.9,476 474.9,475.9 475.4,475.4 475.9,475.4 477.4,473.9 477.4,473.4 477.9,472.9 478,471.9 478.4,471.4 478.4,469.4 478,468.9 477.9,467.9 476.7,466.4 475.4,465.4 474.9,465.3 474.4,464.9 470.4,464.9 469.9,465.4 469.4,465.4 468.4,466.4 467.4,467.4 467.4,467.9 466.9,468.4 466.9,472.4 468.4,474.7 469.9,475.9 470.9,476 471.6,476.4 473.4,476.4ZM404.9,479.9 405.9,479.7 407.9,478.6 409.8,476.4 410.7,473.9 410.7,470.9 409.7,468.4 408.4,466.9 407.4,466.1 404.9,465.1 402.4,465.1 399.9,466.1 397.7,468.4 396.7,470.9 396.7,473.9 397.6,476.4 399.4,478.5 400.4,479.2 401.9,479.8 403.4,480 404.9,479.9ZM326.4,473.9 327.9,472.9 328.6,471.9 328.9,470.4 328.6,468.9 327.4,467.5 325.9,466.7 324.4,466.6 322.9,467 321.7,467.9 321,468.9 320.7,470.4 321,471.9 321.9,473.1 323.4,474 324.9,474.2 326.4,473.9ZM331.5,502.4 342.4,500.6 347.9,500.4 348.9,500 353.4,499.9 353.9,499.5 356.9,499.4 357.9,498.9 359.9,498.9 360.4,498.5 362.4,498.4 362.9,498 364.4,497.9 364.9,497.5 366.4,497.4 366.9,497 368.9,497.1 371.9,498.7 373.9,499.3 377.4,499.3 379.9,498.7 381.9,497.7 383.6,496.4 385.3,494.4 386.1,492.9 386.8,490.9 387.2,488.4 387.1,486.9 386.6,484.4 385.1,481.4 382.8,478.9 377.9,478.5 372.9,477 370.4,478.1 368.9,479.2 367.3,480.9 365.4,483.9 364.4,484.3 362.4,484.3 361.4,483.9 355.9,483.8 354.1,483.4 348.4,483.4 346.4,483.8 340.4,483.9 339.4,484.2 335.9,484.4 329.4,485.2 320.9,486.9 314.9,486.9 313.4,487.1 312.4,487.8 311.9,488.5 311.7,489.4 311.3,494.4 310.4,495.4 310.1,496.4 310.1,499.9 310.4,500.8 310.9,501.3 312.9,502.1 315.9,502.4 326.4,502.7 331.5,502.4ZM438.6,497.9 440.9,496.7 442.2,495.4 442.8,494.4 443.5,491.9 443.3,489.4 442.6,487.9 441.9,486.9 439.9,485.2 437.4,484.4 434.9,484.6 432.4,485.8 430.6,487.9 429.7,490.4 429.7,491.9 430,493.4 430.7,494.9 431.4,495.9 432.4,496.8 433.9,497.7 436.4,498.2 438.6,497.9Z" fill="#5ceaff" fill-rule="evenodd"/>
<path d="M404.4,477.4 404.9,477 405.6,476.9 406.4,476.4 407.4,475.4 407.4,474.9 407.9,474.4 407.9,470.8 406.9,469.1 405.4,467.9 401.9,467.9 399.9,469.9 399.9,470.4 399.4,470.9 399.4,473.9 400.4,475.9 400.9,476.4 402.4,477 402.9,477.4 404.4,477.4ZM325.6,471.9 325.9,471.8 326.8,470.9 326.8,469.9 325.9,469 324.9,468.6 323.4,469.2 322.9,469.9 322.9,470.9 323.2,471.4 324.4,472.1 325.6,471.9ZM378.3,496.9 380.9,495.7 382.4,494.4 383.6,492.9 384.7,489.9 384.9,487.9 384.7,485.9 384.2,484.4 383.1,482.4 380.9,480.3 379.4,479.5 377.4,478.9 375.9,478.8 373.9,479 372.4,479.6 370.9,480.4 369.8,481.4 368.6,482.9 367.6,484.9 367.2,486.4 367.1,488.4 367.3,489.9 367.7,491.4 368.8,493.4 370.9,495.6 372.9,496.7 374.4,497.1 376.4,497.2 378.3,496.9ZM330.9,499.4 331.9,499 334.4,498.9 334.9,498.5 336.7,498.4 337.4,498 338.5,497.9 338.9,497.6 341.4,496.9 341.9,496.5 342.5,496.4 344.4,495.4 345.8,494.4 346.9,492.4 346.4,491.4 345.4,490.4 343.9,489.9 343.4,489.4 341.9,489.3 341.4,488.9 338.9,488.8 337.9,488.4 330.9,488.4 330.4,488.7 326.9,488.9 325.9,489.3 324.3,489.4 323.4,489.8 321.4,490.1 316.9,489.6 314.9,489.7 312.9,490.2 311.9,490.9 311.6,494.4 310.9,495.3 310.6,496.4 310.9,498 311.9,498.8 313.4,499.3 315.9,499.6 330.9,499.4ZM438.2,493.4 438.8,492.9 439.2,491.9 439.3,490.9 438.8,489.9 437.9,489 436.9,488.6 435.9,488.7 434.9,489.3 434.1,490.4 434,490.9 434,491.9 434.5,492.9 435.4,493.7 435.9,493.9 437.4,493.8 438.2,493.4Z" fill="#2b6cfc" fill-rule="evenodd"/>
<path d="M325,471.4 325.9,470.9 325.9,469.9 325,469.4 324.4,469.4 323.4,470.4 324.4,471.4 325,471.4ZM377.4,495.4 377.9,495 378.9,494.9 379.4,494.4 379.9,494.4 381.9,492.4 382.4,490.9 382.9,490.4 382.9,485.9 382.5,485.4 382.4,484.4 380.9,482.4 378.4,480.9 376.9,480.8 375.9,480.4 374.9,480.8 373.4,480.9 372.9,481.4 372.4,481.4 369.9,483.9 369.9,484.4 369.4,484.9 369.3,485.9 368.9,486.4 368.9,489.4 369.9,491.9 371.4,493.9 371.9,494 373.3,494.9 373.9,495 374.4,495.4 377.4,495.4ZM436.9,491.9 437.4,491.4 437.4,490.9 435.9,490.9 435.9,491.4 436.3,491.9 436.9,491.9ZM319.9,497.4 320.4,497 321.9,496.4 322.9,495.4 322.9,493.8 322,492.9 321.4,492.4 320,491.9 318.4,491.8 317.9,491.4 315.2,491.4 313.9,492 313.4,492.7 312.7,494.9 312.9,496.7 313.4,497.4 316.4,497.9 317.9,497.5 319.9,497.4Z" fill="#0f08f0" fill-rule="evenodd"/>
<path d="M299.9,503 298.9,503 297.9,502.7 294.9,501.1 294.9,407.9 349.1,407.9 347.5,410.9 339.1,423.4 327.6,439.9 317,454.4 309.7,466.9 307.7,471.9 307.8,472.9 310.8,479.9 310.8,489.9 310.5,494.4 303.9,500.4 301.9,501.9 299.9,503ZM381.4,471.9 378.4,471.8 376.4,471.1 374.4,469.8 372.6,467.9 370.7,464.9 369.6,462.4 368.8,458.9 368.5,456.4 368.5,452.9 369.1,449.4 370.1,446.4 371.6,443.4 373.4,441.2 375.4,439.5 377.4,438.5 379.9,438 381.9,438.1 384.4,439 386.4,440.4 388.3,442.4 390.1,445.4 391.1,447.9 391.7,450.4 392.1,453.9 392.1,456.9 391.6,459.9 390.6,463.4 389.1,466.4 387.4,468.6 385.4,470.4 383.9,471.2 381.4,471.9Z" fill="#befc3c" fill-rule="evenodd"/>
<path d="M303.4,498.9 301.4,498.6 298.9,497.6 296.8,496.4 294.9,494.8 294.9,466.1 295.8,463.4 296.9,461.3 298.8,459.4 300.4,458.8 301.4,459 301.9,459.4 302.9,460.9 306.7,471.9 310.5,479.9 310.5,489.9 310,494.4 305.9,497.8 304.4,498.7 303.4,498.9ZM380.4,468.4 378.9,468 377.9,467.3 377,465.9 376.7,464.4 376.9,463.3 377.9,461.7 379.1,460.9 380.9,460.6 382.1,460.9 383.5,461.9 384.3,463.4 384.5,464.9 384,466.4 383.2,467.4 381.9,468.1 380.4,468.4Z" fill="#ffe81e" fill-rule="evenodd"/>
<path d="M307.9,494.5 306.4,494.7 304.4,494.6 302.4,494.1 300.4,493.2 298.9,492.2 297.1,490.4 296.2,488.9 295.6,487.4 295.3,485.4 295.4,483.9 295.7,482.4 296.6,480.4 297.9,478.7 299.9,477 301.9,476 303.4,475.6 305.9,475.3 307.4,475.9 308.9,477.7 310,479.9 310.1,485.9 309.9,491.3 309.4,493 308.9,493.9 307.9,494.5Z" fill="#ff7308" fill-rule="evenodd"/>
<path d="M306.9,491 303.9,490.9 302.4,490.4 300.9,489.4 299.9,488.4 298.9,486.4 298.9,483.9 299.4,482.4 301.9,479.9 304.4,478.9 306.9,479 307.9,479.7 308.4,480.7 308.9,483.4 308.9,486.6 308.4,489.3 307.9,490.4 307.4,490.9 306.9,491Z" fill="#fa0808" fill-rule="evenodd"/>
<rect x="295.9" y="442.9" width="107.4" height="88.0" fill="#1e8c00" fill-opacity="0.05"/>
<rect x="331.2" y="442.9" width="15.2" height="88.0" fill="#fff" fill-opacity="0.09"/>
</g></g>
<rect x="309.7" y="480.0" width="14.4" height="14.4" fill="#fff" stroke="#222" stroke-width="0.9"/>
<rect x="352.6" y="480.0" width="14.4" height="14.4" fill="#fff" stroke="#222" stroke-width="0.9"/>
<path d="M316.8,553.2 v-2.8 M373.9,553.2 v-1.6 M431.0,553.2 v-1.6 M488.1,553.2 v-1.6 M295.9,423.1 h1.6 M295.9,480.9 h2.8 M295.9,538.7 h1.6" stroke="#222" stroke-width="1.2" fill="none"/>
<rect x="297.1" y="410.1" width="210.8" height="141.9" fill="none" stroke="#fff" stroke-opacity="0.3" stroke-width="1"/>
<rect x="295.9" y="408.9" width="213.2" height="144.3" fill="none" stroke="#222" stroke-width="1.5"/>
<text transform="translate(316.9,564.8) scale(1.05,1)" class="tk" style="font-size:10.2px" text-anchor="middle">0</text>
<text transform="translate(290.2,485.1) scale(1.1,1)" class="tk" style="font-size:10.6px" text-anchor="end">0</text>
<text x="6.9" y="576.1" class="ab">(a)</text>
<text x="272.9" y="576.1" class="ab">(b)</text>
<path d="M125.6,592.3 H176.5" stroke="#000" stroke-width="2" stroke-dasharray="2 1.64" fill="none"/>
<path d="M125.7,607.2 H177" stroke="#000" stroke-width="2" stroke-dasharray="3.85 2.9" fill="none"/>
<path d="M125.9,622.3 H178.9" stroke="#000" stroke-width="1.5" fill="none"/>
<text x="187.4" y="595.8" class="lg">Cl-Cyl-1</text>
<text x="187.4" y="610.0" class="lg">Cl-Cyl-2</text>
<text x="187.6" y="623.9" class="lg">Y(t)</text>
<rect x="303.8" y="594.3" width="8.0" height="14.3" fill="#1408fa" stroke="#111" stroke-width="0.9"/>
<rect x="311.8" y="594.3" width="25.8" height="14.3" fill="#286cfa" stroke="#111" stroke-width="0.9"/>
<rect x="337.6" y="594.3" width="25.0" height="14.3" fill="#55eaff" stroke="#111" stroke-width="0.9"/>
<rect x="362.6" y="594.3" width="25.8" height="14.3" fill="#61fcb6" stroke="#111" stroke-width="0.9"/>
<rect x="388.4" y="594.3" width="25.0" height="14.3" fill="#5afc4b" stroke="#111" stroke-width="0.9"/>
<rect x="413.4" y="594.3" width="25.4" height="14.3" fill="#6bfc30" stroke="#111" stroke-width="0.9"/>
<rect x="438.8" y="594.3" width="25.6" height="14.3" fill="#bafc26" stroke="#111" stroke-width="0.9"/>
<rect x="464.4" y="594.3" width="25.5" height="14.3" fill="#ffe916" stroke="#111" stroke-width="0.9"/>
<rect x="489.9" y="594.3" width="25.4" height="14.3" fill="#ff7305" stroke="#111" stroke-width="0.9"/>
<rect x="515.3" y="594.3" width="12.9" height="14.3" fill="#fc0303" stroke="#111" stroke-width="0.9"/>
<text x="311.8" y="620.9" class="cb" text-anchor="middle">-1</text>
<text x="337.6" y="620.9" class="cb" text-anchor="middle">-0.75</text>
<text x="362.6" y="620.9" class="cb" text-anchor="middle">-0.5</text>
<text x="388.4" y="620.9" class="cb" text-anchor="middle">-0.25</text>
<text x="413.4" y="620.9" class="cb" text-anchor="middle">0</text>
<text x="438.8" y="620.9" class="cb" text-anchor="middle">0.25</text>
<text x="464.4" y="620.9" class="cb" text-anchor="middle">0.5</text>
<text x="489.9" y="620.9" class="cb" text-anchor="middle">0.75</text>
<text x="515.3" y="620.9" class="cb" text-anchor="middle">1</text>
</svg></body></html>
